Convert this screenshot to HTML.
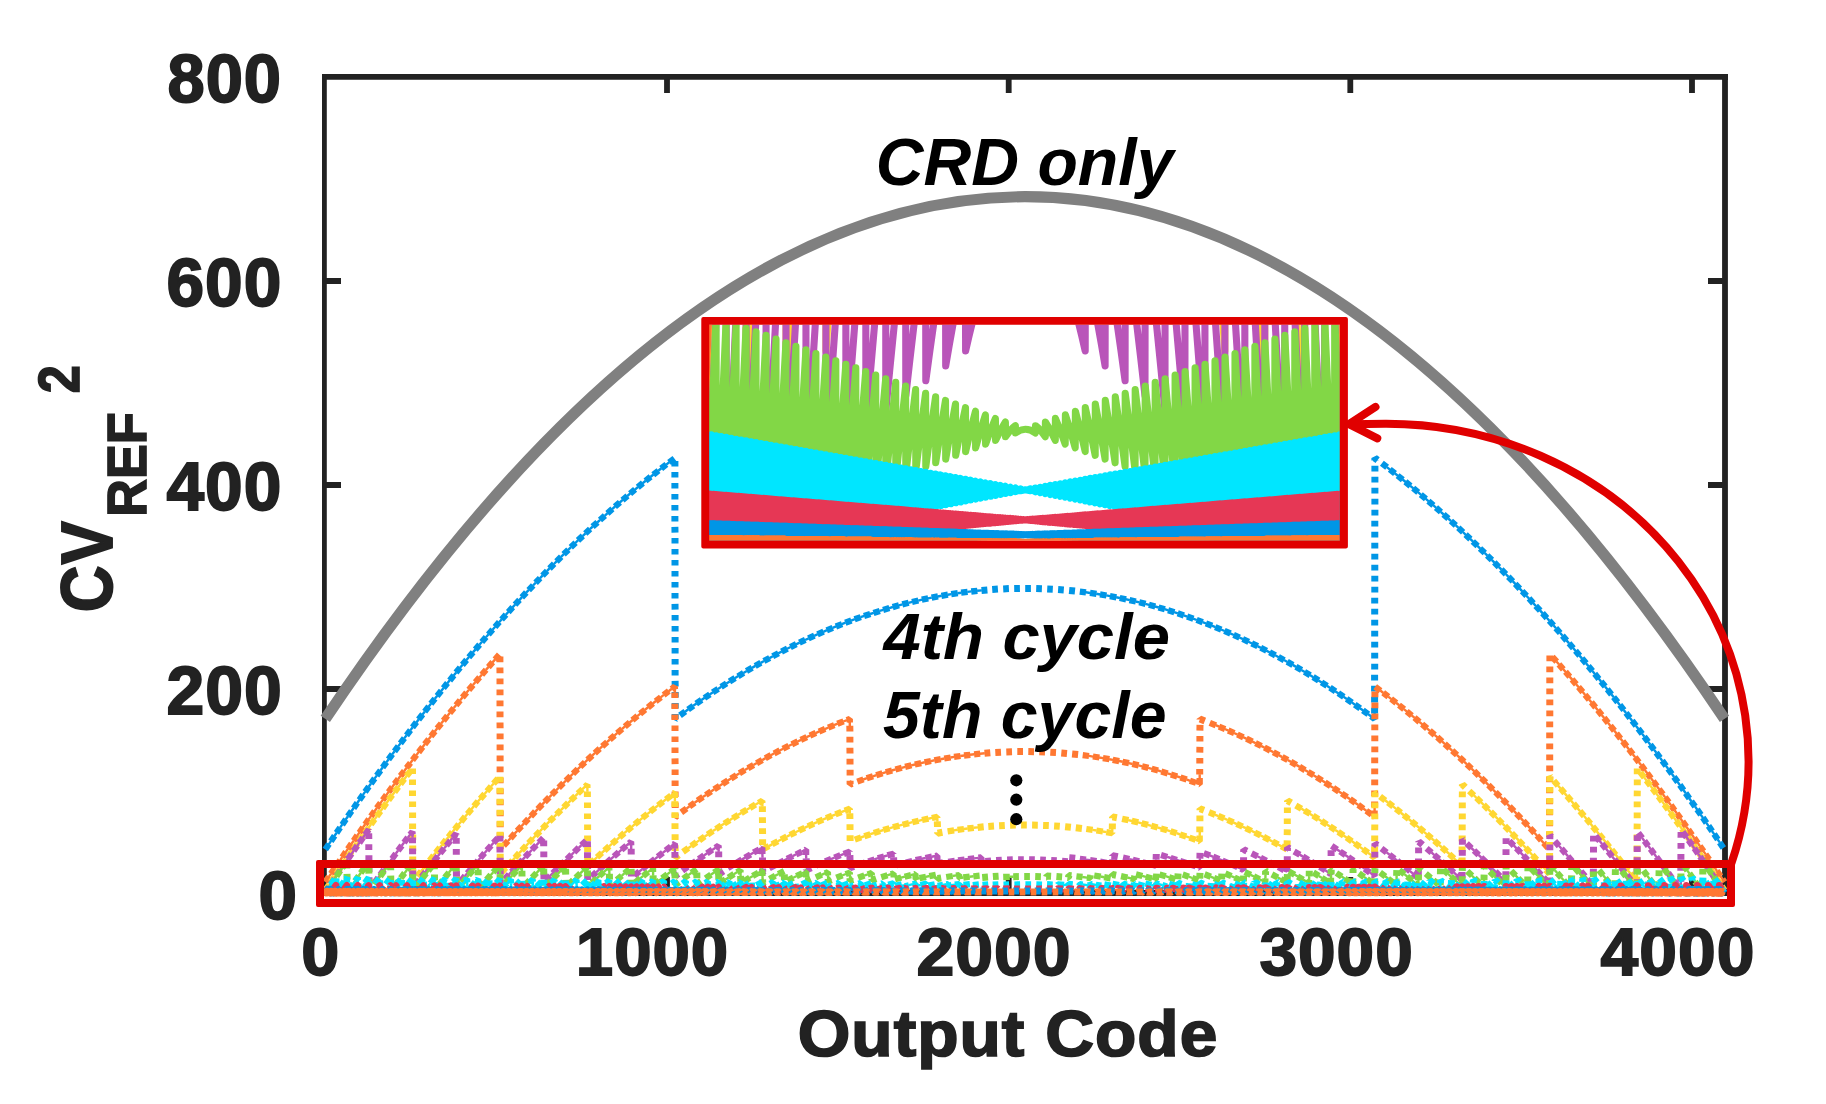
<!DOCTYPE html>
<html lang="en"><head><meta charset="utf-8"><title>CRD switching energy</title>
<style>html,body{margin:0;padding:0;background:#fff}svg{display:block}text{font-family:"Liberation Sans",sans-serif;font-weight:bold}.t{font-size:68px;fill:#222;stroke:#222;stroke-width:1.8px;letter-spacing:1px}.l{font-size:68px;fill:#222;stroke:#222;stroke-width:1.8px;letter-spacing:1px}.u{font-size:55px;fill:#222;stroke:#222;stroke-width:1.6px}.a{font-size:66px;font-style:italic;fill:#000}.d{fill:none;stroke-width:7;stroke-dasharray:5.7 5.3;stroke-linejoin:round;stroke-linecap:butt}.w{fill:none;stroke-width:7;stroke-linejoin:bevel}.w2{fill:none;stroke-width:6.3;stroke-linejoin:bevel}.n{fill:none;stroke-width:2.4}.s{fill:none;stroke-width:7.1;stroke-linejoin:round;stroke-linecap:round}</style></head><body>
<svg width="1826" height="1104" viewBox="0 0 1826 1104">
<rect width="1826" height="1104" fill="#fff"/>
<g stroke="#222222" stroke-width="5.8" fill="none">
<path d="M322 76.9H1728M322 893H1728M1725 74V896" />
<path d="M324.4 74V896" stroke-width="4.8"/>
<path d="M667 79V93M667 891V877M1008.7 79V93M1008.7 891V877M1350.3 79V93M1350.3 891V877M1692 79V93M1692 891V877M326 689H341M1723 689H1708M326 485H341M1723 485H1708M326 281H341M1723 281H1708"/>
</g>
<path d="M325.3 718.9Q675.1 196.8 1024.9 196.7Q1374.7 196.8 1724.5 718.9" fill="none" stroke="#808080" stroke-width="11.2"/>
<path class="w" stroke="#0096e6" d="M674.9 460.9L674.9 466.6M674.9 471.9L674.9 477.6M674.9 482.9L674.9 488.6M674.9 493.9L674.9 499.6M674.9 504.9L674.9 510.6M674.9 515.9L674.9 521.6M674.9 526.9L675 532.6M675 537.9L675 543.6M675 548.9L675 554.6M675 559.9L675 565.6M675 570.9L675 576.6M675 581.9L675 587.6M675 592.9L675 598.6M675 603.9L675.1 609.6M675.1 614.9L675.1 620.6M675.1 625.9L675.1 631.6M675.1 636.9L675.1 642.6M675.1 647.9L675.1 653.6M675.1 658.9L675.1 664.6M675.1 669.9L675.1 675.6M675.1 680.9L675.2 686.6M675.2 691.9L675.2 697.6M675.2 702.9L675.2 708.6M675.2 713.9L675.2 718.9L675.7 718.5M981.5 590.4L987.4 589.9M992.2 589.5L997.9 589.1M1003.2 588.9L1008.9 588.6M1014.2 588.5L1019.9 588.4M1025.2 588.4L1030.9 588.4M1036.2 588.5L1041.9 588.7M1047.2 588.9L1052.8 589.2M1058.1 589.6L1063.8 590M1069.1 590.5L1075 591.1M1374.6 713.4L1374.6 707.7M1374.6 702.4L1374.6 696.7M1374.6 691.4L1374.6 685.7M1374.6 680.4L1374.6 674.7M1374.7 669.4L1374.7 663.7M1374.7 658.4L1374.7 652.7M1374.7 647.4L1374.7 641.7M1374.7 636.4L1374.7 630.7M1374.7 625.4L1374.7 619.7M1374.7 614.4L1374.7 608.7M1374.7 603.4L1374.7 597.7M1374.8 592.4L1374.8 586.7M1374.8 581.4L1374.8 575.7M1374.8 570.4L1374.8 564.7M1374.8 559.4L1374.8 553.7M1374.8 548.4L1374.8 542.7M1374.8 537.4L1374.8 531.7M1374.8 526.4L1374.8 520.7M1374.9 515.4L1374.9 509.7M1374.9 504.4L1374.9 498.7M1374.9 493.4L1374.9 487.7M1374.9 482.4L1374.9 476.7M1374.9 471.4L1374.9 465.7M1374.9 460.4L1374.9 458.1L1377.6 460.1"/>
<path class="w2" stroke="#0096e6" d="M325.3 849.5L329 844M330.9 841.2L334.6 835.7M336.5 832.9L340.2 827.5M342.2 824.7L345.9 819.2M347.8 816.4L351.6 811M353.6 808.2L357.3 802.8M359.3 800L363.1 794.6M365.1 791.9L368.9 786.5M370.9 783.7L374.7 778.4M376.7 775.6L380.6 770.3M382.6 767.5L386.5 762.2M388.5 759.4L392.4 754.1M394.5 751.4L398.4 746.1M400.4 743.4L404.4 738.1M406.5 735.4L410.5 730.2M412.5 727.4L416.5 722.2M418.6 719.5L422.7 714.3M424.7 711.6L428.8 706.4M430.9 703.8L435 698.6M437.1 695.9L441.3 690.8M443.4 688.1L447.5 683M449.7 680.4L453.9 675.2M456 672.6L460.2 667.5M462.4 664.9L466.6 659.9M468.8 657.3L473.1 652.2M475.3 649.6L479.6 644.6M481.8 642L486.1 637M488.4 634.5L492.7 629.5M495 627L499.3 622M501.6 619.5L506 614.6M508.3 612.1L512.7 607.2M515 604.7L519.5 599.8M521.8 597.3L526.3 592.5M528.7 590.1L533.2 585.3M535.6 582.8L540.1 578.1M542.5 575.6L547.1 570.9M549.5 568.5L554.1 563.8M556.5 561.4L561.2 556.7M563.6 554.3L568.4 549.7M570.8 547.3L575.6 542.8M578 540.4L582.8 535.9M585.3 533.5L590.1 529M592.6 526.7L597.5 522.3M600 520L604.9 515.6M607.4 513.3L612.4 508.9M614.9 506.7L619.9 502.3M622.5 500.1L627.5 495.8M630.1 493.6L635.1 489.4M637.8 487.2L642.9 483M645.5 480.9L650.6 476.8M653.3 474.7L658.5 470.6M661.2 468.5L666.4 464.4M669.1 462.4L674.4 458.4M680 715.4L685.3 711.5M688.1 709.5L693.4 705.7M696.2 703.7L701.6 699.9M704.4 698L709.9 694.3M712.7 692.4L718.2 688.8M721.1 686.9L726.6 683.4M729.5 681.5L735.1 678M738 676.3L743.6 672.8M746.5 671.1L752.2 667.8M755.2 666L760.9 662.8M763.9 661.1L769.7 657.9M772.7 656.3L778.5 653.2M781.5 651.6L787.4 648.6M790.4 647.1L796.3 644.2M799.4 642.7L805.3 639.9M808.4 638.4L814.4 635.7M817.5 634.3L823.6 631.7M826.7 630.3L832.8 627.8M835.9 626.5L842.1 624.1M845.3 622.8L851.4 620.5M854.6 619.3L860.8 617.1M864 616L870.3 613.9M873.5 612.9L879.8 610.9M883.1 609.9L889.4 608M892.7 607.1L899 605.3M902.3 604.4L908.7 602.8M912 602L918.4 600.5M921.8 599.7L928.2 598.4M931.6 597.7L938 596.4M941.4 595.8L947.9 594.7M951.2 594.2L957.8 593.2M961.1 592.7L967.6 591.9M971.2 591.5L977.4 590.8M1079.8 591.6L1086 592.4M1090 592.9L1096.5 593.9M1100 594.4L1106.5 595.5M1109.9 596.1L1116.4 597.3M1119.7 598L1126.1 599.3M1129.5 600.1L1135.9 601.5M1139.2 602.3L1145.6 603.9M1148.9 604.8L1155.3 606.5M1158.5 607.5L1164.9 609.3M1168.1 610.3L1174.4 612.3M1177.7 613.3L1183.9 615.4M1187.1 616.5L1193.4 618.7M1196.6 619.9L1202.7 622.2M1205.9 623.4L1212.1 625.8M1215.2 627.1L1221.3 629.6M1224.4 630.9L1230.5 633.5M1233.6 634.9L1239.6 637.6M1242.7 639L1248.7 641.9M1251.7 643.3L1257.7 646.2M1260.7 647.8L1266.6 650.8M1269.6 652.3L1275.4 655.4M1278.4 657L1284.2 660.2M1287.2 661.8L1292.9 665.1M1295.9 666.8L1301.6 670.1M1304.5 671.9L1310.2 675.3M1313.1 677L1318.7 680.5M1321.5 682.3L1327.1 685.9M1330 687.7L1335.5 691.4M1338.3 693.2L1343.8 696.9M1346.6 698.9L1352 702.6M1354.8 704.6L1360.2 708.4M1362.9 710.4L1368.3 714.3M1371 716.3L1374.6 718.9L1374.6 716.8M1381.9 463.3L1387.1 467.3M1389.8 469.4L1395 473.5M1397.6 475.6L1402.8 479.7M1405.4 481.8L1410.5 486M1413.2 488.2L1418.2 492.4M1420.8 494.6L1425.9 498.9M1428.4 501.1L1433.4 505.4M1436 507.6L1440.9 512M1443.5 514.3L1448.4 518.7M1450.9 521L1455.8 525.4M1458.3 527.7L1463.1 532.2M1465.6 534.6L1470.4 539.1M1472.8 541.4L1477.6 546M1480 548.4L1484.8 553M1487.2 555.4L1491.9 560M1494.3 562.4L1498.9 567.1M1501.3 569.5L1505.9 574.2M1508.3 576.7L1512.9 581.4M1515.2 583.9L1519.8 588.7M1522.1 591.1L1526.6 595.9M1529 598.4L1533.4 603.3M1535.7 605.8L1540.2 610.7M1542.5 613.2L1546.9 618.1M1549.2 620.6L1553.6 625.5M1555.8 628.1L1560.2 633M1562.4 635.6L1566.7 640.6M1569 643.2L1573.3 648.2M1575.5 650.8L1579.7 655.8M1581.9 658.4L1586.2 663.4M1588.3 666.1L1592.5 671.1M1594.7 673.8L1598.9 678.9M1601 681.5L1605.2 686.6M1607.3 689.3L1611.5 694.4M1613.6 697.1L1617.7 702.3M1619.8 704.9L1623.9 710.1M1626 712.8L1630 718M1632.1 720.7L1636.1 725.9M1638.2 728.6L1642.2 733.9M1644.2 736.6L1648.2 741.9M1650.2 744.6L1654.2 749.9M1656.2 752.6L1660.1 757.9M1662.2 760.6L1666.1 766M1668.1 768.7L1671.9 774M1673.9 776.8L1677.8 782.2M1679.8 784.9L1683.6 790.3M1685.6 793.1L1689.4 798.5M1691.3 801.2L1695.1 806.6M1697.1 809.4L1700.9 814.8M1702.8 817.6L1706.5 823.1M1708.5 825.9L1712.2 831.3M1714.1 834.1L1717.8 839.6M1719.7 842.4L1723.4 847.9"/>
<path class="n" stroke="#0096e6" d="M328.8 844.3L331.1 840.9M334.4 836L336.7 832.7M340.1 827.7L342.3 824.4M345.7 819.5L348 816.2M351.4 811.2L353.7 808M357.2 803L359.5 799.8M362.9 794.9L365.2 791.6M368.7 786.7L371 783.5M374.5 778.6L376.9 775.4M380.4 770.5L382.8 767.3M386.3 762.4L388.7 759.2M392.2 754.4L394.6 751.2M398.2 746.4L400.6 743.1M404.2 738.4L406.6 735.2M410.3 730.4L412.7 727.2M416.4 722.5L418.8 719.3M422.5 714.5L424.9 711.4M428.6 706.7L431.1 703.5M434.8 698.8L437.3 695.7M441.1 691L443.6 687.9M447.4 683.2L449.9 680.1M453.7 675.5L456.2 672.4M460 667.8L462.6 664.7M466.4 660.1L469 657M472.9 652.4L475.5 649.4M479.4 644.8L482 641.8M485.9 637.3L488.6 634.3M492.5 629.7L495.2 626.7M499.1 622.3L501.8 619.3M505.8 614.8L508.5 611.8M512.5 607.4L515.2 604.5M519.3 600.1L522 597.1M526.1 592.7L528.9 589.8M533 585.5L535.8 582.6M539.9 578.3L542.7 575.4M546.9 571.1L549.7 568.2M553.9 564L556.8 561.2M561 556.9L563.9 554.1M568.2 549.9L571 547.1M575.3 543L578.2 540.2M582.6 536.1L585.5 533.3M589.9 529.2L592.8 526.5M597.2 522.5L600.2 519.8M604.7 515.8L607.6 513.1M612.1 509.1L615.1 506.5M619.7 502.5L622.7 499.9M627.3 496L630.3 493.4M634.9 489.6L638 487M642.6 483.2L645.7 480.7M650.4 477L653.5 474.5M658.3 470.8L661.4 468.3M666.2 464.6L669.3 462.2M685.1 711.7L688.3 709.3M693.2 705.8L696.5 703.5M701.4 700.1L704.7 697.8M709.6 694.5L713 692.3M718 688.9L721.3 686.8M726.4 683.5L729.7 681.4M734.8 678.2L738.2 676.1M743.4 673L746.8 670.9M752 667.9L755.4 665.9M760.7 662.9L764.1 661M769.4 658.1L772.9 656.2M778.2 653.4L781.8 651.5M787.1 648.8L790.7 647M796 644.3L799.6 642.6M805.1 640L808.7 638.3M814.2 635.8L817.8 634.2M823.3 631.8L827 630.2M832.5 627.9L836.2 626.4M841.8 624.2L845.5 622.7M851.1 620.6L854.9 619.2M860.6 617.2L864.3 615.9M870 614L873.8 612.8M879.5 610.9L883.4 609.8M889.1 608.1L893 607M898.8 605.4L902.6 604.4M908.4 602.9L912.3 601.9M918.2 600.6L922.1 599.7M927.9 598.4L931.8 597.6M937.7 596.5L941.7 595.8M947.6 594.8L951.5 594.1M957.5 593.2L961.4 592.7M967.3 591.9L971.5 591.4M977.1 590.8L981.8 590.4M1085.7 592.3L1090.3 593M1096.2 593.8L1100.3 594.5M1106.2 595.4L1110.2 596.1M1116.1 597.3L1120 598M1125.9 599.3L1129.8 600.1M1135.6 601.5L1139.5 602.4M1145.3 603.9L1149.2 604.9M1155 606.5L1158.8 607.5M1164.6 609.2L1168.4 610.4M1174.1 612.2L1177.9 613.4M1183.6 615.3L1187.4 616.6M1193.1 618.6L1196.8 620M1202.5 622.1L1206.2 623.5M1211.8 625.7L1215.5 627.2M1221 629.5L1224.7 631M1230.2 633.4L1233.9 635M1239.4 637.5L1243 639.2M1248.4 641.7L1252 643.5M1257.4 646.1L1261 647.9M1266.3 650.6L1269.9 652.5M1275.2 655.3L1278.7 657.2M1284 660L1287.5 662M1292.7 664.9L1296.1 666.9M1301.3 670L1304.8 672M1309.9 675.1L1313.3 677.2M1318.4 680.4L1321.8 682.5M1326.9 685.7L1330.2 687.9M1335.2 691.2L1338.6 693.4M1343.5 696.8L1346.8 699M1351.8 702.4L1355 704.7M1359.9 708.2L1363.2 710.5M1368 714.1L1371.3 716.4M1374.6 717.1L1374.6 713.1M1386.9 467.1L1390 469.6M1394.7 473.3L1397.9 475.8M1402.6 479.5L1405.7 482M1410.3 485.8L1413.4 488.4M1418 492.2L1421.1 494.8M1425.6 498.7L1428.7 501.3M1433.2 505.2L1436.2 507.8M1440.7 511.8L1443.7 514.5M1448.2 518.5L1451.1 521.2M1455.6 525.2L1458.5 527.9M1462.9 532L1465.8 534.8M1470.2 538.9L1473.1 541.6M1477.4 545.8L1480.3 548.6M1484.6 552.8L1487.4 555.6M1491.7 559.8L1494.5 562.6M1498.7 566.9L1501.5 569.7M1505.7 574L1508.5 576.9M1512.7 581.2L1515.5 584.1M1519.6 588.4L1522.3 591.4M1526.4 595.7L1529.2 598.7M1533.2 603.1L1535.9 606M1540 610.4L1542.7 613.4M1546.7 617.8L1549.4 620.8M1553.4 625.3L1556 628.3M1560 632.8L1562.6 635.8M1566.5 640.4L1569.1 643.4M1573.1 647.9L1575.7 651M1579.5 655.6L1582.1 658.6M1586 663.2L1588.5 666.3M1592.4 670.9L1594.9 674M1598.7 678.6L1601.2 681.7M1605 686.4L1607.5 689.5M1611.3 694.2L1613.8 697.3M1617.5 702L1620 705.2M1623.7 709.9L1626.1 713M1629.8 717.8L1632.3 720.9M1635.9 725.7L1638.4 728.9M1642 733.6L1644.4 736.8M1648 741.6L1650.4 744.8M1654 749.6L1656.4 752.8M1660 757.7L1662.3 760.9M1665.9 765.7L1668.2 768.9M1671.8 773.8L1674.1 777M1677.6 781.9L1680 785.2M1683.4 790L1685.8 793.3M1689.2 798.2L1691.5 801.5M1695 806.4L1697.3 809.7M1700.7 814.6L1703 817.9M1706.4 822.8L1708.6 826.1M1712 831.1L1714.3 834.4M1717.6 839.3L1719.9 842.7"/>
<path class="w" stroke="#ff7832" d="M499.9 656.5L499.9 662.2M499.9 667.5L500 673.2M500 678.5L500 684.2M500 689.5L500 695.2M500 700.5L500 706.2M500 711.5L500 717.2M500 722.5L500.1 728.2M500.1 733.5L500.1 739.2M500.1 744.5L500.1 750.2M500.1 755.5L500.1 761.2M500.1 766.5L500.1 772.2M500.1 777.5L500.1 783.2M500.2 788.5L500.2 794.2M500.2 799.5L500.2 805.2M500.2 810.5L500.2 816.2M500.2 821.5L500.2 827.2M500.2 832.5L500.2 838.2M500.3 843.5L500.3 849.2M674.9 692.4L674.9 698.1M674.9 703.4L674.9 709.1M674.9 714.4L674.9 720.1M675 725.4L675 731.1M675 736.4L675 742.1M675 747.4L675 753.1M675 758.4L675.1 764.1M675.1 769.4L675.1 775.1M675.1 780.4L675.1 786.1M675.1 791.4L675.1 797.1M675.2 802.4L675.2 808.1M675.2 813.4L675.2 816.8L677 815.5M849.8 725.8L849.9 731.5M849.9 736.8L849.9 742.5M849.9 747.8L850 753.5M850 758.8L850 764.5M850.1 769.8L850.1 775.5M850.1 780.8L850.1 784.2L852.3 783.4M984.5 753.3L990.3 752.8M995.3 752.5L1001 752.2M1006.3 751.9L1012 751.7M1017.3 751.6L1023 751.6M1028.3 751.6L1034 751.7M1039.3 751.8L1045 752M1050.3 752.3L1056 752.6M1061.3 753L1067 753.5M1072.1 754L1078.1 754.6M1199.7 774.6L1199.7 768.9M1199.8 763.6L1199.8 757.9M1199.8 752.6L1199.9 746.9M1199.9 741.6L1199.9 735.9M1199.9 730.6L1200 724.9M1200 719.6L1200 719L1204.8 720.9M1374.6 807.2L1374.6 801.5M1374.6 796.2L1374.7 790.5M1374.7 785.2L1374.7 779.5M1374.7 774.2L1374.7 768.5M1374.7 763.2L1374.7 757.5M1374.8 752.2L1374.8 746.5M1374.8 741.2L1374.8 735.5M1374.8 730.2L1374.8 724.5M1374.8 719.2L1374.9 713.5M1374.9 708.2L1374.9 702.5M1374.9 697.2L1374.9 691.5M1549.5 848.3L1549.5 842.6M1549.5 837.3L1549.6 831.6M1549.6 826.3L1549.6 820.6M1549.6 815.3L1549.6 809.6M1549.6 804.3L1549.6 798.6M1549.6 793.3L1549.6 787.6M1549.6 782.3L1549.7 776.6M1549.7 771.3L1549.7 765.6M1549.7 760.3L1549.7 754.6M1549.7 749.3L1549.7 743.6M1549.7 738.3L1549.7 732.6M1549.7 727.3L1549.7 721.6M1549.8 716.3L1549.8 710.6M1549.8 705.3L1549.8 699.6M1549.8 694.3L1549.8 688.6M1549.8 683.3L1549.8 677.6M1549.8 672.3L1549.8 666.6M1549.9 661.3L1549.9 655.6"/>
<path class="w2" stroke="#ff7832" d="M325.3 882.1L329 876.6M330.9 873.8L334.6 868.4M336.5 865.5L340.2 860.1M342.2 857.3L345.9 851.9M347.8 849.1L351.6 843.6M353.6 840.8L357.3 835.4M359.3 832.7L363.1 827.3M365.1 824.5L368.9 819.1M370.9 816.4L374.7 811M376.7 808.2L380.6 802.9M382.6 800.1L386.5 794.8M388.5 792.1L392.4 786.8M394.5 784L398.4 778.8M400.4 776L404.4 770.8M406.5 768L410.5 762.8M412.5 760.1L416.5 754.9M418.6 752.2L422.7 746.9M424.7 744.3L428.8 739.1M430.9 736.4L435 731.2M437.1 728.6L441.3 723.4M443.4 720.8L447.5 715.6M449.7 713L453.9 707.9M456 705.3L460.2 700.2M462.4 697.6L466.6 692.5M468.8 689.9L473.1 684.9M475.3 682.3L479.6 677.2M481.8 674.7L486.1 669.7M488.4 667.1L492.7 662.2M495 659.6L499.3 654.7M503.6 845.7L508.1 840.8M510.4 838.3L514.8 833.4M517.1 830.9L521.6 826.1M523.9 823.6L528.4 818.8M530.8 816.3L535.3 811.5M537.7 809.1L542.3 804.3M544.6 801.9L549.3 797.2M551.7 794.8L556.3 790.1M558.7 787.7L563.4 783M565.8 780.7L570.6 776.1M573 773.7L577.8 769.1M580.2 766.8L585 762.3M587.5 759.9L592.3 755.4M594.8 753.1L599.7 748.7M602.2 746.4L607.2 742M609.7 739.7L614.7 735.4M617.2 733.1L622.2 728.8M624.8 726.6L629.8 722.3M632.4 720.2L637.5 715.9M640.1 713.8L645.2 709.6M647.9 707.5L653 703.3M655.7 701.2L660.9 697.2M663.6 695.1L668.8 691.1M671.5 689L674.9 686.5L674.9 689M681.3 812.4L686.6 808.5M689.4 806.5L694.7 802.7M697.5 800.7L703 796.9M705.8 795L711.2 791.3M714.1 789.4L719.6 785.8M722.4 784L728 780.4M730.9 778.6L736.5 775.1M739.4 773.3L745 769.9M747.9 768.2L753.6 764.9M756.6 763.2L762.3 759.9M765.3 758.3L771.1 755.1M774.1 753.5L779.9 750.4M782.9 748.8L788.8 745.8M791.8 744.3L797.8 741.4M800.8 739.9L806.8 737.1M809.9 735.7L815.9 732.9M819 731.6L825.1 728.9M828.2 727.6L834.3 725.1M837.4 723.8L843.6 721.4M846.8 720.2L849.8 719L849.8 722.4M857.3 781.6L863.5 779.4M866.7 778.3L873 776.2M876.2 775.2L882.5 773.2M885.8 772.3L892.1 770.4M895.4 769.5L901.8 767.8M905.1 766.9L911.5 765.3M914.8 764.5L921.2 763.1M924.5 762.3L931 761M934.3 760.3L940.8 759.1M944.2 758.5L950.7 757.5M954 756.9L960.5 756M964 755.5L970.3 754.8M974.1 754.3L980.2 753.7M1082.7 755.2L1089 756M1092.9 756.5L1099.4 757.5M1102.9 758.1L1109.4 759.2M1112.7 759.8L1119.2 761.1M1122.5 761.8L1129 763.2M1132.3 763.9L1138.7 765.4M1142 766.2L1148.4 767.9M1151.7 768.8L1158.1 770.5M1161.3 771.5L1167.7 773.4M1170.9 774.4L1177.2 776.4M1180.4 777.4L1186.7 779.5M1189.9 780.7L1196.1 782.9M1199.3 784.1L1199.7 784.2L1199.7 778M1209.8 722.8L1215.9 725.3M1219 726.6L1225.1 729.1M1228.2 730.5L1234.3 733.1M1237.4 734.5L1243.4 737.3M1246.4 738.7L1252.4 741.6M1255.5 743.1L1261.4 746M1264.4 747.5L1270.3 750.6M1273.3 752.2L1279.1 755.3M1282.1 756.9L1287.8 760.1M1290.8 761.8L1296.5 765.1M1299.5 766.8L1305.1 770.2M1308 771.9L1313.7 775.3M1316.6 777.1L1322.2 780.6M1325 782.5L1330.6 786.1M1333.4 787.9L1338.9 791.6M1341.7 793.5L1347.2 797.2M1350 799.1L1355.4 802.9M1358.2 804.9L1363.5 808.7M1366.3 810.7L1371.6 814.6M1374.3 816.6L1374.6 816.8L1374.6 810.6M1375.2 686.8L1380.5 690.7M1383.2 692.8L1388.4 696.8M1391.1 698.9L1396.3 703M1399 705.1L1404.1 709.2M1406.7 711.4L1411.8 715.6M1414.5 717.7L1419.5 722M1422.1 724.2L1427.1 728.5M1429.7 730.7L1434.7 735M1437.3 737.2L1442.2 741.6M1444.7 743.9L1449.6 748.3M1452.2 750.6L1457 755M1459.5 757.4L1464.3 761.9M1466.8 764.2L1471.6 768.7M1474.1 771.1L1478.8 775.7M1481.3 778L1486 782.6M1488.4 785L1493.1 789.7M1495.5 792.1L1500.1 796.8M1502.5 799.2L1507.1 803.9M1509.5 806.4L1514.1 811.1M1516.4 813.6L1521 818.4M1523.3 820.8L1527.8 825.7M1530.1 828.1L1534.6 833M1536.9 835.5L1541.3 840.4M1543.6 842.9L1548 847.8M1552.3 656.8L1556.7 661.7M1558.9 664.3L1563.3 669.3M1565.5 671.8L1569.8 676.8M1572 679.4L1576.3 684.4M1578.5 687L1582.8 692.1M1585 694.7L1589.2 699.7M1591.4 702.3L1595.6 707.4M1597.7 710.1L1601.9 715.2M1604 717.8L1608.2 723M1610.3 725.6L1614.4 730.8M1616.5 733.4L1620.6 738.6M1622.7 741.3L1626.8 746.5M1628.9 749.2L1632.9 754.4M1635 757.1L1639 762.3M1641 765L1645 770.3M1647.1 773L1651 778.3M1653.1 781L1657 786.3M1659 789L1663 794.4M1665 797.1L1668.9 802.4M1670.9 805.2L1674.7 810.5M1676.7 813.3L1680.6 818.7M1682.5 821.4L1686.4 826.8M1688.3 829.6L1692.1 835M1694.1 837.8L1697.9 843.2M1699.8 846L1703.6 851.4M1705.5 854.2L1709.2 859.6M1711.1 862.4L1714.9 867.9M1716.8 870.7L1720.5 876.2M1722.4 879L1724.5 882.1"/>
<path class="n" stroke="#ff7832" d="M328.8 876.9L331.1 873.6M334.4 868.6L336.7 865.3M340.1 860.3L342.3 857M345.7 852.1L348 848.8M351.4 843.9L353.7 840.6M357.2 835.7L359.5 832.4M362.9 827.5L365.2 824.2M368.7 819.4L371 816.1M374.5 811.2L376.9 808M380.4 803.1L382.8 799.9M386.3 795.1L388.7 791.8M392.2 787L394.6 783.8M398.2 779L400.6 775.8M404.2 771L406.6 767.8M410.3 763L412.7 759.9M416.4 755.1L418.8 751.9M422.5 747.2L424.9 744M428.6 739.3L431.1 736.2M434.8 731.5L437.3 728.3M441.1 723.6L443.6 720.5M447.4 715.9L449.9 712.8M453.7 708.1L456.2 705M460 700.4L462.6 697.3M466.4 692.7L469 689.7M472.9 685.1L475.5 682M479.4 677.5L482 674.4M485.9 669.9L488.6 666.9M492.5 662.4L495.2 659.4M507.9 841L510.6 838.1M514.6 833.6L517.3 830.7M521.4 826.3L524.1 823.4M528.2 819L531 816.1M535.1 811.8L537.9 808.9M542.1 804.6L544.9 801.7M549.1 797.4L551.9 794.6M556.1 790.3L558.9 787.5M563.2 783.3L566 780.5M570.3 776.3L573.2 773.5M577.5 769.3L580.4 766.6M584.8 762.5L587.7 759.7M592.1 755.6L595.1 752.9M599.5 748.9L602.5 746.2M606.9 742.2L609.9 739.5M614.4 735.6L617.4 732.9M622 729L625 726.4M629.6 722.5L632.7 720M637.3 716.1L640.4 713.6M645 709.8L648.1 707.3M652.8 703.5L655.9 701M660.7 697.4L663.8 694.9M668.6 691.3L671.8 688.8M674.9 688.7L674.9 692.7M686.4 808.6L689.6 806.3M694.5 802.8L697.8 800.5M702.7 797.1L706 794.9M711 791.5L714.3 789.3M719.3 786L722.7 783.8M727.7 780.6L731.1 778.4M736.2 775.3L739.6 773.2M744.8 770.1L748.2 768M753.4 765L756.8 763M762.1 760.1L765.6 758.1M770.8 755.2L774.3 753.3M779.6 750.5L783.2 748.7M788.5 746L792.1 744.2M797.5 741.5L801.1 739.8M806.5 737.2L810.2 735.5M815.6 733.1L819.3 731.4M824.8 729.1L828.5 727.5M834 725.2L837.7 723.7M843.3 721.5L847 720.1M849.8 722.1L849.8 726.1M863.2 779.5L867 778.2M872.7 776.3L876.5 775.1M882.2 773.3L886.1 772.2M891.8 770.5L895.7 769.4M901.5 767.9L905.4 766.8M911.2 765.4L915.1 764.5M920.9 763.1L924.8 762.3M930.7 761.1L934.6 760.3M940.5 759.2L944.5 758.5M950.4 757.5L954.3 756.9M960.2 756L964.3 755.5M970 754.8L974.4 754.3M979.9 753.7L984.8 753.3M1088.7 755.9L1093.2 756.6M1099.1 757.5L1103.2 758.1M1109.1 759.2L1113 759.9M1118.9 761L1122.8 761.8M1128.7 763.1L1132.6 764M1138.4 765.4L1142.3 766.3M1148.1 767.8L1152 768.8M1157.8 770.4L1161.6 771.6M1167.4 773.3L1171.2 774.4M1176.9 776.3L1180.7 777.5M1186.4 779.4L1190.2 780.8M1195.8 782.8L1199.6 784.2M1199.7 778.3L1199.7 774.3M1215.6 725.1L1219.3 726.7M1224.8 729L1228.5 730.6M1234 733L1237.6 734.6M1243.1 737.1L1246.7 738.8M1252.1 741.4L1255.7 743.2M1261.1 745.9L1264.7 747.7M1270 750.4L1273.5 752.3M1278.8 755.1L1282.3 757.1M1287.6 760L1291.1 761.9M1296.3 764.9L1299.7 766.9M1304.9 770L1308.3 772.1M1313.4 775.2L1316.8 777.3M1321.9 780.5L1325.3 782.6M1330.3 785.9L1333.7 788.1M1338.7 791.4L1342 793.6M1346.9 797L1350.2 799.3M1355.1 802.7L1358.4 805M1363.3 808.5L1366.5 810.9M1371.4 814.4L1374.6 816.8M1374.6 810.9L1374.6 806.9M1380.3 690.5L1383.4 693M1388.2 696.6L1391.4 699.1M1396.1 702.8L1399.2 705.3M1403.9 709.1L1407 711.6M1411.6 715.4L1414.7 717.9M1419.3 721.8L1422.4 724.4M1426.9 728.3L1429.9 730.9M1434.5 734.8L1437.5 737.4M1442 741.4L1445 744.1M1449.4 748.1L1452.4 750.8M1456.8 754.8L1459.7 757.6M1464.1 761.7L1467 764.4M1471.4 768.5L1474.3 771.3M1478.6 775.4L1481.5 778.2M1485.8 782.4L1488.6 785.2M1492.9 789.5L1495.7 792.3M1499.9 796.6L1502.7 799.4M1506.9 803.7L1509.7 806.6M1513.9 810.9L1516.6 813.8M1520.7 818.1L1523.5 821.1M1527.6 825.4L1530.3 828.4M1534.4 832.8L1537.1 835.7M1541.1 840.2L1543.8 843.1M1556.5 661.5L1559.1 664.5M1563.1 669L1565.7 672M1569.6 676.6L1572.2 679.6M1576.1 684.2L1578.7 687.2M1582.6 691.8L1585.2 694.9M1589 699.5L1591.6 702.6M1595.4 707.2L1597.9 710.3M1601.7 715L1604.2 718.1M1608 722.7L1610.5 725.9M1614.2 730.5L1616.7 733.7M1620.4 738.4L1622.9 741.5M1626.6 746.3L1629 749.4M1632.7 754.2L1635.2 757.3M1638.8 762.1L1641.2 765.3M1644.9 770.1L1647.3 773.3M1650.9 778.1L1653.3 781.3M1656.8 786.1L1659.2 789.3M1662.8 794.1L1665.1 797.3M1668.7 802.2L1671 805.4M1674.6 810.3L1676.9 813.5M1680.4 818.4L1682.7 821.7M1686.2 826.6L1688.5 829.8M1691.9 834.7L1694.2 838M1697.7 842.9L1700 846.2M1703.4 851.1L1705.7 854.4M1709 859.4L1711.3 862.7M1714.7 867.6L1716.9 870.9M1720.3 875.9L1722.5 879.2"/>
<path class="w" stroke="#ffd732" d="M412.5 768.4L412.5 774.1M412.5 779.4L412.5 785.1M412.5 790.4L412.5 796.1M412.6 801.4L412.6 807.1M412.6 812.4L412.6 818.1M412.6 823.4L412.6 829.1M412.7 834.4L412.7 840.1M412.7 845.4L412.7 851.1M412.7 856.4L412.7 862.1M412.8 867.4L412.8 873.1M412.8 878.4L412.8 882.1L414 880.5M499.9 776.7L499.9 782.4M500 787.7L500 793.4M500 798.7L500 804.4M500 809.7L500.1 815.4M500.1 820.7L500.1 826.4M500.1 831.7L500.1 837.4M500.2 842.7L500.2 848.4M500.2 853.7L500.2 859.4M500.2 864.7L500.3 870.4M587.4 791.4L587.4 797.1M587.5 802.4L587.5 808.1M587.5 813.4L587.5 819.1M587.6 824.4L587.6 830.1M587.6 835.4L587.6 841.1M587.6 846.4L587.7 852.1M587.7 857.4L587.7 863.1M674.9 801.3L674.9 807M675 812.3L675 818M675 823.3L675 829M675.1 834.3L675.1 840M675.1 845.3L675.2 851M675.2 856.3L675.2 857.6L678.7 855M762.4 806.3L762.4 812M762.4 817.3L762.5 823M762.5 828.3L762.6 834M762.6 839.3L762.6 845M849.8 813.3L849.9 819M850 824.3L850 830M850.1 835.3L850.1 841M937.3 821.3L937.5 827M937.6 832.3L937.6 833.2L942.4 832.3M977.7 827.4L983.7 826.8M988.3 826.4L994 826M999.1 825.7L1004.8 825.4M1010.1 825.2L1015.8 825.1M1021.1 825L1024.9 825L1026.8 825M1032.1 825.1L1037.8 825.2M1043.1 825.4L1048.8 825.6M1054.1 825.9L1059.8 826.3M1065.1 826.7L1070.9 827.3M1075.8 827.8L1081.9 828.5M1112.3 829.2L1112.4 823.5M1112.5 818.2L1112.5 816.9L1116.9 817.7M1199.8 832.2L1199.8 826.5M1199.9 821.2L1199.9 815.5M1200 810.2L1200 808.8L1204 810.3M1287.1 846.1L1287.2 840.4M1287.2 835.1L1287.3 829.4M1287.3 824.1L1287.3 818.4M1287.4 813.1L1287.4 807.4M1287.5 802.1L1287.5 800.7L1291.2 802.8M1374.6 852.2L1374.6 846.5M1374.7 841.2L1374.7 835.5M1374.7 830.2L1374.8 824.5M1374.8 819.2L1374.8 813.5M1374.8 808.2L1374.9 802.5M1374.9 797.2L1374.9 792.6L1375.8 793.3M1462.1 863.2L1462.1 857.5M1462.1 852.2L1462.1 846.5M1462.2 841.2L1462.2 835.5M1462.2 830.2L1462.2 824.5M1462.3 819.2L1462.3 813.5M1462.3 808.2L1462.3 802.5M1462.3 797.2L1462.4 791.5M1462.4 786.2L1462.4 784.5L1465.3 787.3M1549.5 869.6L1549.6 863.9M1549.6 858.6L1549.6 852.9M1549.6 847.6L1549.6 841.9M1549.7 836.6L1549.7 830.9M1549.7 825.6L1549.7 819.9M1549.7 814.6L1549.8 808.9M1549.8 803.6L1549.8 797.9M1549.8 792.6L1549.8 786.9M1549.8 781.6L1549.9 776.4L1550.2 776.8M1637 873.3L1637 867.6M1637 862.3L1637.1 856.6M1637.1 851.3L1637.1 845.6M1637.1 840.3L1637.1 834.6M1637.1 829.3L1637.2 823.6M1637.2 818.3L1637.2 812.6M1637.2 807.3L1637.2 801.6M1637.2 796.3L1637.3 790.6M1637.3 785.3L1637.3 779.6M1637.3 774.3L1637.3 768.6"/>
<path class="w2" stroke="#ffd732" d="M325.3 890.3L329 884.8M330.9 882L334.6 876.5M336.5 873.7L340.2 868.3M342.2 865.5L345.9 860M347.8 857.2L351.6 851.8M353.6 849L357.3 843.6M359.3 840.8L363.1 835.4M365.1 832.7L368.9 827.3M370.9 824.5L374.7 819.2M376.7 816.4L380.6 811.1M382.6 808.3L386.5 803M388.5 800.2L392.4 794.9M394.5 792.2L398.4 786.9M400.4 784.2L404.4 778.9M406.5 776.2L410.5 771M417.2 876.3L421.3 871.1M423.4 868.4L427.4 863.2M429.5 860.6L433.6 855.4M435.7 852.7L439.9 847.6M442 844.9L446.1 839.8M448.3 837.1L452.4 832M454.6 829.4L458.8 824.3M461 821.7L465.2 816.6M467.4 814L471.6 809M473.8 806.4L478.1 801.3M480.3 798.8L484.7 793.8M486.9 791.2L491.2 786.2M493.5 783.7L497.9 778.7M501.4 872.7L505.8 867.7M508.1 865.2L512.6 860.3M514.9 857.8L519.3 853M521.7 850.5L526.2 845.7M528.5 843.2L533 838.4M535.4 836L540 831.2M542.3 828.8L546.9 824M549.3 821.6L554 816.9M556.4 814.5L561 809.9M563.5 807.5L568.2 802.8M570.6 800.5L575.4 795.9M577.8 793.5L582.6 789M585.1 786.7L587.4 784.5L587.4 788M589.6 864L594.5 859.6M597 857.3L601.9 852.8M604.4 850.6L609.3 846.2M611.9 843.9L616.8 839.6M619.4 837.3L624.4 833M627 830.8L632 826.6M634.6 824.4L639.7 820.2M642.3 818L647.5 813.9M650.1 811.7L655.3 807.6M658 805.5L663.2 801.5M665.9 799.4L671.1 795.4M673.8 793.4L674.9 792.6L674.9 797.9M683 851.9L688.4 848M691.1 846L696.5 842.2M699.3 840.3L704.7 836.5M707.5 834.6L713 830.9M715.9 829.1L721.4 825.4M724.2 823.6L729.8 820.1M732.7 818.3L738.3 814.8M741.2 813L746.9 809.6M749.8 807.9L755.5 804.6M758.5 802.9L762.3 800.7L762.3 802.9M763.3 849.1L769.1 845.9M772.1 844.3L777.9 841.2M781 839.6L786.8 836.6M789.9 835L795.8 832.1M798.8 830.6L804.8 827.8M807.9 826.4L813.9 823.6M817 822.2L823 819.6M826.1 818.2L832.2 815.7M835.4 814.4L841.5 812M844.7 810.7L849.8 808.8L849.8 809.9M854.8 839.6L861.1 837.4M864.3 836.3L870.5 834.2M873.8 833.1L880.1 831.1M883.3 830.1L889.6 828.2M892.9 827.3L899.3 825.6M902.6 824.7L909 823.1M912.3 822.3L918.7 820.8M922 820L928.5 818.6M931.8 818L937.3 816.9L937.3 817.9M947.6 831.4L954.1 830.4M957.5 829.9L964 829M967.5 828.5L973.8 827.8M1086.3 829L1092.7 829.9M1096.4 830.5L1102.9 831.5M1106.3 832.1L1112.2 833.2L1112.2 832.6M1122.1 818.8L1128.5 820.2M1131.8 820.9L1138.3 822.4M1141.6 823.2L1148 824.9M1151.3 825.8L1157.6 827.5M1160.9 828.5L1167.2 830.3M1170.5 831.3L1176.7 833.3M1180 834.4L1186.2 836.5M1189.4 837.6L1195.7 839.8M1198.8 841L1199.7 841.3L1199.7 835.6M1209 812.3L1215.1 814.7M1218.3 816L1224.3 818.5M1227.5 819.9L1233.5 822.5M1236.6 823.9L1242.6 826.7M1245.7 828.1L1251.6 831M1254.7 832.5L1260.6 835.4M1263.6 836.9L1269.5 840M1272.5 841.5L1278.3 844.6M1281.3 846.3L1287.1 849.5M1295.8 805.5L1301.5 808.8M1304.4 810.5L1310.1 813.9M1313 815.7L1318.6 819.2M1321.5 821L1327 824.6M1329.9 826.4L1335.4 830M1338.2 831.9L1343.7 835.6M1346.5 837.5L1351.9 841.3M1354.7 843.2L1360.1 847.1M1362.9 849L1368.2 852.9M1370.9 854.9L1374.6 857.6L1374.6 855.6M1380.1 796.5L1385.3 800.5M1388 802.6L1393.2 806.6M1395.9 808.7L1401 812.8M1403.7 815L1408.8 819.1M1411.4 821.3L1416.5 825.5M1419.1 827.7L1424.2 832M1426.7 834.2L1431.7 838.5M1434.3 840.7L1439.3 845.1M1441.8 847.3L1446.7 851.7M1449.2 854L1454.1 858.5M1456.6 860.8L1461.5 865.3M1469.2 790.9L1474 795.5M1476.4 797.8L1481.2 802.4M1483.6 804.8L1488.3 809.4M1490.7 811.8L1495.4 816.5M1497.8 818.9L1502.4 823.6M1504.8 826L1509.4 830.7M1511.7 833.2L1516.3 838M1518.6 840.4L1523.2 845.2M1525.5 847.7L1530 852.5M1532.3 855L1536.8 859.9M1539.1 862.4L1543.5 867.3M1545.8 869.8L1549.5 874L1549.5 873M1553.8 780.8L1558.1 785.8M1560.4 788.3L1564.7 793.3M1566.9 795.9L1571.2 800.9M1573.5 803.4L1577.7 808.5M1579.9 811.1L1584.2 816.1M1586.4 818.7L1590.6 823.8M1592.7 826.4L1596.9 831.5M1599.1 834.2L1603.3 839.3M1605.4 841.9L1609.5 847.1M1611.7 849.7L1615.8 854.9M1617.9 857.5L1622 862.7M1624.1 865.4L1628.1 870.6M1630.2 873.3L1634.2 878.5M1636.3 881.2L1637 882.1L1637 876.7M1640.4 772.4L1644.4 777.6M1646.4 780.3L1650.4 785.6M1652.4 788.3L1656.4 793.6M1658.4 796.3L1662.3 801.7M1664.3 804.4L1668.2 809.7M1670.2 812.5L1674.1 817.8M1676.1 820.6L1679.9 825.9M1681.9 828.7L1685.7 834.1M1687.7 836.9L1691.5 842.3M1693.5 845L1697.2 850.5M1699.2 853.2L1702.9 858.7M1704.9 861.5L1708.6 866.9M1710.5 869.7L1714.3 875.2M1716.2 878L1719.9 883.4M1721.8 886.3L1724.5 890.3"/>
<path class="n" stroke="#ffd732" d="M328.8 885.1L331.1 881.7M334.4 876.8L336.7 873.5M340.1 868.5L342.3 865.2M345.7 860.3L348 857M351.4 852L353.7 848.8M357.2 843.8L359.5 840.6M362.9 835.7L365.2 832.4M368.7 827.5L371 824.3M374.5 819.4L376.9 816.2M380.4 811.3L382.8 808.1M386.3 803.2L388.7 800M392.2 795.2L394.6 792M398.2 787.2L400.6 783.9M404.2 779.2L406.6 776M421.1 871.3L423.6 868.2M427.3 863.5L429.7 860.3M433.4 855.6L435.9 852.5M439.7 847.8L442.2 844.7M445.9 840L448.5 836.9M452.3 832.2L454.8 829.1M458.6 824.5L461.2 821.4M465 816.8L467.6 813.8M471.4 809.2L474 806.1M477.9 801.6L480.5 798.5M484.5 794L487.1 791M491 786.5L493.7 783.5M505.6 868L508.3 865M512.4 860.6L515.1 857.6M519.1 853.2L521.9 850.3M526 845.9L528.7 843M532.8 838.6L535.6 835.7M539.8 831.4L542.5 828.5M546.7 824.2L549.5 821.4M553.8 817.1L556.6 814.3M560.8 810.1L563.7 807.3M568 803.1L570.8 800.3M575.2 796.1L578 793.3M582.4 789.2L585.3 786.5M587.4 787.7L587.4 791.7M594.2 859.8L597.2 857.1M601.6 853L604.6 850.4M609.1 846.4L612.1 843.7M616.6 839.8L619.6 837.1M624.2 833.2L627.2 830.6M631.8 826.8L634.9 824.2M639.5 820.4L642.6 817.8M647.2 814.1L650.4 811.6M655.1 807.8L658.2 805.4M662.9 801.7L666.1 799.2M670.9 795.6L674.1 793.2M674.9 797.6L674.9 801.6M688.1 848.2L691.4 845.9M696.3 842.4L699.5 840.1M704.5 836.7L707.8 834.5M712.8 831.1L716.1 828.9M721.1 825.6L724.5 823.4M729.6 820.2L732.9 818.1M738 814.9L741.5 812.9M746.6 809.8L750.1 807.8M755.2 804.7L758.7 802.8M762.3 802.6L762.4 806.6M768.9 846.1L772.4 844.1M777.7 841.3L781.2 839.5M786.6 836.7L790.1 834.9M795.5 832.3L799.1 830.5M804.5 827.9L808.1 826.2M813.6 823.7L817.2 822.1M822.7 819.7L826.4 818.1M832 815.8L835.7 814.3M841.2 812.1L845 810.6M849.8 809.6L849.8 813.6M860.8 837.5L864.6 836.2M870.2 834.2L874.1 833M879.8 831.2L883.6 830M889.4 828.3L893.2 827.2M899 825.6L902.8 824.6M908.7 823.1L912.5 822.2M918.4 820.8L922.3 819.9M928.2 818.7L932.1 817.9M937.3 817.6L937.4 821.6M953.8 830.4L957.8 829.8M963.7 829L967.8 828.5M973.5 827.8L978 827.4M1092.4 829.9L1096.7 830.5M1102.6 831.5L1106.6 832.1M1112.2 832.9L1112.3 828.9M1128.2 820.1L1132.1 821M1138 822.4L1141.9 823.3M1147.7 824.8L1151.5 825.8M1157.3 827.4L1161.2 828.5M1166.9 830.2L1170.7 831.4M1176.5 833.2L1180.3 834.5M1185.9 836.4L1189.7 837.7M1195.4 839.7L1199.1 841.1M1199.7 835.9L1199.8 831.9M1214.8 814.6L1218.5 816.1M1224.1 818.4L1227.7 820M1233.2 822.4L1236.9 824.1M1242.3 826.6L1246 828.2M1251.4 830.8L1255 832.6M1260.3 835.3L1263.9 837.1M1269.2 839.8L1272.8 841.7M1278.1 844.5L1281.6 846.4M1301.3 808.6L1304.7 810.7M1309.8 813.8L1313.2 815.9M1318.3 819L1321.7 821.2M1326.8 824.4L1330.1 826.6M1335.2 829.9L1338.5 832.1M1343.5 835.4L1346.8 837.7M1351.7 841.1L1355 843.4M1359.9 846.9L1363.1 849.2M1368 852.7L1371.2 855.1M1374.6 855.9L1374.6 851.9M1385.1 800.3L1388.2 802.8M1393 806.4L1396.1 808.9M1400.8 812.7L1403.9 815.2M1408.6 819L1411.7 821.5M1416.3 825.3L1419.3 827.9M1423.9 831.8L1427 834.4M1431.5 838.3L1434.5 840.9M1439 844.9L1442 847.5M1446.5 851.5L1449.5 854.2M1453.9 858.3L1456.8 861M1473.7 795.2L1476.6 798M1480.9 802.2L1483.8 805M1488.1 809.2L1490.9 812M1495.2 816.3L1498 819.1M1502.2 823.4L1505 826.2M1509.2 830.5L1511.9 833.4M1516.1 837.7L1518.9 840.6M1523 845L1525.7 847.9M1529.8 852.3L1532.5 855.2M1536.6 859.7L1539.3 862.6M1543.3 867L1546 870M1549.5 873.3L1549.5 869.3M1557.9 785.5L1560.6 788.5M1564.5 793.1L1567.1 796.1M1571 800.6L1573.6 803.7M1577.5 808.2L1580.1 811.3M1584 815.9L1586.6 819M1590.4 823.6L1592.9 826.7M1596.7 831.3L1599.3 834.4M1603.1 839L1605.6 842.1M1609.3 846.8L1611.8 849.9M1615.6 854.6L1618.1 857.8M1621.8 862.5L1624.2 865.6M1627.9 870.4L1630.4 873.5M1634 878.3L1636.5 881.5M1637 877L1637 873M1644.2 777.4L1646.6 780.6M1650.2 785.4L1652.6 788.6M1656.2 793.4L1658.6 796.6M1662.2 801.4L1664.5 804.6M1668.1 809.5L1670.4 812.7M1673.9 817.6L1676.3 820.8M1679.8 825.7L1682.1 829M1685.6 833.8L1687.9 837.1M1691.3 842L1693.6 845.3M1697.1 850.2L1699.4 853.5M1702.8 858.4L1705 861.7M1708.4 866.7L1710.7 870M1714.1 874.9L1716.3 878.2M1719.7 883.2L1721.9 886.5"/>
<path class="w" stroke="#b955b9" d="M368.7 833.3L368.8 839M368.8 844.3L368.8 850M368.9 855.3L368.9 861M368.9 866.3L369 872M369 877.3L369 883M369.1 888.3L369.1 890.3L371.2 887.3M412.5 837.5L412.5 843.2M412.6 848.5L412.6 854.2M412.6 859.5L412.7 865.2M412.7 870.5L412.7 876.2M412.8 881.5L412.8 887.2M456.2 838.1L456.3 843.8M456.3 849.1L456.3 854.8M456.4 860.1L456.4 865.8M456.4 871.1L456.5 876.8M456.5 882.1L456.5 886.2L457.5 885M499.9 835.8L500 841.5M500 846.8L500 852.5M500.1 857.8L500.1 863.5M500.2 868.8L500.2 874.5M500.2 879.8L500.3 884.2L501.1 883.2M543.7 840.5L543.7 846.2M543.8 851.5L543.8 857.2M543.8 862.5L543.9 868.2M543.9 873.5L544 879.2M587.4 841.3L587.5 847M587.5 852.3L587.5 858M587.6 863.3L587.6 869M587.7 874.3L587.7 880M631.2 848.8L631.2 854.5M631.3 859.8L631.3 865.5M631.4 870.8L631.4 876.5M674.9 852L675 857.7M675.1 863L675.1 868.7M675.2 874L675.2 876L678.1 873.8M718.7 851.6L718.7 857.3M718.8 862.6L718.9 868.3M718.9 873.6L718.9 874L723.4 871.1M762.5 857.5L762.5 863.2M762.6 868.5L762.7 871.9L764.7 870.8M806.2 858.4L806.3 864.1M806.4 869.4L806.4 869.9L811.2 867.7M849.9 855.1L850 860.8M850.1 866.1L850.1 867.8L853.9 866.5M893.6 857.3L893.8 863M937.6 863.6L937.6 863.8L943 862.8M978.3 857.9L981 857.7L981.3 861M985.3 861.4L991.1 860.9M996.1 860.6L1001.8 860.3M1007.1 860L1012.8 859.8M1018.1 859.7L1023.8 859.7M1029.1 859.7L1034.8 859.8M1040.1 859.9L1045.8 860.2M1051.1 860.4L1056.7 860.8M1062 861.2L1067.8 861.7M1069.2 857.7L1075.2 858.3M1112.5 856L1112.5 855.7L1117.8 856.7M1156.1 859.7L1156.3 854M1199.9 858.6L1200 852.9M1243.5 862.9L1243.6 857.2M1243.7 851.9L1243.7 849.6L1246.9 851.1M1287.3 861.9L1287.3 856.2M1287.4 850.9L1287.5 847.6L1289.5 848.8M1330.9 867L1331 861.3M1331.1 856L1331.1 850.3M1374.7 868.4L1374.7 862.7M1374.8 857.4L1374.8 851.7M1374.9 846.4L1374.9 843.6L1377.3 845.4M1418.3 875.2L1418.4 869.5M1418.5 864.2L1418.5 858.5M1418.6 853.2L1418.6 847.5M1418.7 842.2L1418.7 841.6L1422.6 844.9M1462.1 877.7L1462.1 872M1462.2 866.7L1462.2 861M1462.3 855.7L1462.3 850M1462.4 844.7L1462.4 839.6L1462.8 840M1505.8 877L1505.9 871.3M1505.9 866L1506 860.3M1506 855L1506 849.3M1506.1 844L1506.1 838.3M1549.5 883.2L1549.6 877.5M1549.6 872.2L1549.6 866.5M1549.7 861.2L1549.7 855.5M1549.8 850.2L1549.8 844.5M1549.8 839.2L1549.9 835.6L1551.3 837.1M1593.3 885.5L1593.3 879.8M1593.3 874.5L1593.4 868.8M1593.4 863.5L1593.4 857.8M1593.5 852.5L1593.5 846.8M1593.5 841.5L1593.6 835.8M1637 885L1637 879.3M1637.1 874L1637.1 868.3M1637.1 863L1637.2 857.3M1637.2 852L1637.2 846.3M1637.3 841L1637.3 835.3M1680.8 881.7L1680.8 876M1680.8 870.7L1680.9 865M1680.9 859.7L1680.9 854M1681 848.7L1681 843M1681 837.7L1681.1 832"/>
<path class="w2" stroke="#b955b9" d="M325.3 892.3L329 886.8M330.9 884L334.6 878.6M336.5 875.7L340.2 870.3M342.2 867.5L345.9 862.1M347.8 859.3L351.6 853.8M353.6 851L357.3 845.6M359.3 842.9L363.1 837.5M365.1 834.7L368.7 829.6L368.7 829.9M374.3 883L378.2 877.6M380.2 874.9L384 869.6M386.1 866.8L390 861.5M392 858.8L395.9 853.5M398 850.7L401.9 845.5M404 842.7L407.9 837.5M410 834.8L412.5 831.6L412.5 834.1M415.4 884.8L419.4 879.6M421.5 876.9L425.6 871.7M427.7 869L431.8 863.9M433.9 861.2L438 856M440.1 853.4L444.2 848.2M446.4 845.6L450.5 840.5M452.7 837.8L456.2 833.6L456.2 834.7M460.9 880.9L465.1 875.8M467.3 873.2L471.6 868.2M473.8 865.6L478.1 860.6M480.3 858L484.6 853M486.8 850.4L491.2 845.5M493.4 842.9L497.8 838M504.7 879.2L509.1 874.3M511.4 871.8L515.9 867M518.2 864.5L522.7 859.6M525 857.1L529.5 852.3M531.8 849.9L536.4 845.1M538.8 842.7L543.3 837.9M545.7 880.4L550.3 875.7M552.7 873.3L557.4 868.6M559.8 866.2L564.5 861.6M566.9 859.2L571.6 854.6M574.1 852.2L578.8 847.6M581.3 845.3L586.1 840.8M591.5 876.6L596.4 872.1M598.9 869.8L603.8 865.4M606.3 863.1L611.3 858.7M613.8 856.5L618.8 852.1M621.4 849.9L626.4 845.6M629 843.4L631.1 841.6L631.2 845.4M634.3 875.6L639.4 871.4M642.1 869.3L647.2 865.1M649.8 863L655 858.9M657.7 856.8L662.9 852.7M665.6 850.6L670.8 846.6M673.5 844.6L674.9 843.6L674.9 848.6M682.4 870.7L687.8 866.8M690.5 864.8L695.9 861M698.7 859.1L704.1 855.3M706.9 853.4L712.4 849.7M715.2 847.8L718.6 845.6L718.6 848.2M727.9 868.2L733.5 864.7M736.4 862.9L742 859.5M744.9 857.7L750.6 854.4M753.5 852.6L759.3 849.4M762.2 847.7L762.3 847.6L762.4 854.1M769.3 868.2L775.1 865.1M778.1 863.5L784 860.5M787 858.9L792.9 856M796 854.5L801.9 851.6M805 850.1L806.1 849.6L806.1 855M816 865.5L822.1 862.8M825.2 861.5L831.3 858.9M834.4 857.7L840.5 855.2M843.7 854L849.8 851.6L849.8 851.7M858.9 864.7L865.1 862.5M868.3 861.4L874.6 859.4M877.8 858.3L884.1 856.4M887.4 855.4L893.5 853.7L893.5 853.9M896.3 865.1L902.6 863.4M905.9 862.6L912.3 861M915.6 860.2L922.1 858.8M925.4 858L931.9 856.7M935.2 856.1L937.3 855.7L937.4 860.2M948.2 861.9L954.8 860.9M958.1 860.4L964.6 859.5M968.1 859.1L974.4 858.3M1079.8 858.8L1086 859.6M1090.1 860.2L1096.6 861.1M1100.1 861.7L1106.7 862.8M1110 863.4L1112.2 863.8L1112.4 859.4M1123 857.7L1129.4 859.1M1132.8 859.9L1139.2 861.4M1142.5 862.2L1148.9 863.9M1152.2 864.8L1155.9 865.8L1156 863.1M1161 855L1167.3 856.9M1170.6 857.9L1176.9 859.9M1180.1 861L1186.4 863.1M1189.6 864.2L1195.8 866.4M1199 867.6L1199.7 867.8L1199.8 862M1203.8 853.1L1210 855.5M1213.1 856.7L1219.2 859.2M1222.4 860.6L1228.4 863.1M1231.6 864.5L1237.6 867.2M1240.7 868.6L1243.4 869.9L1243.5 866.3M1251.6 853.4L1257.6 856.3M1260.6 857.8L1266.5 860.8M1269.5 862.4L1275.3 865.5M1278.3 867.1L1284.1 870.3M1287.1 871.9L1287.2 865.3M1294.1 851.4L1299.9 854.7M1302.8 856.5L1308.4 859.9M1311.4 861.6L1317 865.1M1319.8 866.9L1325.4 870.4M1328.3 872.3L1330.9 874L1330.9 870.4M1331.7 845.9L1337.2 849.6M1340 851.5L1345.5 855.2M1348.3 857.1L1353.7 860.9M1356.5 862.8L1361.9 866.7M1364.6 868.7L1369.9 872.6M1372.7 874.6L1374.6 876L1374.6 871.8M1381.5 848.6L1386.7 852.6M1389.4 854.7L1394.6 858.7M1397.3 860.8L1402.4 865M1405.1 867.1L1410.2 871.3M1412.8 873.4L1417.9 877.7M1426.6 848.3L1431.6 852.6M1434.1 854.9L1439.1 859.2M1441.6 861.5L1446.6 865.9M1449.1 868.2L1454 872.6M1456.5 874.9L1461.3 879.4M1466.7 843.6L1471.5 848.2M1474 850.5L1478.7 855.1M1481.1 857.5L1485.9 862.1M1488.3 864.5L1493 869.1M1495.4 871.5L1500 876.2M1502.4 878.7L1505.8 882.1L1505.8 880.4M1509.3 840.9L1513.9 845.7M1516.3 848.1L1520.8 852.9M1523.2 855.4L1527.7 860.2M1530 862.7L1534.5 867.5M1536.8 870L1541.2 874.9M1543.5 877.4L1547.9 882.3M1554.8 841.1L1559.1 846.1M1561.4 848.6L1565.7 853.6M1567.9 856.2L1572.2 861.2M1574.4 863.8L1578.7 868.8M1580.9 871.4L1585.1 876.4M1587.3 879L1591.5 884.1M1595.6 836L1599.7 841.1M1601.9 843.7L1606 848.8M1608.2 851.5L1612.3 856.6M1614.4 859.3L1618.5 864.5M1620.6 867.1L1624.7 872.3M1626.8 875L1630.8 880.2M1632.9 882.9L1636.9 888.2M1638.3 832.8L1642.3 838.1M1644.4 840.8L1648.3 846.1M1650.4 848.8L1654.3 854.1M1656.4 856.8L1660.3 862.1M1662.3 864.9L1666.2 870.2M1668.2 872.9L1672.1 878.3M1674.1 881L1677.9 886.4M1679.9 889.1L1680.7 890.3L1680.8 885.1M1682.7 831.9L1686.6 837.3M1688.5 840.1L1692.3 845.5M1694.3 848.2L1698.1 853.7M1700 856.4L1703.7 861.9M1705.7 864.7L1709.4 870.1M1711.3 872.9L1715 878.4M1717 881.2L1720.6 886.7M1722.5 889.5L1724.5 892.3"/>
<path class="n" stroke="#b955b9" d="M328.8 887.1L331.1 883.8M334.4 878.8L336.7 875.5M340.1 870.5L342.3 867.2M345.7 862.3L348 859M351.4 854.1L353.7 850.8M357.2 845.9L359.5 842.6M362.9 837.7L365.2 834.4M368.7 829.6L368.7 833.6M378 877.9L380.3 874.6M383.9 869.8L386.2 866.6M389.8 861.7L392.2 858.5M395.7 853.7L398.1 850.5M401.7 845.7L404.1 842.5M407.8 837.7L410.2 834.5M412.5 833.8L412.5 837.8M419.3 879.9L421.7 876.7M425.4 872L427.9 868.8M431.6 864.1L434.1 861M437.8 856.3L440.3 853.1M444 848.5L446.6 845.4M450.3 840.7L452.9 837.6M456.2 834.4L456.2 838.4M464.9 876.1L467.5 873M471.4 868.4L474 865.4M477.9 860.8L480.5 857.8M484.4 853.2L487 850.2M491 845.7L493.6 842.7M508.9 874.6L511.6 871.6M515.7 867.2L518.4 864.2M522.4 859.9L525.2 856.9M529.3 852.6L532 849.7M536.2 845.3L539 842.4M550.1 875.9L552.9 873M557.2 868.8L560 866M564.3 861.8L567.1 859M571.4 854.8L574.3 852M578.6 847.9L581.5 845.1M596.2 872.3L599.1 869.6M603.6 865.6L606.6 862.9M611 858.9L614 856.3M618.6 852.3L621.6 849.7M626.1 845.8L629.2 843.2M631.2 845.1L631.2 849.1M639.2 871.6L642.3 869.1M646.9 865.3L650.1 862.8M654.8 859.1L657.9 856.6M662.6 852.9L665.8 850.5M670.6 846.8L673.8 844.4M674.9 848.3L674.9 852.3M687.5 867L690.8 864.6M695.7 861.2L698.9 858.9M703.9 855.5L707.2 853.2M712.2 849.9L715.5 847.7M718.6 847.9L718.7 851.9M733.2 864.8L736.6 862.7M741.7 859.6L745.2 857.6M750.3 854.5L753.8 852.5M759 849.5L762.3 847.8M762.4 853.8L762.5 857.8M774.9 865.3L778.4 863.4M783.7 860.6L787.3 858.8M792.6 856.1L796.2 854.3M801.6 851.7L805.2 850M806.1 854.7L806.2 858.7M821.8 863L825.5 861.4M831 859.1L834.7 857.5M840.3 855.3L844 853.9M849.6 851.7L849.9 855.4M864.8 862.6L868.6 861.3M874.3 859.4L878.1 858.2M883.8 856.5L887.7 855.3M893.5 853.7L893.6 857.6M902.3 863.5L906.2 862.5M912 861.1L915.9 860.1M921.8 858.8L925.7 858M931.6 856.8L935.5 856M937.4 859.9L937.7 863.7M954.5 860.9L958.4 860.3M964.3 859.5L968.4 859M974.1 858.4L978.6 857.9M1085.7 859.6L1090.4 860.2M1096.3 861.1L1100.4 861.7M1106.4 862.7L1110.3 863.4M1112.4 859.7L1112.5 855.7M1129.2 859.1L1133.1 860M1138.9 861.3L1142.8 862.3M1148.6 863.8L1152.5 864.8M1156 863.4L1156.1 859.4M1167.1 856.8L1170.9 858M1176.6 859.8L1180.4 861.1M1186.1 863L1189.9 864.3M1195.5 866.3L1199.3 867.7M1199.8 862.3L1199.9 858.3M1209.7 855.4L1213.4 856.9M1219 859.1L1222.7 860.7M1228.2 863L1231.8 864.6M1237.3 867.1L1240.9 868.7M1243.4 866.6L1243.5 862.6M1257.3 856.2L1260.9 858M1266.2 860.7L1269.8 862.5M1275.1 865.3L1278.6 867.2M1283.9 870.1L1287.1 871.6M1287.2 865.6L1287.3 861.6M1299.6 854.6L1303 856.6M1308.2 859.7L1311.6 861.8M1316.7 864.9L1320.1 867.1M1325.2 870.3L1328.5 872.4M1330.9 870.7L1330.9 866.7M1336.9 849.4L1340.3 851.6M1345.2 855L1348.5 857.3M1353.5 860.7L1356.7 863M1361.6 866.5L1364.8 868.8M1369.7 872.4L1372.9 874.8M1374.6 872.1L1374.7 868.1M1386.5 852.4L1389.7 854.8M1394.4 858.5L1397.5 861M1402.2 864.8L1405.3 867.3M1410 871.1L1413 873.6M1431.4 852.4L1434.4 855.1M1438.9 859L1441.9 861.7M1446.3 865.7L1449.3 868.4M1453.8 872.4L1456.7 875.1M1471.3 848L1474.2 850.7M1478.5 854.9L1481.4 857.7M1485.7 861.9L1488.5 864.7M1492.8 868.9L1495.6 871.8M1499.8 876L1502.6 878.9M1505.8 880.7L1505.8 876.7M1513.7 845.4L1516.5 848.3M1520.6 852.7L1523.4 855.6M1527.5 860L1530.2 862.9M1534.3 867.3L1537 870.3M1541 874.7L1543.7 877.7M1558.9 845.8L1561.6 848.8M1565.5 853.4L1568.1 856.4M1572 860.9L1574.6 864M1578.5 868.6L1581.1 871.6M1585 876.2L1587.5 879.3M1599.5 840.8L1602.1 843.9M1605.8 848.6L1608.4 851.7M1612.1 856.4L1614.6 859.5M1618.3 864.2L1620.8 867.4M1624.5 872.1L1627 875.2M1630.6 880L1633.1 883.2M1642.1 837.9L1644.5 841M1648.2 845.8L1650.6 849M1654.1 853.8L1656.5 857.1M1660.1 861.9L1662.5 865.1M1666 869.9L1668.4 873.2M1671.9 878L1674.2 881.3M1677.8 886.1L1680.1 889.4M1680.8 885.4L1680.8 881.4M1686.4 837L1688.7 840.3M1692.1 845.2L1694.4 848.5M1697.9 853.4L1700.2 856.7M1703.6 861.6L1705.8 864.9M1709.2 869.9L1711.5 873.2M1714.9 878.1L1717.1 881.4M1720.5 886.4L1722.7 889.7"/>
<path class="w" stroke="#82d746" d="M346.9 862.9L346.9 868.6M347 873.9L347.1 879.6M347.1 884.9L347.2 890.6M368.8 867.9L368.9 873.6M368.9 878.9L369 884.6M369 889.9L369.1 891.8L371.2 888.8M390.6 864.6L390.7 870.3M390.7 875.6L390.8 881.3M390.9 886.6L390.9 891.3L391.5 890.5M412.5 863.2L412.5 868.9M412.6 874.2L412.7 879.9M412.7 885.2L412.8 890.8L412.8 890.7M434.3 863.5L434.4 869.2M434.5 874.5L434.5 880.2M434.6 885.5L434.7 890.3L435.3 889.5M456.2 865.7L456.3 871.4M456.4 876.7L456.4 882.4M456.5 887.7L456.5 889.8L458.8 887M478.1 869.6L478.2 875.3M478.3 880.6L478.4 886.3M500.1 874.3L500.1 880M500.2 885.3L500.3 888.8L501.8 887.1M521.9 870.8L522 876.5M522 881.8L522.1 887.5M543.7 868.9L543.8 874.6M543.9 879.9L544 885.6M565.6 868.9L565.7 874.6M565.7 879.9L565.8 885.6M587.5 870.5L587.6 876.2M587.6 881.5L587.7 886.7L588.1 886.4M609.4 873.8L609.5 879.5M609.6 884.8L609.6 886.2L612.8 883.4M631.1 868.8L631.3 874.5M631.4 879.8L631.5 885.5M653.1 875.4L653.2 881.1M674.9 872.6L675.1 878.3M675.2 883.6L675.2 884.7L678.9 881.9M696.8 872.5L696.9 878.2M697 883.5L697.1 884.2L701.2 881.3M718.7 873.9L718.8 879.6M740.6 875.9L740.8 881.6M762.6 879.4L762.7 882.6L764.8 881.4M784.3 874.4L784.5 880.1M806.4 880.9L806.4 881.6L810.9 879.5M828.2 878.8L828.3 881.1L831.4 879.8M850 878.1L850.1 880.6L853.1 879.5M871.9 878.7L872 880.1L876.2 878.7M937.4 876.4L937.6 878.5L941.2 877.9M982.2 877.5L988 877M992.9 876.6L998.6 876.2M1013.2 876.7L1018.9 876.6M1024.2 876.5L1024.9 876.5L1029.9 876.5M1035.2 876.6L1040.9 876.8M1046.1 877L1046.6 877L1046.9 876L1051.1 876.2M1056.4 876.6L1062.1 877M1067.4 877.4L1068.5 877.5L1068.8 875.5L1071.5 875.8M1112.3 876.7L1112.5 874.5L1116.1 875.2M1177.8 879.2L1178.1 873.5M1199.7 878.6L1200 872.9M1221.6 879.3L1221.8 873.6M1243.4 881.4L1243.6 875.7M1265.5 874.9L1265.6 871.1L1267.2 871.9M1287.2 879.9L1287.4 874.2M1309.2 876.4L1309.3 870.7M1331.1 874.4L1331.2 869.6L1331.9 870.1M1352.7 884L1352.9 878.3M1353 873L1353.1 869.1L1354.6 870.2M1374.6 884.1L1374.7 878.4M1374.8 873.1L1374.9 868.6L1375.9 869.3M1396.6 875.9L1396.8 870.2M1418.4 880.2L1418.5 874.5M1418.6 869.2L1418.7 867.6L1421.8 870.3M1440.2 885.3L1440.3 879.6M1440.4 874.3L1440.5 868.6M1462.1 881.9L1462.2 876.2M1462.3 870.9L1462.4 866.6L1463.4 867.6M1484 880.3L1484.1 874.6M1484.2 869.3L1484.3 866.1L1486 867.9M1505.9 880.4L1506 874.7M1506.1 869.4L1506.1 865.6L1507.5 867M1527.7 882.2L1527.8 876.5M1527.9 871.2L1528 865.5M1549.6 885.8L1549.6 880.1M1549.7 874.8L1549.8 869.1M1571.5 881.1L1571.6 875.4M1571.7 870.1L1571.7 864.4M1593.3 888.2L1593.4 882.5M1593.4 877.2L1593.5 871.5M1593.6 866.2L1593.6 863.7L1595.6 866.1M1615.2 886L1615.2 880.3M1615.3 875L1615.4 869.3M1615.5 864L1615.5 863.2L1618.5 867M1637.1 885.6L1637.1 879.9M1637.2 874.6L1637.3 868.9M1637.3 863.6L1637.3 862.7L1640.2 866.4M1658.9 887.1L1659 881.4M1659 876.1L1659.1 870.4M1659.2 865.1L1659.2 862.2L1660.9 864.4M1680.7 890.3L1680.8 884.6M1680.9 879.3L1680.9 873.6M1681 868.3L1681.1 862.6M1702.7 885.4L1702.7 879.7M1702.8 874.4L1702.8 868.7M1702.9 863.4L1702.9 861.2L1704.9 864.1"/>
<path class="w2" stroke="#82d746" d="M325.3 892.8L329 887.4M330.9 884.5L334.6 879.1M336.5 876.3L340.2 870.8M342.2 868L345.9 862.6M349.3 889.4L353 883.9M355 881.1L358.8 875.7M360.7 873L364.5 867.6M366.5 864.8L368.7 861.7L368.8 864.5M374.3 884.5L378.2 879.1M380.2 876.4L384.1 871M386.1 868.3L390 863M394.7 886.2L398.6 880.9M400.7 878.2L404.6 873M406.7 870.2L410.7 865M416.1 886.5L420.1 881.3M422.2 878.6L426.2 873.4M428.3 870.7L432.4 865.6M438.6 885.4L442.7 880.2M444.8 877.6L449 872.5M451.1 869.8L455.3 864.7M462.2 882.9L466.4 877.8M468.6 875.2L472.9 870.2M475.1 867.6L478.1 864.2L478.1 866.2M479.9 887.5L484.2 882.5M486.5 879.9L490.8 874.9M493.1 872.4L497.4 867.5M499.7 864.9L499.9 864.7L500 870.9M505.3 883.1L509.7 878.2M512 875.7L516.5 870.9M518.8 868.4L521.8 865.1L521.8 867.4M525.2 884.9L529.7 880.1M532.1 877.7L536.6 872.9M539 870.5L543.6 865.7M546.2 885.4L550.9 880.7M553.3 878.3L557.9 873.6M560.3 871.2L565 866.6M568.5 884.7L573.2 880.1M575.7 877.7L580.4 873.2M582.9 870.8L587.4 866.6L587.4 867.1M592 882.8L596.8 878.3M599.3 876L604.2 871.6M606.8 869.3L609.3 867.1L609.3 870.4M616.8 879.9L621.8 875.6M624.4 873.3L629.4 869.1M635.3 882.4L640.4 878.2M643.1 876.1L648.2 871.9M650.9 869.8L653 868.1L653.1 872M654.3 884.4L659.5 880.4M662.1 878.3L667.4 874.3M670.1 872.2L674.9 868.6L674.9 869.2M683.2 878.8L688.6 874.9M691.3 872.9L696.7 869.1M705.6 878.3L711 874.6M713.9 872.7L718.6 869.6L718.6 870.5M720 883L725.5 879.4M728.4 877.6L734 874M736.9 872.3L740.5 870.1L740.5 872.5M744 881.2L749.7 877.8M752.6 876.1L758.4 872.8M761.3 871.1L762.3 870.6L762.5 876M769.5 878.9L775.3 875.7M778.3 874.1L784.2 871.1M787.5 880.6L793.4 877.7M796.4 876.2L802.4 873.3M805.5 871.8L806.1 871.6L806.3 877.5M815.8 877.3L821.8 874.7M824.9 873.3L827.9 872.1L828 875.4M836.3 877.8L842.5 875.4M845.6 874.1L849.8 872.6L849.9 874.7M858.1 877.7L864.4 875.5M867.6 874.4L871.7 873.1L871.8 875.3M881.2 877.2L887.5 875.3M890.8 874.3L893.5 873.5L893.7 877.3M895 879.3L901.3 877.5M904.6 876.7L911 875.1M914.3 874.3L915.4 874L915.7 879.1L916.2 879M919.5 878.2L926 876.8M929.3 876.1L935.8 874.8M946.2 877L952.7 876M956 875.5L959.1 875L959.5 878L959.9 878M963.3 877.5L969.7 876.7M973.4 876.3L979.6 875.7M1003.2 877L1009.8 876.8M1076.4 876.3L1082.5 877M1086.8 877.6L1090.3 878L1090.6 875.2M1094.2 875.5L1100.8 876.6M1104.1 877.1L1110.6 878.3M1121 876.2L1127.5 877.6M1130.8 878.3L1134.1 879.1L1134.3 875.8M1136 874.4L1142.4 876M1145.7 876.8L1152.1 878.5M1155.3 879.4L1155.9 879.6L1156.3 873.6M1159.5 874.5L1165.8 876.3M1169.1 877.3L1175.4 879.3M1182.7 874.6L1188.9 876.7M1192.2 877.9L1198.4 880.1M1204.6 874.3L1210.8 876.7M1214 878L1220.1 880.5M1225.3 873.5L1231.4 876.2M1234.5 877.5L1240.5 880.3M1244.8 872.1L1250.8 874.9M1253.8 876.4L1259.7 879.3M1262.8 880.8L1265.3 882.1L1265.4 878.3M1271.9 874.4L1277.8 877.5M1280.8 879.1L1286.5 882.3M1288.9 871.4L1294.7 874.7M1297.6 876.4L1303.3 879.7M1306.2 881.5L1309 883.1L1309.1 879.8M1313.3 872.5L1318.9 876M1321.8 877.8L1327.4 881.4M1330.2 883.2L1330.9 883.6L1331 877.8M1336.4 873L1341.8 876.7M1344.7 878.6L1350.1 882.3M1358.9 873.2L1364.2 877.1M1367 879.1L1372.3 883M1380.1 872.5L1385.4 876.5M1388.1 878.6L1393.3 882.7M1395.9 884.8L1396.5 885.2L1396.6 879.3M1399.3 870.1L1404.5 874.3M1407.1 876.4L1412.2 880.6M1414.8 882.8L1418.3 885.7L1418.4 883.6M1425.8 873.7L1430.8 878M1433.4 880.2L1438.4 884.6M1443.4 869.7L1448.3 874.1M1450.8 876.4L1455.7 880.8M1458.2 883.1L1462.1 886.7L1462.1 885.3M1467.3 871.2L1472.1 875.7M1474.5 878.1L1479.3 882.7M1481.7 885L1483.9 887.2L1484 883.7M1489.8 871.6L1494.5 876.3M1496.9 878.7L1501.5 883.4M1503.9 885.8L1505.8 887.7L1505.8 883.8M1511.2 870.8L1515.7 875.6M1518.1 878.1L1522.6 882.8M1524.9 885.3L1527.7 888.2L1527.7 885.6M1531.3 868.7L1535.8 873.6M1538.1 876.1L1542.5 881M1544.8 883.5L1549.2 888.4M1550.4 865.3L1554.8 870.2M1557.1 872.8L1561.4 877.7M1563.7 880.3L1568 885.3M1570.2 887.9L1571.4 889.3L1571.5 884.5M1575 868L1579.3 873M1581.5 875.6L1585.7 880.7M1587.9 883.3L1592.1 888.4M1599 870.2L1603.2 875.4M1605.3 878L1609.4 883.1M1611.6 885.8L1615.1 890.3L1615.1 889.4M1621.8 871.1L1625.8 876.3M1627.9 879L1632 884.2M1634 886.9L1637 890.8L1637 889M1643.4 870.7L1647.4 875.9M1649.4 878.6L1653.4 883.9M1655.4 886.7L1658.9 891.3L1658.9 890.5M1664 868.7L1667.9 874M1669.9 876.8L1673.8 882.1M1675.8 884.9L1679.6 890.2M1683.6 865.2L1687.4 870.6M1689.4 873.4L1693.2 878.8M1695.1 881.6L1698.9 887M1700.8 889.8L1702.6 892.3L1702.6 888.8M1707.9 868.4L1711.6 873.9M1713.6 876.7L1717.3 882.1M1719.2 885L1722.9 890.4"/>
<path class="n" stroke="#82d746" d="M328.8 887.6L331.1 884.3M334.4 879.3L336.7 876M340.1 871.1L342.3 867.8M352.8 884.2L355.1 880.9M358.6 876L360.9 872.7M364.4 867.8L366.7 864.6M368.7 864.2L368.8 868.2M378 879.4L380.4 876.1M383.9 871.3L386.3 868M398.5 881.2L400.9 878M404.5 873.2L406.9 870M419.9 881.5L422.4 878.4M426.1 873.7L428.5 870.5M442.5 880.5L445 877.4M448.8 872.7L451.3 869.6M466.3 878.1L468.8 875M472.7 870.4L475.3 867.4M478.1 865.9L478.1 869.9M484 882.7L486.7 879.7M490.6 875.2L493.3 872.2M497.2 867.7L499.9 864.7M500 870.6L500.1 874.6M509.5 878.5L512.2 875.5M516.3 871.1L519 868.1M521.8 867.1L521.9 871.1M529.5 880.4L532.3 877.5M536.4 873.1L539.2 870.2M550.7 880.9L553.5 878.1M557.7 873.9L560.6 871M573 880.3L575.9 877.5M580.2 873.4L583.1 870.6M587.4 866.8L587.5 870.8M596.6 878.5L599.5 875.8M604 871.8L607 869.1M609.3 870.1L609.4 874.1M621.6 875.8L624.6 873.2M640.2 878.4L643.3 875.9M648 872.1L651.1 869.6M653.1 871.7L653.1 875.7M659.2 880.5L662.4 878.1M667.1 874.4L670.3 872M674.9 868.9L674.9 872.9M688.3 875.1L691.6 872.7M710.8 874.8L714.1 872.5M718.6 870.2L718.7 874.2M725.3 879.5L728.7 877.4M733.8 874.2L737.2 872.1M740.5 872.2L740.6 876.2M749.4 878L752.9 876M758.1 873L761.6 871M762.5 875.7L762.6 879.7M775 875.9L778.6 874M793.1 877.8L796.7 876M802.1 873.4L805.7 871.7M806.2 877.2L806.4 881.2M821.5 874.8L825.2 873.2M828 875.1L828.2 879.1M842.2 875.5L845.9 874M849.9 874.4L850 878.4M864.1 875.6L867.9 874.3M871.8 875L871.9 879M887.2 875.4L891.1 874.2M901 877.6L904.9 876.6M910.7 875.2L914.6 874.2M915.9 879L919.8 878.1M925.7 876.9L929.6 876M952.4 876L956.3 875.4M959.6 878L963.6 877.5M969.4 876.8L973.7 876.3M1009.5 876.8L1013.5 876.7M1082.2 877L1087.1 877.6M1100.5 876.5L1104.4 877.2M1127.2 877.5L1131.1 878.4M1142.1 875.9L1146 876.9M1151.8 878.4L1155.6 879.5M1165.5 876.2L1169.4 877.4M1188.7 876.6L1192.4 878M1210.5 876.6L1214.2 878.1M1231.1 876L1234.8 877.7M1250.5 874.8L1254.1 876.5M1259.5 879.2L1263 881M1265.4 878.6L1265.5 874.6M1277.5 877.3L1281 879.3M1294.4 874.5L1297.9 876.5M1303 879.6L1306.5 881.6M1309.1 880.1L1309.2 876.1M1318.7 875.9L1322.1 878M1327.1 881.2L1330.5 883.4M1331 878.1L1331.1 874.1M1341.6 876.5L1344.9 878.8M1364 876.9L1367.2 879.2M1385.1 876.3L1388.3 878.8M1393 882.5L1396.2 884.9M1396.6 879.6L1396.6 875.6M1404.3 874.1L1407.4 876.6M1412 880.4L1415.1 883M1418.4 883.9L1418.4 879.9M1430.6 877.8L1433.6 880.4M1448.1 873.9L1451.1 876.6M1455.5 880.6L1458.4 883.4M1462.1 885.6L1462.1 881.6M1471.8 875.5L1474.7 878.3M1479 882.5L1481.9 885.3M1484 884L1484 880M1494.3 876.1L1497.1 878.9M1501.3 883.2L1504.1 886M1505.8 884.1L1505.9 880.1M1515.5 875.4L1518.3 878.3M1522.4 882.6L1525.1 885.5M1527.7 885.9L1527.7 881.9M1535.6 873.4L1538.3 876.3M1542.3 880.8L1545 883.7M1554.6 870L1557.3 873M1561.2 877.5L1563.9 880.5M1567.8 885.1L1570.4 888.1M1571.5 884.8L1571.5 880.8M1579.1 872.8L1581.7 875.9M1585.5 880.5L1588.1 883.5M1603 875.1L1605.5 878.2M1609.2 882.9L1611.7 886M1615.1 889.7L1615.2 885.7M1625.6 876.1L1628.1 879.3M1631.8 884L1634.2 887.2M1637 889.3L1637.1 885.3M1647.2 875.7L1649.6 878.9M1653.2 883.7L1655.6 886.9M1658.9 890.8L1658.9 886.8M1667.7 873.8L1670.1 877M1673.6 881.9L1675.9 885.1M1687.2 870.4L1689.5 873.6M1693 878.5L1695.3 881.8M1698.7 886.7L1701 890M1702.6 889.1L1702.7 885.1M1711.5 873.6L1713.7 876.9M1717.1 881.9L1719.3 885.2"/>
<path class="w" stroke="#00e6ff" d="M335.9 878.3L336.1 884M336.2 889.3L336.3 892.8L337.5 891M347.1 886.2L347.2 891.9M357.9 883.4L358.1 889.1M368.8 881.2L368.9 886.9M369.1 892.2L369.1 892.4L372.2 888M379.7 880.3L379.8 886M380 891.3L380 892.3L382.8 888.5M390.6 880L390.8 885.7M390.9 891L390.9 892.2L393.6 888.6M401.6 880L401.7 885.7M401.8 891L401.9 892.1L404.7 888.3M412.5 880.5L412.7 886.2M412.8 891.5L412.8 891.9L416 887.7M423.5 881.5L423.6 887.2M434.4 881.9L434.6 887.6M445.4 882.7L445.5 888.4M456.3 884L456.5 889.7M467.3 885.7L467.5 891.3L467.5 891.2M478.3 887.9L478.4 891.2L479.9 889.4M489 880.4L489.2 886.1M500 883.5L500.2 889.2M511.1 886.9L511.2 890.8L512.4 889.5M521.8 880.8L522 886.5M532.9 885.1L533.1 890.5L533.2 890.4M543.7 879.8L543.8 885.5M554.8 885L554.9 890.3L555.2 890M565.5 880.5L565.7 886.2M576.7 886.5L576.8 890L578.4 888.5M587.5 882.9L587.7 888.6M609.5 886L609.6 889.6L611.2 888.3M620.3 883.7L620.5 889.4M631.2 881.7L631.4 887.4M653.3 888.1L653.3 889.1L657 886.3M664.2 887.3L664.3 889L667.5 886.6M675.1 887L675.2 888.9L678.3 886.6M686.1 887.1L686.1 888.8L689.4 886.4M697 887.5L697.1 888.6L700.8 886M708 888.4L708 888.5L712.6 885.4M751.4 882.6L751.7 888L752 887.9M762.5 885.3L762.7 887.9L765.4 886.3M795.2 883.7L795.5 887.5L797.2 886.6M828.1 885.2L828.3 887.1L831.9 885.6M850 884.9L850.1 886.8L853.8 885.5M871.9 885.9L872 886.6L877 885M982.5 885.2L988.3 884.7M992.7 885.1L998.4 884.8M1003.5 885L1009.1 884.8M1014.4 884.9L1020.1 884.8M1025.4 884.8L1031.1 884.8M1036.3 884.7L1042 884.9M1047 884.6L1052.7 884.9M1067.5 885.2L1068.5 885.3L1068.8 884.3L1072.7 884.7M1177.9 885.7L1178.1 883.1L1181.4 884.2M1199.8 884.9L1200 882.9L1203.6 884.2M1221.7 885.3L1221.9 882.6L1224.7 883.9M1243.4 887L1243.7 882.4L1244.8 882.9M1254.6 882.8L1254.7 882.3L1259.3 884.6M1276.3 886.5L1276.5 882L1277.6 882.6M1287.4 883.4L1287.5 881.9L1291.1 884M1330.9 887.7L1331.2 882M1341.9 886.5L1342.1 881.3L1342.6 881.6M1352.9 885.7L1353.1 881.2L1354.1 881.9M1363.8 885.2L1364 881.1L1365.3 882M1374.8 885.2L1374.9 881L1376.1 881.9M1385.7 885.5L1385.9 880.9L1386.7 881.5M1396.6 886.2L1396.8 880.7L1397 880.9M1407.5 887.4L1407.7 881.7M1418.3 888.9L1418.6 883.2M1429.6 880.8L1429.6 880.4L1433.6 883.8M1440.4 883.2L1440.5 880.3L1442.6 882.1M1451.3 885.9L1451.5 880.2M1462.1 889.1L1462.3 883.4M1473.2 882.7L1473.3 879.9L1475.4 881.9M1484 886.7L1484.2 881M1495.2 881.1L1495.2 879.7L1498.2 882.7M1505.9 886L1506.1 880.3M1517 881.2L1517.1 879.4L1519.7 882.2M1527.8 886.9L1527.9 881.2M1538.8 883.1L1538.9 879.2L1540.2 880.5M1549.6 889.6L1549.7 883.9M1560.6 886.6L1560.7 880.9M1571.6 884L1571.7 878.8L1572.1 879.2M1582.6 881.9L1582.7 878.7L1584.3 880.6M1593.3 890.1L1593.4 884.5M1593.6 879.2L1593.6 878.6L1596.9 882.5M1604.3 887.9L1604.4 882.2M1615.2 887L1615.4 881.3M1626.2 886.6L1626.3 880.9M1637.1 886.7L1637.3 881M1648 887.2L1648.2 881.5M1659 888.1L1659.1 882.4M1669.9 889.5L1670 883.8M1670.1 878.5L1670.1 877.7L1673 881.8M1680.8 890.3L1680.9 884.6M1681 879.3L1681.1 877.6L1683.4 880.9M1691.7 891.6L1691.8 885.9M1691.9 880.6L1692 877.5L1693.5 879.6M1702.8 883.3L1702.9 877.6M1713.7 886.5L1713.8 880.8"/>
<path class="w2" stroke="#00e6ff" d="M325.3 893L329 887.5M330.9 884.7L334.6 879.2M340.5 886.6L344.2 881.2M346.2 878.4L346.9 877.4L347 882.8M349.7 889L353.5 883.6M355.5 880.8L357.8 877.5L357.8 880M359.2 891.1L363 885.7M365 882.9L368.7 877.6L368.7 877.8M375.3 883.7L379.2 878.4M385.9 884.2L389.8 878.9M396.8 884.4L400.7 879.1M407.9 884.1L411.9 878.9M419.3 883.5L423.3 878.3M424.1 891.3L428.2 886.1M430.3 883.4L434.3 878.3L434.3 878.5M435.4 890.7L439.5 885.6M441.7 882.9L445.3 878.5L445.3 879.3M447 889.9L451.1 884.8M453.3 882.1L456.2 878.6L456.2 880.6M458.8 888.7L463 883.6M465.2 881L467.1 878.7L467.2 882.3M470.9 887.2L475.2 882.1M477.4 879.6L478.1 878.8L478.2 884.5M483.4 885.4L487.7 880.4M489.6 890.8L493.9 885.8M496.2 883.2L499.9 879.1L500 880.1M502.6 888.3L507 883.4M509.3 880.9L510.9 879.2L511 883.5M516 885.6L520.5 880.7M522.9 889.9L527.4 885M529.7 882.6L532.7 879.4L532.8 881.7M536.9 886.5L541.5 881.8M544.3 890.1L548.9 885.4M551.3 883L554.6 879.7L554.6 881.6M559 886.3L563.6 881.6M566.9 889.2L571.6 884.6M574 882.2L576.5 879.9L576.6 883.1M582.2 884.9L587 880.3M590.7 887.1L595.5 882.7M598.1 880.4L598.3 880.1L598.5 886.4M598.7 889.8L603.6 885.3M606.1 883.1L609.3 880.3L609.3 882.6M615.1 884.8L620.1 880.4M624.4 886.2L629.5 881.9M634 887.2L639.1 883M641.7 880.9L642.1 880.6L642.3 886.8M643.1 888.7L648.3 884.5M650.9 882.4L653 880.7L653.1 884.7M661.1 883L663.9 880.9L664.1 883.9M671.7 883.4L674.9 881L675 883.6M682.5 883.5L685.8 881.1L685.9 883.7M693.7 883.3L696.7 881.2L696.9 884.1M705.2 883L707.7 881.3L707.8 885M717 882.5L718.6 881.5L718.8 886.2M720 887.7L725.5 884.1M728.4 882.3L729.5 881.6L729.8 886.8M731.5 887.2L737.1 883.7M740 882L740.5 881.7L740.8 887.8M743.4 886.5L749.1 883.2M756.5 885.2L762.3 882M770 883.8L773.3 882L773.4 885M774.2 887.4L780 884.3M783 882.8L784.2 882.2L784.5 887.4M787.4 886.1L793.3 883.2M801.9 884.4L806.1 882.4L806.2 884.4M806.8 887.1L812.8 884.4M815.9 883L817 882.5L817.3 887.2L818 886.9M821.1 885.6L827.2 883M836.7 883.6L838.9 882.8L839.2 887M842.4 885.7L848.5 883.4M858.5 883.8L860.7 883L861.1 886.7L861.6 886.5M864.8 885.4L871.1 883.3M881.5 883.6L882.6 883.2L882.9 886.5L885.1 885.8M888.3 884.9L893.5 883.4L893.7 884.5M895.4 885.9L901.8 884.2M904.5 884.1L904.8 886.2L908.9 885.2M912.7 884.2L915.4 883.6L915.7 886.1L917.1 885.8M920.4 885L926.3 883.7L926.4 884.2M928.3 885.6L934.8 884.3M937.4 884.7L937.6 885.8L943 884.9M946.3 884.3L948.2 884L948.5 885.7L951.4 885.2M954.8 884.7L959.1 884.1L959.5 885.6L960.1 885.5M963.5 885L969.9 884.2M972.8 885.2L978.9 884.5M1057.7 884.7L1057.9 884.4L1064.1 884.9M1077.5 885.2L1079.4 885.4L1079.7 884.2L1082.8 884.6M1087 885.1L1090.3 885.6L1090.7 884.1L1092.2 884.3M1095.8 884.8L1101.3 885.7L1101.5 884.6M1104.3 884.4L1110.8 885.6M1112.5 883.8L1119 885.1M1122.3 885.8L1123.1 885.9L1123.5 883.7L1126.9 884.5M1130.3 885.2L1134.1 886.1L1134.4 883.6L1134.6 883.7M1137.9 884.4L1144.3 886M1145.3 883.5L1151.5 885.1M1155.2 886.1L1155.9 886.3L1156.3 883.4L1159 884.2M1162.3 885.1L1166.9 886.5L1167.1 884.6M1169.1 883.8L1175.4 885.8M1185.8 885.7L1188.7 886.7L1189 883.2M1192.1 884.1L1198.3 886.3M1208.2 886L1210.6 887L1210.9 882.9M1213.9 884L1220 886.5M1229.5 885.9L1232.5 887.2L1232.7 883.9M1234.6 883.3L1240.6 886.1M1249.5 885.1L1254.3 887.5L1254.4 886.2M1264 887L1265.3 887.6L1265.6 882.4M1268.4 883.6L1274.2 886.7M1282.2 885.2L1287.1 887.9L1287.2 886.8M1295.7 886.6L1298.1 888L1298.3 884.1M1299.3 882.4L1305 885.7M1307.9 887.5L1309 888.1L1309.3 882.7M1311.3 882.9L1316.9 886.4M1319.8 888.2L1319.9 888.2L1320.3 881.8M1323 883.3L1328.5 886.9M1335.1 884L1340.6 887.7M1346.9 884.6L1352.4 888.4M1358.4 885L1363.7 888.8L1363.7 888.6M1369.5 885.1L1374.6 888.9L1374.6 888.6M1380.4 885.1L1385.5 889L1385.5 888.9M1390.9 884.7L1396.1 888.8M1401.1 884.2L1406.2 888.3M1411 883.3L1416.1 887.5M1420.7 882.2L1425.7 886.4M1428.3 888.7L1429.3 889.5L1429.5 884.2M1437.5 887.3L1440.2 889.6L1440.3 886.6M1446.6 885.6L1451.1 889.8L1451.1 889.3M1455.3 883.6L1460.1 888.1M1463.8 881.3L1468.6 885.8M1471.1 888.2L1473 890L1473.1 886.1M1479.2 885.6L1483.9 890.2L1483.9 890.1M1487.2 882.6L1491.9 887.3M1494.3 889.7L1494.9 890.3L1495 884.5M1501.9 886.4L1505.8 890.4L1505.8 889.4M1509.3 882.8L1513.9 887.6M1516.2 890L1516.7 890.5L1516.9 884.6M1523.4 886.1L1527.7 890.7L1527.7 890.3M1530.3 881.8L1534.8 886.6M1537.1 889.1L1538.6 890.8L1538.7 886.5M1543.7 884.5L1548.1 889.4M1550.2 879.4L1554.5 884.3M1556.8 886.9L1560.5 891L1560.5 890M1563 881.5L1567.3 886.4M1569.5 889L1571.4 891.2L1571.5 887.4M1575.5 883.2L1579.8 888.3M1582 890.9L1582.3 891.3L1582.5 885.3M1587.7 884.7L1591.9 889.8M1600.2 886.7L1604.2 891.6L1604.2 891.3M1605.5 879.7L1609.7 884.8M1611.8 887.5L1615.1 891.7L1615.2 890.4M1616.9 880.1L1621 885.3M1623.1 888L1626.1 891.8L1626.1 890M1628 880.3L1632 885.5M1634.1 888.2L1637 891.9L1637 890.1M1638.8 880L1642.8 885.3M1644.8 888L1647.9 892.1L1648 890.6M1649.3 879.4L1653.3 884.7M1655.3 887.4L1658.9 892.2L1658.9 891.5M1659.6 878.5L1663.6 883.8M1665.6 886.5L1669.5 891.9M1676.1 886.1L1680 891.4M1686.5 885.2L1690.3 890.6M1696.5 884L1700.3 889.4M1702.2 892.2L1702.6 892.7L1702.7 886.7M1705.8 881.6L1709.5 887M1711.5 889.8L1713.5 892.8L1713.6 889.9M1714.9 878.7L1718.6 884.2M1720.5 887L1724.1 892.5"/>
<path class="n" stroke="#00e6ff" d="M328.8 887.7L331.1 884.4M344.1 881.4L346.3 878.1M347 882.5L347.1 886.5M353.3 883.9L355.6 880.6M357.8 879.7L357.9 883.7M362.8 885.9L365.1 882.6M368.6 877.8L368.8 881.5M428 886.3L430.5 883.2M434.2 878.5L434.4 882.2M439.3 885.8L441.8 882.7M445.3 879L445.4 883M450.9 885L453.5 881.9M456.2 880.3L456.3 884.3M462.8 883.8L465.4 880.8M467.2 882L467.3 886M475 882.4L477.6 879.3M478.2 884.2L478.3 888.2M493.7 886L496.4 883M499.9 879.8L500.1 883.8M506.8 883.6L509.5 880.6M511 883.2L511.1 887.2M527.2 885.3L529.9 882.3M532.8 881.4L532.9 885.4M548.7 885.6L551.5 882.8M554.6 881.3L554.8 885.3M571.4 884.8L574.2 882M576.6 882.8L576.7 886.8M595.3 882.9L598.3 880.2M603.3 885.5L606.3 882.9M609.3 882.3L609.5 886.3M638.9 883.2L642 880.7M648 884.7L651.1 882.2M653.1 884.4L653.3 888.4M664 883.6L664.2 887.6M675 883.3L675.1 887.3M685.9 883.4L686.1 887.4M696.8 883.8L697 887.8M707.8 884.7L708.1 888.4M725.2 884.3L728.6 882.1M736.9 883.9L740.3 881.8M779.7 884.5L783.3 882.6M812.6 884.5L816.2 882.9M817.7 887L821.4 885.4M839.2 886.7L842.7 885.6M861.3 886.6L865.1 885.3M884.8 885.9L888.6 884.8M908.6 885.2L913 884.2M916.8 885.8L920.7 885M942.7 884.9L946.6 884.2M951.1 885.3L955.1 884.7M959.9 885.5L963.8 885M1063.8 884.9L1067.8 885.2M1082.5 884.5L1087.3 885.1M1091.9 884.3L1096.1 884.9M1118.7 885L1122.6 885.8M1126.6 884.4L1130.6 885.3M1134.4 883.7L1138.2 884.5M1151.2 885L1155.5 886.2M1158.7 884.1L1162.6 885.2M1254.4 886.5L1254.6 882.5M1287.2 887.1L1287.4 883.1M1304.8 885.6L1308.2 887.6M1316.7 886.2L1319.9 888M1363.5 888.7L1363.8 884.9M1374.6 888.9L1374.8 884.9M1385.4 888.9L1385.7 885.2M1425.5 886.3L1428.5 888.9M1429.4 884.5L1429.6 880.5M1440.3 886.9L1440.4 882.9M1451.1 889.6L1451.3 885.6M1468.4 885.6L1471.3 888.4M1473.1 886.4L1473.2 882.4M1483.8 890L1484 886.4M1491.6 887.1L1494.5 889.9M1495 884.8L1495.2 880.8M1505.8 889.7L1505.9 885.7M1513.7 887.4L1516.4 890.2M1516.9 884.9L1517 880.9M1527.7 890.6L1527.8 886.6M1534.6 886.4L1537.3 889.3M1538.7 886.8L1538.8 882.8M1554.3 884.1L1557 887.1M1560.5 890.3L1560.6 886.3M1567.1 886.2L1569.7 889.2M1571.5 887.7L1571.6 883.7M1579.6 888L1582.2 891.1M1582.5 885.6L1582.6 881.6M1604.2 891.5L1604.3 887.6M1609.5 884.6L1612 887.7M1615.1 890.7L1615.2 886.7M1620.8 885.1L1623.3 888.2M1626.1 890.3L1626.2 886.3M1631.8 885.2L1634.3 888.4M1637 890.4L1637.1 886.4M1642.6 885L1645 888.2M1648 890.9L1648 886.9M1653.1 884.5L1655.5 887.7M1658.9 891.8L1659 887.8M1663.4 883.5L1665.7 886.8M1700.1 889.2L1702.4 892.4M1702.7 887L1702.8 883M1709.4 886.8L1711.6 890.1M1713.6 890.2L1713.7 886.2M1718.4 884L1720.6 887.3"/>
<path class="d" stroke="#e63755" d="M325.3 893L330.5 885.4L330.8 893L335.9 885.4L336.3 892.9L341.4 885.4L341.7 892.9L346.9 885.5L347.2 892.9L352.3 885.5L352.7 892.8L357.8 885.5L358.1 892.8L363.3 885.5L363.6 892.8L368.7 885.6L369.1 892.7L374.2 885.6L374.5 892.7L379.7 885.6L380 892.7L385.1 885.6L385.5 892.6L390.6 885.7L390.9 892.6L396.1 885.7L396.4 892.6L401.5 885.7L401.9 892.5L407 885.8L407.3 892.5L412.5 885.8L412.8 892.5L417.9 885.8L418.3 892.4L423.4 885.8L423.7 892.4L428.9 885.9L429.2 892.4L434.3 885.9L434.7 892.4L439.8 885.9L440.1 892.3L445.3 886L445.6 892.3L450.7 886L451.1 892.3L456.2 886L456.5 892.2L461.7 886L462 892.2L467.1 886.1L467.5 892.2L472.6 886.1L472.9 892.1L478.1 886.1L478.4 892.1L483.5 886.1L483.9 892.1L489 886.2L489.3 892L494.5 886.2L494.8 892L499.9 886.2L500.3 892L505.4 886.3L505.7 891.9L510.9 886.3L511.2 891.9L516.3 886.3L516.7 891.9L521.8 886.3L522.1 891.8L527.3 886.4L527.6 891.8L532.7 886.4L533.1 891.8L538.2 886.4L538.5 891.7L543.7 886.5L544 891.7L549.1 886.5L549.5 891.7L554.6 886.5L554.9 891.7L560.1 886.5L560.4 891.6L565.5 886.6L565.9 891.6L571 886.6L571.3 891.6L576.5 886.6L576.8 891.5L581.9 886.7L582.3 891.5L587.4 886.7L587.7 891.5L592.9 886.7L593.2 891.4L598.3 886.7L598.7 891.4L603.8 886.8L604.1 891.4L609.3 886.8L609.6 891.3L614.7 886.8L615.1 891.3L620.2 886.8L620.5 891.3L625.7 886.9L626 891.2L631.1 886.9L631.5 891.2L636.6 886.9L636.9 891.2L642.1 887L642.4 891.1L647.5 887L647.9 891.1L653 887L653.3 891.1L658.5 887L658.8 891L663.9 887.1L664.3 891L669.4 887.1L669.7 891L674.9 887.1L675.2 890.9L680.3 887.2L680.7 890.9L685.8 887.2L686.1 890.9L691.3 887.2L691.6 890.9L696.7 887.2L697.1 890.8L702.2 887.3L702.5 890.8L707.7 887.3L708 890.8L713.1 887.3L713.5 890.7L718.6 887.3L718.9 890.7L724.1 887.4L724.4 890.7L729.5 887.4L729.9 890.6L735 887.4L735.3 890.6L740.5 887.5L740.8 890.6L745.9 887.5L746.3 890.5L751.4 887.5L751.7 890.5L756.9 887.5L757.2 890.5L762.3 887.6L762.7 890.4L767.8 887.6L768.1 890.4L773.3 887.6L773.6 890.4L778.7 887.7L779.1 890.3L784.2 887.7L784.5 890.3L789.7 887.7L790 890.3L795.1 887.7L795.5 890.2L800.6 887.8L800.9 890.2L806.1 887.8L806.4 890.2L811.5 887.8L811.9 890.2L817 887.8L817.3 890.1L822.5 887.9L822.8 890.1L827.9 887.9L828.3 890.1L833.4 887.9L833.7 890L838.9 888L839.2 890L844.3 888L844.7 890L849.8 888L850.1 889.9L855.3 888L855.6 889.9L860.7 888.1L861.1 889.9L866.2 888.1L866.5 889.8L871.7 888.1L872 889.8L877.1 888.2L877.5 889.8L882.6 888.2L882.9 889.7L888.1 888.2L888.4 889.7L893.5 888.2L893.9 889.7L899 888.3L899.3 889.6L904.5 888.3L904.8 889.6L909.9 888.3L910.3 889.6L915.4 888.4L915.7 889.5L920.9 888.4L921.2 889.5L926.3 888.4L926.7 889.5L931.8 888.4L932.1 889.5L937.3 888.5L937.6 889.4L942.7 888.5L943.1 889.4L948.2 888.5L948.5 889.4L953.7 888.5L954 889.3L959.1 888.6L959.5 889.3L964.6 888.6L964.9 889.3L970.1 888.6L970.4 889.2L975.5 888.7L975.9 889.2L981 888.7L981.3 889.2L986.5 888.7L986.8 889.1L991.9 888.7L992.3 889.1L997.4 888.8L997.7 889.1L1002.9 888.8L1003.2 889L1008.3 888.8L1008.7 889L1013.8 888.9L1014.1 889L1019.3 888.9L1019.6 888.9L1024.9 888.9L1030.2 888.9L1030.5 888.9L1035.7 889L1036 888.9L1041.1 889L1041.5 888.8L1046.6 889L1046.9 888.8L1052.1 889.1L1052.4 888.8L1057.5 889.1L1057.9 888.7L1063 889.1L1063.3 888.7L1068.5 889.2L1068.8 888.7L1073.9 889.2L1074.3 888.7L1079.4 889.2L1079.7 888.6L1084.9 889.3L1085.2 888.6L1090.3 889.3L1090.7 888.6L1095.8 889.3L1096.1 888.5L1101.3 889.4L1101.6 888.5L1106.7 889.4L1107.1 888.5L1112.2 889.4L1112.5 888.5L1117.7 889.5L1118 888.4L1123.1 889.5L1123.5 888.4L1128.6 889.5L1128.9 888.4L1134.1 889.5L1134.4 888.4L1139.5 889.6L1139.9 888.3L1145 889.6L1145.3 888.3L1150.5 889.6L1150.8 888.3L1155.9 889.7L1156.3 888.2L1161.4 889.7L1161.7 888.2L1166.9 889.7L1167.2 888.2L1172.3 889.8L1172.7 888.2L1177.8 889.8L1178.1 888.1L1183.3 889.8L1183.6 888.1L1188.7 889.9L1189.1 888.1L1194.2 889.9L1194.5 888L1199.7 889.9L1200 888L1205.1 890L1205.5 888L1210.6 890L1210.9 888L1216.1 890L1216.4 887.9L1221.5 890.1L1221.9 887.9L1227 890.1L1227.3 887.9L1232.5 890.1L1232.8 887.8L1237.9 890.2L1238.3 887.8L1243.4 890.2L1243.7 887.8L1248.9 890.2L1249.2 887.8L1254.3 890.2L1254.7 887.7L1259.8 890.3L1260.1 887.7L1265.3 890.3L1265.6 887.7L1270.7 890.3L1271.1 887.7L1276.2 890.4L1276.5 887.6L1281.7 890.4L1282 887.6L1287.1 890.4L1287.5 887.6L1292.6 890.5L1292.9 887.5L1298.1 890.5L1298.4 887.5L1303.5 890.5L1303.9 887.5L1309 890.6L1309.3 887.5L1314.5 890.6L1314.8 887.4L1319.9 890.6L1320.3 887.4L1325.4 890.7L1325.7 887.4L1330.9 890.7L1331.2 887.3L1336.3 890.7L1336.7 887.3L1341.8 890.8L1342.1 887.3L1347.3 890.8L1347.6 887.3L1352.7 890.8L1353.1 887.2L1358.2 890.9L1358.5 887.2L1363.7 890.9L1364 887.2L1369.1 890.9L1369.5 887.2L1374.6 890.9L1374.9 887.1L1380.1 891L1380.4 887.1L1385.5 891L1385.9 887.1L1391 891L1391.3 887L1396.5 891.1L1396.8 887L1401.9 891.1L1402.3 887L1407.4 891.1L1407.7 887L1412.9 891.2L1413.2 886.9L1418.3 891.2L1418.7 886.9L1423.8 891.2L1424.1 886.9L1429.3 891.3L1429.6 886.8L1434.7 891.3L1435.1 886.8L1440.2 891.3L1440.5 886.8L1445.7 891.4L1446 886.8L1451.1 891.4L1451.5 886.7L1456.6 891.4L1456.9 886.7L1462.1 891.5L1462.4 886.7L1467.5 891.5L1467.9 886.7L1473 891.5L1473.3 886.6L1478.5 891.6L1478.8 886.6L1483.9 891.6L1484.3 886.6L1489.4 891.6L1489.7 886.5L1494.9 891.7L1495.2 886.5L1500.3 891.7L1500.7 886.5L1505.8 891.7L1506.1 886.5L1511.3 891.7L1511.6 886.4L1516.7 891.8L1517.1 886.4L1522.2 891.8L1522.5 886.4L1527.7 891.8L1528 886.3L1533.1 891.9L1533.5 886.3L1538.6 891.9L1538.9 886.3L1544.1 891.9L1544.4 886.3L1549.5 892L1549.9 886.2L1555 892L1555.3 886.2L1560.5 892L1560.8 886.2L1565.9 892.1L1566.3 886.1L1571.4 892.1L1571.7 886.1L1576.9 892.1L1577.2 886.1L1582.3 892.2L1582.7 886.1L1587.8 892.2L1588.1 886L1593.3 892.2L1593.6 886L1598.7 892.3L1599.1 886L1604.2 892.3L1604.5 886L1609.7 892.3L1610 885.9L1615.1 892.4L1615.5 885.9L1620.6 892.4L1620.9 885.9L1626.1 892.4L1626.4 885.8L1631.5 892.4L1631.9 885.8L1637 892.5L1637.3 885.8L1642.5 892.5L1642.8 885.8L1647.9 892.5L1648.3 885.7L1653.4 892.6L1653.7 885.7L1658.9 892.6L1659.2 885.7L1664.3 892.6L1664.7 885.6L1669.8 892.7L1670.1 885.6L1675.3 892.7L1675.6 885.6L1680.7 892.7L1681.1 885.6L1686.2 892.8L1686.5 885.5L1691.7 892.8L1692 885.5L1697.1 892.8L1697.5 885.5L1702.6 892.9L1702.9 885.5L1708.1 892.9L1708.4 885.4L1713.5 892.9L1713.9 885.4L1719 893L1719.3 885.4L1724.5 893"/>
<path class="d" stroke="#0096e6" d="M325.3 893L327.7 889.4L328.1 893L330.5 889.4L330.8 893L333.2 889.4L333.5 893L335.9 889.5L336.3 893L338.7 889.5L339 893L341.4 889.5L341.7 892.9L344.1 889.5L344.5 892.9L346.9 889.5L347.2 892.9L349.6 889.5L349.9 892.9L352.3 889.5L352.7 892.9L355.1 889.5L355.4 892.9L357.8 889.5L358.1 892.9L360.5 889.5L360.9 892.9L363.3 889.5L363.6 892.9L366 889.5L366.3 892.9L368.7 889.5L369.1 892.9L371.5 889.5L371.8 892.9L374.2 889.5L374.5 892.9L376.9 889.5L377.3 892.8L379.7 889.5L380 892.8L382.4 889.6L382.7 892.8L385.1 889.6L385.5 892.8L387.9 889.6L388.2 892.8L390.6 889.6L390.9 892.8L393.3 889.6L393.7 892.8L396.1 889.6L396.4 892.8L398.8 889.6L399.1 892.8L401.5 889.6L401.9 892.8L404.3 889.6L404.6 892.8L407 889.6L407.3 892.8L409.7 889.6L410.1 892.8L412.5 889.6L412.8 892.7L415.2 889.6L415.5 892.7L417.9 889.6L418.3 892.7L420.7 889.6L421 892.7L423.4 889.6L423.7 892.7L426.1 889.6L426.5 892.7L428.9 889.7L429.2 892.7L431.6 889.7L431.9 892.7L434.3 889.7L434.7 892.7L437.1 889.7L437.4 892.7L439.8 889.7L440.1 892.7L442.5 889.7L442.9 892.7L445.3 889.7L445.6 892.6L448 889.7L448.3 892.6L450.7 889.7L451.1 892.6L453.5 889.7L453.8 892.6L456.2 889.7L456.5 892.6L458.9 889.7L459.3 892.6L461.7 889.7L462 892.6L464.4 889.7L464.7 892.6L467.1 889.7L467.5 892.6L469.9 889.7L470.2 892.6L472.6 889.8L472.9 892.6L475.3 889.8L475.7 892.6L478.1 889.8L478.4 892.6L480.8 889.8L481.1 892.5L483.5 889.8L483.9 892.5L486.3 889.8L486.6 892.5L489 889.8L489.3 892.5L491.7 889.8L492.1 892.5L494.5 889.8L494.8 892.5L497.2 889.8L497.5 892.5L499.9 889.8L500.3 892.5L502.7 889.8L503 892.5L505.4 889.8L505.7 892.5L508.1 889.8L508.5 892.5L510.9 889.8L511.2 892.5L513.6 889.8L513.9 892.4L516.3 889.8L516.7 892.4L519.1 889.9L519.4 892.4L521.8 889.9L522.1 892.4L524.5 889.9L524.9 892.4L527.3 889.9L527.6 892.4L530 889.9L530.3 892.4L532.7 889.9L533.1 892.4L535.5 889.9L535.8 892.4L538.2 889.9L538.5 892.4L540.9 889.9L541.3 892.4L543.7 889.9L544 892.4L546.4 889.9L546.7 892.4L549.1 889.9L549.5 892.3L551.9 889.9L552.2 892.3L554.6 889.9L554.9 892.3L557.3 889.9L557.7 892.3L560.1 889.9L560.4 892.3L562.8 889.9L563.1 892.3L565.5 890L565.9 892.3L568.3 890L568.6 892.3L571 890L571.3 892.3L573.7 890L574.1 892.3L576.5 890L576.8 892.3L579.2 890L579.5 892.3L581.9 890L582.3 892.2L584.7 890L585 892.2L587.4 890L587.7 892.2L590.1 890L590.5 892.2L592.9 890L593.2 892.2L595.6 890L595.9 892.2L598.3 890L598.7 892.2L601.1 890L601.4 892.2L603.8 890L604.1 892.2L606.5 890L606.9 892.2L609.3 890L609.6 892.2L612 890.1L612.3 892.2L614.7 890.1L615.1 892.2L617.5 890.1L617.8 892.1L620.2 890.1L620.5 892.1L622.9 890.1L623.3 892.1L625.7 890.1L626 892.1L628.4 890.1L628.7 892.1L631.1 890.1L631.5 892.1L633.9 890.1L634.2 892.1L636.6 890.1L636.9 892.1L639.3 890.1L639.7 892.1L642.1 890.1L642.4 892.1L644.8 890.1L645.1 892.1L647.5 890.1L647.9 892.1L650.3 890.1L650.6 892L653 890.1L653.3 892L655.7 890.2L656.1 892L658.5 890.2L658.8 892L661.2 890.2L661.5 892L663.9 890.2L664.3 892L666.7 890.2L667 892L669.4 890.2L669.7 892L672.1 890.2L672.5 892L674.9 890.2L675.2 892L677.6 890.2L677.9 892L680.3 890.2L680.7 892L683.1 890.2L683.4 892L685.8 890.2L686.1 891.9L688.5 890.2L688.9 891.9L691.3 890.2L691.6 891.9L694 890.2L694.3 891.9L696.7 890.2L697.1 891.9L699.5 890.2L699.8 891.9L702.2 890.3L702.5 891.9L704.9 890.3L705.3 891.9L707.7 890.3L708 891.9L710.4 890.3L710.7 891.9L713.1 890.3L713.5 891.9L715.9 890.3L716.2 891.9L718.6 890.3L718.9 891.8L721.3 890.3L721.7 891.8L724.1 890.3L724.4 891.8L726.8 890.3L727.1 891.8L729.5 890.3L729.9 891.8L732.3 890.3L732.6 891.8L735 890.3L735.3 891.8L737.7 890.3L738.1 891.8L740.5 890.3L740.8 891.8L743.2 890.3L743.5 891.8L745.9 890.3L746.3 891.8L748.7 890.4L749 891.8L751.4 890.4L751.7 891.8L754.1 890.4L754.5 891.7L756.9 890.4L757.2 891.7L759.6 890.4L759.9 891.7L762.3 890.4L762.7 891.7L765.1 890.4L765.4 891.7L767.8 890.4L768.1 891.7L770.5 890.4L770.9 891.7L773.3 890.4L773.6 891.7L776 890.4L776.3 891.7L778.7 890.4L779.1 891.7L781.5 890.4L781.8 891.7L784.2 890.4L784.5 891.7L786.9 890.4L787.3 891.7L789.7 890.4L790 891.6L792.4 890.4L792.7 891.6L795.1 890.5L795.5 891.6L797.9 890.5L798.2 891.6L800.6 890.5L800.9 891.6L803.3 890.5L803.7 891.6L806.1 890.5L806.4 891.6L808.8 890.5L809.1 891.6L811.5 890.5L811.9 891.6L814.3 890.5L814.6 891.6L817 890.5L817.3 891.6L819.7 890.5L820.1 891.6L822.5 890.5L822.8 891.5L825.2 890.5L825.5 891.5L827.9 890.5L828.3 891.5L830.7 890.5L831 891.5L833.4 890.5L833.7 891.5L836.1 890.5L836.5 891.5L838.9 890.6L839.2 891.5L841.6 890.6L841.9 891.5L844.3 890.6L844.7 891.5L847.1 890.6L847.4 891.5L849.8 890.6L850.1 891.5L852.5 890.6L852.9 891.5L855.3 890.6L855.6 891.5L858 890.6L858.3 891.4L860.7 890.6L861.1 891.4L863.5 890.6L863.8 891.4L866.2 890.6L866.5 891.4L868.9 890.6L869.3 891.4L871.7 890.6L872 891.4L874.4 890.6L874.7 891.4L877.1 890.6L877.5 891.4L879.9 890.6L880.2 891.4L882.6 890.6L882.9 891.4L885.3 890.7L885.7 891.4L888.1 890.7L888.4 891.4L890.8 890.7L891.1 891.3L893.5 890.7L893.9 891.3L896.3 890.7L896.6 891.3L899 890.7L899.3 891.3L901.7 890.7L902.1 891.3L904.5 890.7L904.8 891.3L907.2 890.7L907.5 891.3L909.9 890.7L910.3 891.3L912.7 890.7L913 891.3L915.4 890.7L915.7 891.3L918.1 890.7L918.5 891.3L920.9 890.7L921.2 891.3L923.6 890.7L923.9 891.3L926.3 890.7L926.7 891.2L929.1 890.7L929.4 891.2L931.8 890.8L932.1 891.2L934.5 890.8L934.9 891.2L937.3 890.8L937.6 891.2L940 890.8L940.3 891.2L942.7 890.8L943.1 891.2L945.5 890.8L945.8 891.2L948.2 890.8L948.5 891.2L950.9 890.8L951.3 891.2L953.7 890.8L954 891.2L956.4 890.8L956.7 891.2L959.1 890.8L959.5 891.1L961.9 890.8L962.2 891.1L964.6 890.8L964.9 891.1L967.3 890.8L967.7 891.1L970.1 890.8L970.4 891.1L972.8 890.8L973.1 891.1L975.5 890.8L975.9 891.1L978.3 890.9L978.6 891.1L981 890.9L981.3 891.1L983.7 890.9L984.1 891.1L986.5 890.9L986.8 891.1L989.2 890.9L989.5 891.1L991.9 890.9L992.3 891.1L994.7 890.9L995 891L997.4 890.9L997.7 891L1000.1 890.9L1000.5 891L1002.9 890.9L1003.2 891L1005.6 890.9L1005.9 891L1008.3 890.9L1008.7 891L1011.1 890.9L1011.4 891L1013.8 890.9L1014.1 891L1016.5 890.9L1016.9 891L1019.3 890.9L1019.6 891L1022 891L1022.3 891L1024.9 891L1027.5 891L1027.8 891L1030.2 891L1030.5 890.9L1032.9 891L1033.3 890.9L1035.7 891L1036 890.9L1038.4 891L1038.7 890.9L1041.1 891L1041.5 890.9L1043.9 891L1044.2 890.9L1046.6 891L1046.9 890.9L1049.3 891L1049.7 890.9L1052.1 891L1052.4 890.9L1054.8 891L1055.1 890.9L1057.5 891.1L1057.9 890.9L1060.3 891.1L1060.6 890.9L1063 891.1L1063.3 890.9L1065.7 891.1L1066.1 890.9L1068.5 891.1L1068.8 890.9L1071.2 891.1L1071.5 890.9L1073.9 891.1L1074.3 890.8L1076.7 891.1L1077 890.8L1079.4 891.1L1079.7 890.8L1082.1 891.1L1082.5 890.8L1084.9 891.1L1085.2 890.8L1087.6 891.1L1087.9 890.8L1090.3 891.1L1090.7 890.8L1093.1 891.2L1093.4 890.8L1095.8 891.2L1096.1 890.8L1098.5 891.2L1098.9 890.8L1101.3 891.2L1101.6 890.8L1104 891.2L1104.3 890.8L1106.7 891.2L1107.1 890.8L1109.5 891.2L1109.8 890.8L1112.2 891.2L1112.5 890.8L1114.9 891.2L1115.3 890.8L1117.7 891.2L1118 890.8L1120.4 891.2L1120.7 890.7L1123.1 891.2L1123.5 890.7L1125.9 891.3L1126.2 890.7L1128.6 891.3L1128.9 890.7L1131.3 891.3L1131.7 890.7L1134.1 891.3L1134.4 890.7L1136.8 891.3L1137.1 890.7L1139.5 891.3L1139.9 890.7L1142.3 891.3L1142.6 890.7L1145 891.3L1145.3 890.7L1147.7 891.3L1148.1 890.7L1150.5 891.3L1150.8 890.7L1153.2 891.3L1153.5 890.7L1155.9 891.3L1156.3 890.7L1158.7 891.3L1159 890.7L1161.4 891.4L1161.7 890.7L1164.1 891.4L1164.5 890.7L1166.9 891.4L1167.2 890.6L1169.6 891.4L1169.9 890.6L1172.3 891.4L1172.7 890.6L1175.1 891.4L1175.4 890.6L1177.8 891.4L1178.1 890.6L1180.5 891.4L1180.9 890.6L1183.3 891.4L1183.6 890.6L1186 891.4L1186.3 890.6L1188.7 891.4L1189.1 890.6L1191.5 891.4L1191.8 890.6L1194.2 891.5L1194.5 890.6L1196.9 891.5L1197.3 890.6L1199.7 891.5L1200 890.6L1202.4 891.5L1202.7 890.6L1205.1 891.5L1205.5 890.6L1207.9 891.5L1208.2 890.6L1210.6 891.5L1210.9 890.6L1213.3 891.5L1213.7 890.5L1216.1 891.5L1216.4 890.5L1218.8 891.5L1219.1 890.5L1221.5 891.5L1221.9 890.5L1224.3 891.5L1224.6 890.5L1227 891.5L1227.3 890.5L1229.7 891.6L1230.1 890.5L1232.5 891.6L1232.8 890.5L1235.2 891.6L1235.5 890.5L1237.9 891.6L1238.3 890.5L1240.7 891.6L1241 890.5L1243.4 891.6L1243.7 890.5L1246.1 891.6L1246.5 890.5L1248.9 891.6L1249.2 890.5L1251.6 891.6L1251.9 890.5L1254.3 891.6L1254.7 890.5L1257.1 891.6L1257.4 890.4L1259.8 891.6L1260.1 890.4L1262.5 891.7L1262.9 890.4L1265.3 891.7L1265.6 890.4L1268 891.7L1268.3 890.4L1270.7 891.7L1271.1 890.4L1273.5 891.7L1273.8 890.4L1276.2 891.7L1276.5 890.4L1278.9 891.7L1279.3 890.4L1281.7 891.7L1282 890.4L1284.4 891.7L1284.7 890.4L1287.1 891.7L1287.5 890.4L1289.9 891.7L1290.2 890.4L1292.6 891.7L1292.9 890.4L1295.3 891.7L1295.7 890.4L1298.1 891.8L1298.4 890.4L1300.8 891.8L1301.1 890.4L1303.5 891.8L1303.9 890.3L1306.3 891.8L1306.6 890.3L1309 891.8L1309.3 890.3L1311.7 891.8L1312.1 890.3L1314.5 891.8L1314.8 890.3L1317.2 891.8L1317.5 890.3L1319.9 891.8L1320.3 890.3L1322.7 891.8L1323 890.3L1325.4 891.8L1325.7 890.3L1328.1 891.8L1328.5 890.3L1330.9 891.8L1331.2 890.3L1333.6 891.9L1333.9 890.3L1336.3 891.9L1336.7 890.3L1339.1 891.9L1339.4 890.3L1341.8 891.9L1342.1 890.3L1344.5 891.9L1344.9 890.3L1347.3 891.9L1347.6 890.3L1350 891.9L1350.3 890.2L1352.7 891.9L1353.1 890.2L1355.5 891.9L1355.8 890.2L1358.2 891.9L1358.5 890.2L1360.9 891.9L1361.3 890.2L1363.7 891.9L1364 890.2L1366.4 892L1366.7 890.2L1369.1 892L1369.5 890.2L1371.9 892L1372.2 890.2L1374.6 892L1374.9 890.2L1377.3 892L1377.7 890.2L1380.1 892L1380.4 890.2L1382.8 892L1383.1 890.2L1385.5 892L1385.9 890.2L1388.3 892L1388.6 890.2L1391 892L1391.3 890.2L1393.7 892L1394.1 890.2L1396.5 892L1396.8 890.1L1399.2 892L1399.5 890.1L1401.9 892.1L1402.3 890.1L1404.7 892.1L1405 890.1L1407.4 892.1L1407.7 890.1L1410.1 892.1L1410.5 890.1L1412.9 892.1L1413.2 890.1L1415.6 892.1L1415.9 890.1L1418.3 892.1L1418.7 890.1L1421.1 892.1L1421.4 890.1L1423.8 892.1L1424.1 890.1L1426.5 892.1L1426.9 890.1L1429.3 892.1L1429.6 890.1L1432 892.1L1432.3 890.1L1434.7 892.2L1435.1 890.1L1437.5 892.2L1437.8 890.1L1440.2 892.2L1440.5 890L1442.9 892.2L1443.3 890L1445.7 892.2L1446 890L1448.4 892.2L1448.7 890L1451.1 892.2L1451.5 890L1453.9 892.2L1454.2 890L1456.6 892.2L1456.9 890L1459.3 892.2L1459.7 890L1462.1 892.2L1462.4 890L1464.8 892.2L1465.1 890L1467.5 892.2L1467.9 890L1470.3 892.3L1470.6 890L1473 892.3L1473.3 890L1475.7 892.3L1476.1 890L1478.5 892.3L1478.8 890L1481.2 892.3L1481.5 890L1483.9 892.3L1484.3 890L1486.7 892.3L1487 889.9L1489.4 892.3L1489.7 889.9L1492.1 892.3L1492.5 889.9L1494.9 892.3L1495.2 889.9L1497.6 892.3L1497.9 889.9L1500.3 892.3L1500.7 889.9L1503.1 892.4L1503.4 889.9L1505.8 892.4L1506.1 889.9L1508.5 892.4L1508.9 889.9L1511.3 892.4L1511.6 889.9L1514 892.4L1514.3 889.9L1516.7 892.4L1517.1 889.9L1519.5 892.4L1519.8 889.9L1522.2 892.4L1522.5 889.9L1524.9 892.4L1525.3 889.9L1527.7 892.4L1528 889.9L1530.4 892.4L1530.7 889.9L1533.1 892.4L1533.5 889.8L1535.9 892.4L1536.2 889.8L1538.6 892.5L1538.9 889.8L1541.3 892.5L1541.7 889.8L1544.1 892.5L1544.4 889.8L1546.8 892.5L1547.1 889.8L1549.5 892.5L1549.9 889.8L1552.3 892.5L1552.6 889.8L1555 892.5L1555.3 889.8L1557.7 892.5L1558.1 889.8L1560.5 892.5L1560.8 889.8L1563.2 892.5L1563.5 889.8L1565.9 892.5L1566.3 889.8L1568.7 892.5L1569 889.8L1571.4 892.6L1571.7 889.8L1574.1 892.6L1574.5 889.8L1576.9 892.6L1577.2 889.8L1579.6 892.6L1579.9 889.7L1582.3 892.6L1582.7 889.7L1585.1 892.6L1585.4 889.7L1587.8 892.6L1588.1 889.7L1590.5 892.6L1590.9 889.7L1593.3 892.6L1593.6 889.7L1596 892.6L1596.3 889.7L1598.7 892.6L1599.1 889.7L1601.5 892.6L1601.8 889.7L1604.2 892.6L1604.5 889.7L1606.9 892.7L1607.3 889.7L1609.7 892.7L1610 889.7L1612.4 892.7L1612.7 889.7L1615.1 892.7L1615.5 889.7L1617.9 892.7L1618.2 889.7L1620.6 892.7L1620.9 889.7L1623.3 892.7L1623.7 889.6L1626.1 892.7L1626.4 889.6L1628.8 892.7L1629.1 889.6L1631.5 892.7L1631.9 889.6L1634.3 892.7L1634.6 889.6L1637 892.7L1637.3 889.6L1639.7 892.8L1640.1 889.6L1642.5 892.8L1642.8 889.6L1645.2 892.8L1645.5 889.6L1647.9 892.8L1648.3 889.6L1650.7 892.8L1651 889.6L1653.4 892.8L1653.7 889.6L1656.1 892.8L1656.5 889.6L1658.9 892.8L1659.2 889.6L1661.6 892.8L1661.9 889.6L1664.3 892.8L1664.7 889.6L1667.1 892.8L1667.4 889.6L1669.8 892.8L1670.1 889.5L1672.5 892.8L1672.9 889.5L1675.3 892.9L1675.6 889.5L1678 892.9L1678.3 889.5L1680.7 892.9L1681.1 889.5L1683.5 892.9L1683.8 889.5L1686.2 892.9L1686.5 889.5L1688.9 892.9L1689.3 889.5L1691.7 892.9L1692 889.5L1694.4 892.9L1694.7 889.5L1697.1 892.9L1697.5 889.5L1699.9 892.9L1700.2 889.5L1702.6 892.9L1702.9 889.5L1705.3 892.9L1705.7 889.5L1708.1 892.9L1708.4 889.5L1710.8 893L1711.1 889.5L1713.5 893L1713.9 889.5L1716.3 893L1716.6 889.4L1719 893L1719.3 889.4L1721.7 893L1722.1 889.4L1724.5 893"/>
<path class="d" stroke="#ff7832" d="M325.3 893L326.4 891.5L326.7 893L327.7 891.5L328.1 893L329.1 891.5L329.4 893L330.5 891.5L330.8 893L331.8 891.5L332.2 893L333.2 891.5L333.5 893L334.6 891.5L334.9 893L335.9 891.5L336.3 893L337.3 891.5L337.6 893L338.7 891.5L339 893L340 891.5L340.4 893L341.4 891.5L341.7 893L342.8 891.5L343.1 893L344.1 891.5L344.5 893L345.5 891.5L345.8 893L346.9 891.5L347.2 893L348.2 891.5L348.6 893L349.6 891.5L349.9 893L351 891.5L351.3 893L352.3 891.5L352.7 893L353.7 891.5L354 893L355.1 891.5L355.4 893L356.4 891.5L356.8 893L357.8 891.5L358.1 893L359.2 891.5L359.5 892.9L360.5 891.5L360.9 892.9L361.9 891.5L362.2 892.9L363.3 891.5L363.6 892.9L364.6 891.5L365 892.9L366 891.5L366.3 892.9L367.4 891.5L367.7 892.9L368.7 891.5L369.1 892.9L370.1 891.5L370.4 892.9L371.5 891.5L371.8 892.9L372.8 891.5L373.2 892.9L374.2 891.5L374.5 892.9L375.6 891.5L375.9 892.9L376.9 891.5L377.3 892.9L378.3 891.5L378.6 892.9L379.7 891.5L380 892.9L381 891.5L381.4 892.9L382.4 891.5L382.7 892.9L383.8 891.5L384.1 892.9L385.1 891.5L385.5 892.9L386.5 891.5L386.8 892.9L387.9 891.5L388.2 892.9L389.2 891.5L389.6 892.9L390.6 891.5L390.9 892.9L392 891.5L392.3 892.9L393.3 891.5L393.7 892.9L394.7 891.5L395 892.9L396.1 891.5L396.4 892.9L397.4 891.5L397.8 892.9L398.8 891.5L399.1 892.9L400.2 891.5L400.5 892.9L401.5 891.5L401.9 892.9L402.9 891.5L403.2 892.9L404.3 891.5L404.6 892.9L405.6 891.5L406 892.9L407 891.5L407.3 892.9L408.4 891.5L408.7 892.9L409.7 891.5L410.1 892.9L411.1 891.5L411.4 892.9L412.5 891.5L412.8 892.9L413.8 891.5L414.2 892.9L415.2 891.5L415.5 892.9L416.6 891.5L416.9 892.9L417.9 891.5L418.3 892.9L419.3 891.5L419.6 892.9L420.7 891.5L421 892.9L422 891.5L422.4 892.9L423.4 891.5L423.7 892.9L424.8 891.5L425.1 892.9L426.1 891.5L426.5 892.9L427.5 891.5L427.8 892.8L428.9 891.5L429.2 892.8L430.2 891.5L430.6 892.8L431.6 891.5L431.9 892.8L433 891.5L433.3 892.8L434.3 891.5L434.7 892.8L435.7 891.6L436 892.8L437.1 891.6L437.4 892.8L438.4 891.6L438.8 892.8L439.8 891.6L440.1 892.8L441.2 891.6L441.5 892.8L442.5 891.6L442.9 892.8L443.9 891.6L444.2 892.8L445.3 891.6L445.6 892.8L446.6 891.6L447 892.8L448 891.6L448.3 892.8L449.4 891.6L449.7 892.8L450.7 891.6L451.1 892.8L452.1 891.6L452.4 892.8L453.5 891.6L453.8 892.8L454.8 891.6L455.2 892.8L456.2 891.6L456.5 892.8L457.6 891.6L457.9 892.8L458.9 891.6L459.3 892.8L460.3 891.6L460.6 892.8L461.7 891.6L462 892.8L463 891.6L463.4 892.8L464.4 891.6L464.7 892.8L465.8 891.6L466.1 892.8L467.1 891.6L467.5 892.8L468.5 891.6L468.8 892.8L469.9 891.6L470.2 892.8L471.2 891.6L471.6 892.8L472.6 891.6L472.9 892.8L474 891.6L474.3 892.8L475.3 891.6L475.7 892.8L476.7 891.6L477 892.8L478.1 891.6L478.4 892.8L479.4 891.6L479.8 892.8L480.8 891.6L481.1 892.8L482.2 891.6L482.5 892.8L483.5 891.6L483.9 892.8L484.9 891.6L485.2 892.8L486.3 891.6L486.6 892.8L487.6 891.6L488 892.8L489 891.6L489.3 892.8L490.4 891.6L490.7 892.8L491.7 891.6L492.1 892.8L493.1 891.6L493.4 892.8L494.5 891.6L494.8 892.8L495.8 891.6L496.2 892.8L497.2 891.6L497.5 892.7L498.6 891.6L498.9 892.7L499.9 891.6L500.3 892.7L501.3 891.6L501.6 892.7L502.7 891.6L503 892.7L504 891.6L504.4 892.7L505.4 891.6L505.7 892.7L506.8 891.6L507.1 892.7L508.1 891.6L508.5 892.7L509.5 891.6L509.8 892.7L510.9 891.6L511.2 892.7L512.2 891.6L512.6 892.7L513.6 891.6L513.9 892.7L515 891.6L515.3 892.7L516.3 891.6L516.7 892.7L517.7 891.6L518 892.7L519.1 891.6L519.4 892.7L520.4 891.6L520.8 892.7L521.8 891.6L522.1 892.7L523.2 891.6L523.5 892.7L524.5 891.6L524.9 892.7L525.9 891.6L526.2 892.7L527.3 891.6L527.6 892.7L528.6 891.6L529 892.7L530 891.6L530.3 892.7L531.4 891.6L531.7 892.7L532.7 891.6L533.1 892.7L534.1 891.6L534.4 892.7L535.5 891.6L535.8 892.7L536.8 891.6L537.2 892.7L538.2 891.6L538.5 892.7L539.6 891.6L539.9 892.7L540.9 891.6L541.3 892.7L542.3 891.6L542.6 892.7L543.7 891.6L544 892.7L545 891.6L545.4 892.7L546.4 891.6L546.7 892.7L547.8 891.6L548.1 892.7L549.1 891.6L549.5 892.7L550.5 891.6L550.8 892.7L551.9 891.6L552.2 892.7L553.2 891.6L553.6 892.7L554.6 891.6L554.9 892.7L556 891.6L556.3 892.7L557.3 891.6L557.7 892.7L558.7 891.6L559 892.7L560.1 891.6L560.4 892.7L561.4 891.6L561.8 892.7L562.8 891.6L563.1 892.7L564.2 891.6L564.5 892.7L565.5 891.6L565.9 892.6L566.9 891.6L567.2 892.6L568.3 891.6L568.6 892.6L569.6 891.6L570 892.6L571 891.6L571.3 892.6L572.4 891.6L572.7 892.6L573.7 891.7L574.1 892.6L575.1 891.7L575.4 892.6L576.5 891.7L576.8 892.6L577.8 891.7L578.2 892.6L579.2 891.7L579.5 892.6L580.6 891.7L580.9 892.6L581.9 891.7L582.3 892.6L583.3 891.7L583.6 892.6L584.7 891.7L585 892.6L586 891.7L586.4 892.6L587.4 891.7L587.7 892.6L588.8 891.7L589.1 892.6L590.1 891.7L590.5 892.6L591.5 891.7L591.8 892.6L592.9 891.7L593.2 892.6L594.2 891.7L594.6 892.6L595.6 891.7L595.9 892.6L597 891.7L597.3 892.6L598.3 891.7L598.7 892.6L599.7 891.7L600 892.6L601.1 891.7L601.4 892.6L602.4 891.7L602.8 892.6L603.8 891.7L604.1 892.6L605.2 891.7L605.5 892.6L606.5 891.7L606.9 892.6L607.9 891.7L608.2 892.6L609.3 891.7L609.6 892.6L610.6 891.7L611 892.6L612 891.7L612.3 892.6L613.4 891.7L613.7 892.6L614.7 891.7L615.1 892.6L616.1 891.7L616.4 892.6L617.5 891.7L617.8 892.6L618.8 891.7L619.2 892.6L620.2 891.7L620.5 892.6L621.6 891.7L621.9 892.6L622.9 891.7L623.3 892.6L624.3 891.7L624.6 892.6L625.7 891.7L626 892.6L627 891.7L627.4 892.6L628.4 891.7L628.7 892.6L629.8 891.7L630.1 892.6L631.1 891.7L631.5 892.6L632.5 891.7L632.8 892.6L633.9 891.7L634.2 892.5L635.2 891.7L635.6 892.5L636.6 891.7L636.9 892.5L638 891.7L638.3 892.5L639.3 891.7L639.7 892.5L640.7 891.7L641 892.5L642.1 891.7L642.4 892.5L643.4 891.7L643.8 892.5L644.8 891.7L645.1 892.5L646.2 891.7L646.5 892.5L647.5 891.7L647.9 892.5L648.9 891.7L649.2 892.5L650.3 891.7L650.6 892.5L651.6 891.7L652 892.5L653 891.7L653.3 892.5L654.4 891.7L654.7 892.5L655.7 891.7L656.1 892.5L657.1 891.7L657.4 892.5L658.5 891.7L658.8 892.5L659.8 891.7L660.2 892.5L661.2 891.7L661.5 892.5L662.6 891.7L662.9 892.5L663.9 891.7L664.3 892.5L665.3 891.7L665.6 892.5L666.7 891.7L667 892.5L668 891.7L668.4 892.5L669.4 891.7L669.7 892.5L670.8 891.7L671.1 892.5L672.1 891.7L672.5 892.5L673.5 891.7L673.8 892.5L674.9 891.7L675.2 892.5L676.2 891.7L676.6 892.5L677.6 891.7L677.9 892.5L679 891.7L679.3 892.5L680.3 891.7L680.7 892.5L681.7 891.7L682 892.5L683.1 891.7L683.4 892.5L684.4 891.7L684.8 892.5L685.8 891.7L686.1 892.5L687.2 891.7L687.5 892.5L688.5 891.7L688.9 892.5L689.9 891.7L690.2 892.5L691.3 891.7L691.6 892.5L692.6 891.7L693 892.5L694 891.7L694.3 892.5L695.4 891.7L695.7 892.5L696.7 891.7L697.1 892.5L698.1 891.7L698.4 892.5L699.5 891.7L699.8 892.5L700.8 891.7L701.2 892.5L702.2 891.7L702.5 892.4L703.6 891.7L703.9 892.4L704.9 891.7L705.3 892.4L706.3 891.7L706.6 892.4L707.7 891.7L708 892.4L709 891.7L709.4 892.4L710.4 891.8L710.7 892.4L711.8 891.8L712.1 892.4L713.1 891.8L713.5 892.4L714.5 891.8L714.8 892.4L715.9 891.8L716.2 892.4L717.2 891.8L717.6 892.4L718.6 891.8L718.9 892.4L720 891.8L720.3 892.4L721.3 891.8L721.7 892.4L722.7 891.8L723 892.4L724.1 891.8L724.4 892.4L725.4 891.8L725.8 892.4L726.8 891.8L727.1 892.4L728.2 891.8L728.5 892.4L729.5 891.8L729.9 892.4L730.9 891.8L731.2 892.4L732.3 891.8L732.6 892.4L733.6 891.8L734 892.4L735 891.8L735.3 892.4L736.4 891.8L736.7 892.4L737.7 891.8L738.1 892.4L739.1 891.8L739.4 892.4L740.5 891.8L740.8 892.4L741.8 891.8L742.2 892.4L743.2 891.8L743.5 892.4L744.6 891.8L744.9 892.4L745.9 891.8L746.3 892.4L747.3 891.8L747.6 892.4L748.7 891.8L749 892.4L750 891.8L750.4 892.4L751.4 891.8L751.7 892.4L752.8 891.8L753.1 892.4L754.1 891.8L754.5 892.4L755.5 891.8L755.8 892.4L756.9 891.8L757.2 892.4L758.2 891.8L758.6 892.4L759.6 891.8L759.9 892.4L761 891.8L761.3 892.4L762.3 891.8L762.7 892.4L763.7 891.8L764 892.4L765.1 891.8L765.4 892.4L766.4 891.8L766.8 892.4L767.8 891.8L768.1 892.4L769.2 891.8L769.5 892.4L770.5 891.8L770.9 892.3L771.9 891.8L772.2 892.3L773.3 891.8L773.6 892.3L774.6 891.8L775 892.3L776 891.8L776.3 892.3L777.4 891.8L777.7 892.3L778.7 891.8L779.1 892.3L780.1 891.8L780.4 892.3L781.5 891.8L781.8 892.3L782.8 891.8L783.2 892.3L784.2 891.8L784.5 892.3L785.6 891.8L785.9 892.3L786.9 891.8L787.3 892.3L788.3 891.8L788.6 892.3L789.7 891.8L790 892.3L791 891.8L791.4 892.3L792.4 891.8L792.7 892.3L793.8 891.8L794.1 892.3L795.1 891.8L795.5 892.3L796.5 891.8L796.8 892.3L797.9 891.8L798.2 892.3L799.2 891.8L799.6 892.3L800.6 891.8L800.9 892.3L802 891.8L802.3 892.3L803.3 891.8L803.7 892.3L804.7 891.8L805 892.3L806.1 891.8L806.4 892.3L807.4 891.8L807.8 892.3L808.8 891.8L809.1 892.3L810.2 891.8L810.5 892.3L811.5 891.8L811.9 892.3L812.9 891.8L813.2 892.3L814.3 891.8L814.6 892.3L815.6 891.8L816 892.3L817 891.8L817.3 892.3L818.4 891.8L818.7 892.3L819.7 891.8L820.1 892.3L821.1 891.8L821.4 892.3L822.5 891.8L822.8 892.3L823.8 891.8L824.2 892.3L825.2 891.8L825.5 892.3L826.6 891.8L826.9 892.3L827.9 891.8L828.3 892.3L829.3 891.8L829.6 892.3L830.7 891.8L831 892.3L832 891.8L832.4 892.3L833.4 891.8L833.7 892.3L834.8 891.8L835.1 892.3L836.1 891.8L836.5 892.3L837.5 891.8L837.8 892.3L838.9 891.8L839.2 892.3L840.2 891.8L840.6 892.2L841.6 891.8L841.9 892.2L843 891.8L843.3 892.2L844.3 891.8L844.7 892.2L845.7 891.8L846 892.2L847.1 891.8L847.4 892.2L848.4 891.9L848.8 892.2L849.8 891.9L850.1 892.2L851.2 891.9L851.5 892.2L852.5 891.9L852.9 892.2L853.9 891.9L854.2 892.2L855.3 891.9L855.6 892.2L856.6 891.9L857 892.2L858 891.9L858.3 892.2L859.4 891.9L859.7 892.2L860.7 891.9L861.1 892.2L862.1 891.9L862.4 892.2L863.5 891.9L863.8 892.2L864.8 891.9L865.2 892.2L866.2 891.9L866.5 892.2L867.6 891.9L867.9 892.2L868.9 891.9L869.3 892.2L870.3 891.9L870.6 892.2L871.7 891.9L872 892.2L873 891.9L873.4 892.2L874.4 891.9L874.7 892.2L875.8 891.9L876.1 892.2L877.1 891.9L877.5 892.2L878.5 891.9L878.8 892.2L879.9 891.9L880.2 892.2L881.2 891.9L881.6 892.2L882.6 891.9L882.9 892.2L884 891.9L884.3 892.2L885.3 891.9L885.7 892.2L886.7 891.9L887 892.2L888.1 891.9L888.4 892.2L889.4 891.9L889.8 892.2L890.8 891.9L891.1 892.2L892.2 891.9L892.5 892.2L893.5 891.9L893.9 892.2L894.9 891.9L895.2 892.2L896.3 891.9L896.6 892.2L897.6 891.9L898 892.2L899 891.9L899.3 892.2L900.4 891.9L900.7 892.2L901.7 891.9L902.1 892.2L903.1 891.9L903.4 892.2L904.5 891.9L904.8 892.2L905.8 891.9L906.2 892.2L907.2 891.9L907.5 892.2L908.6 891.9L908.9 892.1L909.9 891.9L910.3 892.1L911.3 891.9L911.6 892.1L912.7 891.9L913 892.1L914 891.9L914.4 892.1L915.4 891.9L915.7 892.1L916.8 891.9L917.1 892.1L918.1 891.9L918.5 892.1L919.5 891.9L919.8 892.1L920.9 891.9L921.2 892.1L922.2 891.9L922.6 892.1L923.6 891.9L923.9 892.1L925 891.9L925.3 892.1L926.3 891.9L926.7 892.1L927.7 891.9L928 892.1L929.1 891.9L929.4 892.1L930.4 891.9L930.8 892.1L931.8 891.9L932.1 892.1L933.2 891.9L933.5 892.1L934.5 891.9L934.9 892.1L935.9 891.9L936.2 892.1L937.3 891.9L937.6 892.1L938.6 891.9L939 892.1L940 891.9L940.3 892.1L941.4 891.9L941.7 892.1L942.7 891.9L943.1 892.1L944.1 891.9L944.4 892.1L945.5 891.9L945.8 892.1L946.8 891.9L947.2 892.1L948.2 891.9L948.5 892.1L949.6 891.9L949.9 892.1L950.9 891.9L951.3 892.1L952.3 891.9L952.6 892.1L953.7 891.9L954 892.1L955 891.9L955.4 892.1L956.4 891.9L956.7 892.1L957.8 891.9L958.1 892.1L959.1 891.9L959.5 892.1L960.5 891.9L960.8 892.1L961.9 891.9L962.2 892.1L963.2 891.9L963.6 892.1L964.6 891.9L964.9 892.1L966 891.9L966.3 892.1L967.3 891.9L967.7 892.1L968.7 891.9L969 892.1L970.1 891.9L970.4 892.1L971.4 891.9L971.8 892.1L972.8 891.9L973.1 892.1L974.2 891.9L974.5 892.1L975.5 891.9L975.9 892.1L976.9 891.9L977.2 892L978.3 891.9L978.6 892L979.6 891.9L980 892L981 891.9L981.3 892L982.4 891.9L982.7 892L983.7 891.9L984.1 892L985.1 892L985.4 892L986.5 892L986.8 892L987.8 892L988.2 892L989.2 892L989.5 892L990.6 892L990.9 892L991.9 892L992.3 892L993.3 892L993.6 892L994.7 892L995 892L996 892L996.4 892L997.4 892L997.7 892L998.8 892L999.1 892L1000.1 892L1000.5 892L1001.5 892L1001.8 892L1002.9 892L1003.2 892L1004.2 892L1004.6 892L1005.6 892L1005.9 892L1007 892L1007.3 892L1008.3 892L1008.7 892L1009.7 892L1010 892L1011.1 892L1011.4 892L1012.4 892L1012.8 892L1013.8 892L1014.1 892L1015.2 892L1015.5 892L1016.5 892L1016.9 892L1017.9 892L1018.2 892L1019.3 892L1019.6 892L1020.6 892L1021 892L1022 892L1022.3 892L1023.4 892L1023.7 892L1024.9 892L1026.1 892L1026.4 892L1027.5 892L1027.8 892L1028.8 892L1029.2 892L1030.2 892L1030.5 892L1031.6 892L1031.9 892L1032.9 892L1033.3 892L1034.3 892L1034.6 892L1035.7 892L1036 892L1037 892L1037.4 892L1038.4 892L1038.7 892L1039.8 892L1040.1 892L1041.1 892L1041.5 892L1042.5 892L1042.8 892L1043.9 892L1044.2 892L1045.2 892L1045.6 892L1046.6 892L1046.9 892L1048 892L1048.3 892L1049.3 892L1049.7 892L1050.7 892L1051 892L1052.1 892L1052.4 892L1053.4 892L1053.8 892L1054.8 892L1055.1 892L1056.2 892L1056.5 892L1057.5 892L1057.9 892L1058.9 892L1059.2 892L1060.3 892L1060.6 892L1061.6 892L1062 892L1063 892L1063.3 892L1064.4 892L1064.7 892L1065.7 892L1066.1 891.9L1067.1 892L1067.4 891.9L1068.5 892L1068.8 891.9L1069.8 892L1070.2 891.9L1071.2 892L1071.5 891.9L1072.6 892L1072.9 891.9L1073.9 892.1L1074.3 891.9L1075.3 892.1L1075.6 891.9L1076.7 892.1L1077 891.9L1078 892.1L1078.4 891.9L1079.4 892.1L1079.7 891.9L1080.8 892.1L1081.1 891.9L1082.1 892.1L1082.5 891.9L1083.5 892.1L1083.8 891.9L1084.9 892.1L1085.2 891.9L1086.2 892.1L1086.6 891.9L1087.6 892.1L1087.9 891.9L1089 892.1L1089.3 891.9L1090.3 892.1L1090.7 891.9L1091.7 892.1L1092 891.9L1093.1 892.1L1093.4 891.9L1094.4 892.1L1094.8 891.9L1095.8 892.1L1096.1 891.9L1097.2 892.1L1097.5 891.9L1098.5 892.1L1098.9 891.9L1099.9 892.1L1100.2 891.9L1101.3 892.1L1101.6 891.9L1102.6 892.1L1103 891.9L1104 892.1L1104.3 891.9L1105.4 892.1L1105.7 891.9L1106.7 892.1L1107.1 891.9L1108.1 892.1L1108.4 891.9L1109.5 892.1L1109.8 891.9L1110.8 892.1L1111.2 891.9L1112.2 892.1L1112.5 891.9L1113.6 892.1L1113.9 891.9L1114.9 892.1L1115.3 891.9L1116.3 892.1L1116.6 891.9L1117.7 892.1L1118 891.9L1119 892.1L1119.4 891.9L1120.4 892.1L1120.7 891.9L1121.8 892.1L1122.1 891.9L1123.1 892.1L1123.5 891.9L1124.5 892.1L1124.8 891.9L1125.9 892.1L1126.2 891.9L1127.2 892.1L1127.6 891.9L1128.6 892.1L1128.9 891.9L1130 892.1L1130.3 891.9L1131.3 892.1L1131.7 891.9L1132.7 892.1L1133 891.9L1134.1 892.1L1134.4 891.9L1135.4 892.1L1135.8 891.9L1136.8 892.1L1137.1 891.9L1138.2 892.1L1138.5 891.9L1139.5 892.1L1139.9 891.9L1140.9 892.1L1141.2 891.9L1142.3 892.2L1142.6 891.9L1143.6 892.2L1144 891.9L1145 892.2L1145.3 891.9L1146.4 892.2L1146.7 891.9L1147.7 892.2L1148.1 891.9L1149.1 892.2L1149.4 891.9L1150.5 892.2L1150.8 891.9L1151.8 892.2L1152.2 891.9L1153.2 892.2L1153.5 891.9L1154.6 892.2L1154.9 891.9L1155.9 892.2L1156.3 891.9L1157.3 892.2L1157.6 891.9L1158.7 892.2L1159 891.9L1160 892.2L1160.4 891.9L1161.4 892.2L1161.7 891.9L1162.8 892.2L1163.1 891.9L1164.1 892.2L1164.5 891.9L1165.5 892.2L1165.8 891.9L1166.9 892.2L1167.2 891.9L1168.2 892.2L1168.6 891.9L1169.6 892.2L1169.9 891.9L1171 892.2L1171.3 891.9L1172.3 892.2L1172.7 891.9L1173.7 892.2L1174 891.9L1175.1 892.2L1175.4 891.9L1176.4 892.2L1176.8 891.9L1177.8 892.2L1178.1 891.9L1179.2 892.2L1179.5 891.9L1180.5 892.2L1180.9 891.9L1181.9 892.2L1182.2 891.9L1183.3 892.2L1183.6 891.9L1184.6 892.2L1185 891.9L1186 892.2L1186.3 891.9L1187.4 892.2L1187.7 891.9L1188.7 892.2L1189.1 891.9L1190.1 892.2L1190.4 891.9L1191.5 892.2L1191.8 891.9L1192.8 892.2L1193.2 891.9L1194.2 892.2L1194.5 891.9L1195.6 892.2L1195.9 891.9L1196.9 892.2L1197.3 891.9L1198.3 892.2L1198.6 891.9L1199.7 892.2L1200 891.9L1201 892.2L1201.4 891.9L1202.4 892.2L1202.7 891.8L1203.8 892.2L1204.1 891.8L1205.1 892.2L1205.5 891.8L1206.5 892.2L1206.8 891.8L1207.9 892.2L1208.2 891.8L1209.2 892.2L1209.6 891.8L1210.6 892.3L1210.9 891.8L1212 892.3L1212.3 891.8L1213.3 892.3L1213.7 891.8L1214.7 892.3L1215 891.8L1216.1 892.3L1216.4 891.8L1217.4 892.3L1217.8 891.8L1218.8 892.3L1219.1 891.8L1220.2 892.3L1220.5 891.8L1221.5 892.3L1221.9 891.8L1222.9 892.3L1223.2 891.8L1224.3 892.3L1224.6 891.8L1225.6 892.3L1226 891.8L1227 892.3L1227.3 891.8L1228.4 892.3L1228.7 891.8L1229.7 892.3L1230.1 891.8L1231.1 892.3L1231.4 891.8L1232.5 892.3L1232.8 891.8L1233.8 892.3L1234.2 891.8L1235.2 892.3L1235.5 891.8L1236.6 892.3L1236.9 891.8L1237.9 892.3L1238.3 891.8L1239.3 892.3L1239.6 891.8L1240.7 892.3L1241 891.8L1242 892.3L1242.4 891.8L1243.4 892.3L1243.7 891.8L1244.8 892.3L1245.1 891.8L1246.1 892.3L1246.5 891.8L1247.5 892.3L1247.8 891.8L1248.9 892.3L1249.2 891.8L1250.2 892.3L1250.6 891.8L1251.6 892.3L1251.9 891.8L1253 892.3L1253.3 891.8L1254.3 892.3L1254.7 891.8L1255.7 892.3L1256 891.8L1257.1 892.3L1257.4 891.8L1258.4 892.3L1258.8 891.8L1259.8 892.3L1260.1 891.8L1261.2 892.3L1261.5 891.8L1262.5 892.3L1262.9 891.8L1263.9 892.3L1264.2 891.8L1265.3 892.3L1265.6 891.8L1266.6 892.3L1267 891.8L1268 892.3L1268.3 891.8L1269.4 892.3L1269.7 891.8L1270.7 892.3L1271.1 891.8L1272.1 892.3L1272.4 891.8L1273.5 892.3L1273.8 891.8L1274.8 892.3L1275.2 891.8L1276.2 892.3L1276.5 891.8L1277.6 892.3L1277.9 891.8L1278.9 892.3L1279.3 891.8L1280.3 892.4L1280.6 891.8L1281.7 892.4L1282 891.8L1283 892.4L1283.4 891.8L1284.4 892.4L1284.7 891.8L1285.8 892.4L1286.1 891.8L1287.1 892.4L1287.5 891.8L1288.5 892.4L1288.8 891.8L1289.9 892.4L1290.2 891.8L1291.2 892.4L1291.6 891.8L1292.6 892.4L1292.9 891.8L1294 892.4L1294.3 891.8L1295.3 892.4L1295.7 891.8L1296.7 892.4L1297 891.8L1298.1 892.4L1298.4 891.8L1299.4 892.4L1299.8 891.8L1300.8 892.4L1301.1 891.8L1302.2 892.4L1302.5 891.8L1303.5 892.4L1303.9 891.8L1304.9 892.4L1305.2 891.8L1306.3 892.4L1306.6 891.8L1307.6 892.4L1308 891.8L1309 892.4L1309.3 891.8L1310.4 892.4L1310.7 891.8L1311.7 892.4L1312.1 891.8L1313.1 892.4L1313.4 891.8L1314.5 892.4L1314.8 891.8L1315.8 892.4L1316.2 891.8L1317.2 892.4L1317.5 891.8L1318.6 892.4L1318.9 891.8L1319.9 892.4L1320.3 891.8L1321.3 892.4L1321.6 891.8L1322.7 892.4L1323 891.8L1324 892.4L1324.4 891.8L1325.4 892.4L1325.7 891.8L1326.8 892.4L1327.1 891.8L1328.1 892.4L1328.5 891.8L1329.5 892.4L1329.8 891.8L1330.9 892.4L1331.2 891.8L1332.2 892.4L1332.6 891.8L1333.6 892.4L1333.9 891.8L1335 892.4L1335.3 891.8L1336.3 892.4L1336.7 891.8L1337.7 892.4L1338 891.8L1339.1 892.4L1339.4 891.8L1340.4 892.4L1340.8 891.7L1341.8 892.4L1342.1 891.7L1343.2 892.4L1343.5 891.7L1344.5 892.4L1344.9 891.7L1345.9 892.4L1346.2 891.7L1347.3 892.4L1347.6 891.7L1348.6 892.5L1349 891.7L1350 892.5L1350.3 891.7L1351.4 892.5L1351.7 891.7L1352.7 892.5L1353.1 891.7L1354.1 892.5L1354.4 891.7L1355.5 892.5L1355.8 891.7L1356.8 892.5L1357.2 891.7L1358.2 892.5L1358.5 891.7L1359.6 892.5L1359.9 891.7L1360.9 892.5L1361.3 891.7L1362.3 892.5L1362.6 891.7L1363.7 892.5L1364 891.7L1365 892.5L1365.4 891.7L1366.4 892.5L1366.7 891.7L1367.8 892.5L1368.1 891.7L1369.1 892.5L1369.5 891.7L1370.5 892.5L1370.8 891.7L1371.9 892.5L1372.2 891.7L1373.2 892.5L1373.6 891.7L1374.6 892.5L1374.9 891.7L1376 892.5L1376.3 891.7L1377.3 892.5L1377.7 891.7L1378.7 892.5L1379 891.7L1380.1 892.5L1380.4 891.7L1381.4 892.5L1381.8 891.7L1382.8 892.5L1383.1 891.7L1384.2 892.5L1384.5 891.7L1385.5 892.5L1385.9 891.7L1386.9 892.5L1387.2 891.7L1388.3 892.5L1388.6 891.7L1389.6 892.5L1390 891.7L1391 892.5L1391.3 891.7L1392.4 892.5L1392.7 891.7L1393.7 892.5L1394.1 891.7L1395.1 892.5L1395.4 891.7L1396.5 892.5L1396.8 891.7L1397.8 892.5L1398.2 891.7L1399.2 892.5L1399.5 891.7L1400.6 892.5L1400.9 891.7L1401.9 892.5L1402.3 891.7L1403.3 892.5L1403.6 891.7L1404.7 892.5L1405 891.7L1406 892.5L1406.4 891.7L1407.4 892.5L1407.7 891.7L1408.8 892.5L1409.1 891.7L1410.1 892.5L1410.5 891.7L1411.5 892.5L1411.8 891.7L1412.9 892.5L1413.2 891.7L1414.2 892.5L1414.6 891.7L1415.6 892.5L1415.9 891.7L1417 892.6L1417.3 891.7L1418.3 892.6L1418.7 891.7L1419.7 892.6L1420 891.7L1421.1 892.6L1421.4 891.7L1422.4 892.6L1422.8 891.7L1423.8 892.6L1424.1 891.7L1425.2 892.6L1425.5 891.7L1426.5 892.6L1426.9 891.7L1427.9 892.6L1428.2 891.7L1429.3 892.6L1429.6 891.7L1430.6 892.6L1431 891.7L1432 892.6L1432.3 891.7L1433.4 892.6L1433.7 891.7L1434.7 892.6L1435.1 891.7L1436.1 892.6L1436.4 891.7L1437.5 892.6L1437.8 891.7L1438.8 892.6L1439.2 891.7L1440.2 892.6L1440.5 891.7L1441.6 892.6L1441.9 891.7L1442.9 892.6L1443.3 891.7L1444.3 892.6L1444.6 891.7L1445.7 892.6L1446 891.7L1447 892.6L1447.4 891.7L1448.4 892.6L1448.7 891.7L1449.8 892.6L1450.1 891.7L1451.1 892.6L1451.5 891.7L1452.5 892.6L1452.8 891.7L1453.9 892.6L1454.2 891.7L1455.2 892.6L1455.6 891.7L1456.6 892.6L1456.9 891.7L1458 892.6L1458.3 891.7L1459.3 892.6L1459.7 891.7L1460.7 892.6L1461 891.7L1462.1 892.6L1462.4 891.7L1463.4 892.6L1463.8 891.7L1464.8 892.6L1465.1 891.7L1466.2 892.6L1466.5 891.7L1467.5 892.6L1467.9 891.7L1468.9 892.6L1469.2 891.7L1470.3 892.6L1470.6 891.7L1471.6 892.6L1472 891.7L1473 892.6L1473.3 891.7L1474.4 892.6L1474.7 891.7L1475.7 892.6L1476.1 891.7L1477.1 892.6L1477.4 891.6L1478.5 892.6L1478.8 891.6L1479.8 892.6L1480.2 891.6L1481.2 892.6L1481.5 891.6L1482.6 892.6L1482.9 891.6L1483.9 892.6L1484.3 891.6L1485.3 892.7L1485.6 891.6L1486.7 892.7L1487 891.6L1488 892.7L1488.4 891.6L1489.4 892.7L1489.7 891.6L1490.8 892.7L1491.1 891.6L1492.1 892.7L1492.5 891.6L1493.5 892.7L1493.8 891.6L1494.9 892.7L1495.2 891.6L1496.2 892.7L1496.6 891.6L1497.6 892.7L1497.9 891.6L1499 892.7L1499.3 891.6L1500.3 892.7L1500.7 891.6L1501.7 892.7L1502 891.6L1503.1 892.7L1503.4 891.6L1504.4 892.7L1504.8 891.6L1505.8 892.7L1506.1 891.6L1507.2 892.7L1507.5 891.6L1508.5 892.7L1508.9 891.6L1509.9 892.7L1510.2 891.6L1511.3 892.7L1511.6 891.6L1512.6 892.7L1513 891.6L1514 892.7L1514.3 891.6L1515.4 892.7L1515.7 891.6L1516.7 892.7L1517.1 891.6L1518.1 892.7L1518.4 891.6L1519.5 892.7L1519.8 891.6L1520.8 892.7L1521.2 891.6L1522.2 892.7L1522.5 891.6L1523.6 892.7L1523.9 891.6L1524.9 892.7L1525.3 891.6L1526.3 892.7L1526.6 891.6L1527.7 892.7L1528 891.6L1529 892.7L1529.4 891.6L1530.4 892.7L1530.7 891.6L1531.8 892.7L1532.1 891.6L1533.1 892.7L1533.5 891.6L1534.5 892.7L1534.8 891.6L1535.9 892.7L1536.2 891.6L1537.2 892.7L1537.6 891.6L1538.6 892.7L1538.9 891.6L1540 892.7L1540.3 891.6L1541.3 892.7L1541.7 891.6L1542.7 892.7L1543 891.6L1544.1 892.7L1544.4 891.6L1545.4 892.7L1545.8 891.6L1546.8 892.7L1547.1 891.6L1548.2 892.7L1548.5 891.6L1549.5 892.7L1549.9 891.6L1550.9 892.7L1551.2 891.6L1552.3 892.7L1552.6 891.6L1553.6 892.8L1554 891.6L1555 892.8L1555.3 891.6L1556.4 892.8L1556.7 891.6L1557.7 892.8L1558.1 891.6L1559.1 892.8L1559.4 891.6L1560.5 892.8L1560.8 891.6L1561.8 892.8L1562.2 891.6L1563.2 892.8L1563.5 891.6L1564.6 892.8L1564.9 891.6L1565.9 892.8L1566.3 891.6L1567.3 892.8L1567.6 891.6L1568.7 892.8L1569 891.6L1570 892.8L1570.4 891.6L1571.4 892.8L1571.7 891.6L1572.8 892.8L1573.1 891.6L1574.1 892.8L1574.5 891.6L1575.5 892.8L1575.8 891.6L1576.9 892.8L1577.2 891.6L1578.2 892.8L1578.6 891.6L1579.6 892.8L1579.9 891.6L1581 892.8L1581.3 891.6L1582.3 892.8L1582.7 891.6L1583.7 892.8L1584 891.6L1585.1 892.8L1585.4 891.6L1586.4 892.8L1586.8 891.6L1587.8 892.8L1588.1 891.6L1589.2 892.8L1589.5 891.6L1590.5 892.8L1590.9 891.6L1591.9 892.8L1592.2 891.6L1593.3 892.8L1593.6 891.6L1594.6 892.8L1595 891.6L1596 892.8L1596.3 891.6L1597.4 892.8L1597.7 891.6L1598.7 892.8L1599.1 891.6L1600.1 892.8L1600.4 891.6L1601.5 892.8L1601.8 891.6L1602.8 892.8L1603.2 891.6L1604.2 892.8L1604.5 891.6L1605.6 892.8L1605.9 891.6L1606.9 892.8L1607.3 891.6L1608.3 892.8L1608.6 891.6L1609.7 892.8L1610 891.6L1611 892.8L1611.4 891.6L1612.4 892.8L1612.7 891.6L1613.8 892.8L1614.1 891.6L1615.1 892.8L1615.5 891.5L1616.5 892.8L1616.8 891.5L1617.9 892.8L1618.2 891.5L1619.2 892.8L1619.6 891.5L1620.6 892.8L1620.9 891.5L1622 892.8L1622.3 891.5L1623.3 892.9L1623.7 891.5L1624.7 892.9L1625 891.5L1626.1 892.9L1626.4 891.5L1627.4 892.9L1627.8 891.5L1628.8 892.9L1629.1 891.5L1630.2 892.9L1630.5 891.5L1631.5 892.9L1631.9 891.5L1632.9 892.9L1633.2 891.5L1634.3 892.9L1634.6 891.5L1635.6 892.9L1636 891.5L1637 892.9L1637.3 891.5L1638.4 892.9L1638.7 891.5L1639.7 892.9L1640.1 891.5L1641.1 892.9L1641.4 891.5L1642.5 892.9L1642.8 891.5L1643.8 892.9L1644.2 891.5L1645.2 892.9L1645.5 891.5L1646.6 892.9L1646.9 891.5L1647.9 892.9L1648.3 891.5L1649.3 892.9L1649.6 891.5L1650.7 892.9L1651 891.5L1652 892.9L1652.4 891.5L1653.4 892.9L1653.7 891.5L1654.8 892.9L1655.1 891.5L1656.1 892.9L1656.5 891.5L1657.5 892.9L1657.8 891.5L1658.9 892.9L1659.2 891.5L1660.2 892.9L1660.6 891.5L1661.6 892.9L1661.9 891.5L1663 892.9L1663.3 891.5L1664.3 892.9L1664.7 891.5L1665.7 892.9L1666 891.5L1667.1 892.9L1667.4 891.5L1668.4 892.9L1668.8 891.5L1669.8 892.9L1670.1 891.5L1671.2 892.9L1671.5 891.5L1672.5 892.9L1672.9 891.5L1673.9 892.9L1674.2 891.5L1675.3 892.9L1675.6 891.5L1676.6 892.9L1677 891.5L1678 892.9L1678.3 891.5L1679.4 892.9L1679.7 891.5L1680.7 892.9L1681.1 891.5L1682.1 892.9L1682.4 891.5L1683.5 892.9L1683.8 891.5L1684.8 892.9L1685.2 891.5L1686.2 892.9L1686.5 891.5L1687.6 892.9L1687.9 891.5L1688.9 892.9L1689.3 891.5L1690.3 892.9L1690.6 891.5L1691.7 893L1692 891.5L1693 893L1693.4 891.5L1694.4 893L1694.7 891.5L1695.8 893L1696.1 891.5L1697.1 893L1697.5 891.5L1698.5 893L1698.8 891.5L1699.9 893L1700.2 891.5L1701.2 893L1701.6 891.5L1702.6 893L1702.9 891.5L1704 893L1704.3 891.5L1705.3 893L1705.7 891.5L1706.7 893L1707 891.5L1708.1 893L1708.4 891.5L1709.4 893L1709.8 891.5L1710.8 893L1711.1 891.5L1712.2 893L1712.5 891.5L1713.5 893L1713.9 891.5L1714.9 893L1715.2 891.5L1716.3 893L1716.6 891.5L1717.6 893L1718 891.5L1719 893L1719.3 891.5L1720.4 893L1720.7 891.5L1721.7 893L1722.1 891.5L1723.1 893L1723.4 891.5L1724.5 893"/>
<clipPath id="ic"><rect x="709" y="324.8" width="630.8" height="216"/></clipPath>
<rect x="705.3" y="321" width="638.6" height="223.7" fill="#fff"/>
<g clip-path="url(#ic)">
<path class="s" stroke="#ff7832" d="M706.3 470.2Q746.1 -481.5 785.9 -1195.8L786.1 231.8Q825.9 -482 865.7 -958.3L865.9 -6.6Q905.7 -482.4 945.5 -720.8L945.7 -245Q985.6 -483.1 1025.4 -483.4Q1065.3 -483.1 1105.1 -245L1105.3 -720.8Q1145.1 -482.4 1184.9 -6.6L1185.1 -958.3Q1224.9 -482 1264.7 231.8L1264.9 -1195.8Q1304.7 -481.5 1344.5 470.2"/>
<path class="s" stroke="#ffd732" d="M706.3 529.8Q726.2 54.9 746 -360.9L746.2 470.2Q766.1 54.7 785.9 -301.8L786.1 410.6Q806 54.4 825.8 -242.6L826 351Q845.9 54.2 865.7 -183.5L865.9 291.4Q885.8 54 905.6 -124.4L905.8 231.8Q925.7 53.7 945.5 -65.2L945.7 172.2Q965.6 53.5 985.4 -6.1L985.6 112.6Q1005.5 53.1 1025.4 53Q1045.3 53.1 1065.2 112.6L1065.4 -6.1Q1085.3 53.5 1105.1 172.2L1105.3 -65.2Q1125.2 53.7 1145 231.8L1145.2 -124.4Q1165.1 54 1184.9 291.4L1185.1 -183.5Q1205 54.2 1224.8 351L1225 -242.6Q1244.9 54.4 1264.7 410.6L1264.9 -301.8Q1284.8 54.7 1304.6 470.2L1304.8 -360.9Q1324.7 54.9 1344.5 529.8"/>
<path class="s" stroke="#b955b9" d="M706.3 544.7Q716.2 308.2 726.1 86.3L726.2 529.8Q736.1 308.1 746 101L746.2 514.9Q756.1 308 766 115.7L766.1 500Q776 307.8 785.9 130.3L786.1 485.1Q796 307.7 805.9 145L806 470.2Q815.9 307.6 825.8 159.7L826 455.3Q835.9 307.5 845.8 174.3L845.9 440.4Q855.8 307.4 865.7 189L865.9 425.5Q875.8 307.3 885.7 203.7L885.8 410.6Q895.7 307.1 905.6 218.3L905.8 395.7Q915.7 307 925.6 233L925.8 380.8Q935.6 306.9 945.5 247.7L945.7 365.9Q955.6 306.8 965.5 262.3L965.6 351Q975.5 306.7 985.4 277M1065.4 277Q1075.3 306.7 1085.2 351L1085.3 262.3Q1095.2 306.8 1105.1 365.9L1105.3 247.7Q1115.2 306.9 1125.1 380.8L1125.2 233Q1135.1 307 1145 395.7L1145.2 218.3Q1155.1 307.1 1165 410.6L1165.1 203.7Q1175 307.3 1184.9 425.5L1185.1 189Q1195 307.4 1204.9 440.4L1205 174.3Q1214.9 307.5 1224.8 455.3L1225 159.7Q1234.9 307.6 1244.8 470.2L1244.9 145Q1254.8 307.7 1264.7 485.1L1264.9 130.3Q1274.8 307.8 1284.7 500L1284.8 115.7Q1294.7 308 1304.6 514.9L1304.8 101Q1314.7 308.1 1324.6 529.8L1324.8 86.3Q1334.6 308.2 1344.5 544.7"/>
<path class="s" stroke="#82d746" d="M706.3 548.5Q711.2 431.1 716.1 317.4L716.3 544.7Q721.2 431.1 726.1 321L726.2 541Q731.2 431 736.1 324.6L736.2 537.3Q741.1 430.9 746 328.2L746.2 533.6Q751.1 430.9 756 331.8L756.2 529.8Q761.1 430.8 766 335.4L766.1 526.1Q771.1 430.8 776 339L776.1 522.4Q781 430.7 785.9 342.7L786.1 518.7Q791 430.7 795.9 346.3L796.1 514.9Q801 430.6 805.9 349.9L806 511.2Q811 430.5 815.9 353.5L816 507.5Q820.9 430.5 825.8 357.1L826 503.8Q830.9 430.4 835.8 360.7L836 500Q840.9 430.4 845.8 364.3L845.9 496.3Q850.9 430.3 855.8 367.9L855.9 492.6Q860.8 430.2 865.7 371.5L865.9 488.9Q870.8 430.2 875.7 375.1L875.9 485.1Q880.8 430.1 885.7 378.7L885.8 481.4Q890.8 430.1 895.7 382.3L895.8 477.7Q900.7 430 905.6 386L905.8 474Q910.7 430 915.6 389.6L915.8 470.2Q920.7 429.9 925.6 393.2L925.8 466.5Q930.7 429.8 935.6 396.8L935.7 462.8Q940.6 429.8 945.5 400.4L945.7 459.1Q950.6 429.7 955.5 404L955.7 455.3Q960.6 429.7 965.5 407.6L965.6 451.6Q970.6 429.6 975.5 411.2L975.6 447.9Q980.5 429.5 985.4 414.8L985.6 444.2Q990.5 429.5 995.4 418.4L995.6 440.4Q1000.5 429.4 1005.4 422L1005.5 436.7Q1010.5 429.4 1015.4 425.7L1015.5 433Q1020.5 429.3 1025.4 429.3Q1030.4 429.3 1035.3 433L1035.5 425.7Q1040.4 429.4 1045.3 436.7L1045.4 422Q1050.4 429.4 1055.3 440.4L1055.4 418.4Q1060.3 429.5 1065.2 444.2L1065.4 414.8Q1070.3 429.5 1075.2 447.9L1075.4 411.2Q1080.3 429.6 1085.2 451.6L1085.3 407.6Q1090.3 429.7 1095.2 455.3L1095.3 404Q1100.2 429.7 1105.1 459.1L1105.3 400.4Q1110.2 429.8 1115.1 462.8L1115.3 396.8Q1120.2 429.8 1125.1 466.5L1125.2 393.2Q1130.2 429.9 1135.1 470.2L1135.2 389.6Q1140.1 430 1145 474L1145.2 386Q1150.1 430 1155 477.7L1155.2 382.3Q1160.1 430.1 1165 481.4L1165.1 378.7Q1170.1 430.1 1175 485.1L1175.1 375.1Q1180 430.2 1184.9 488.9L1185.1 371.5Q1190 430.2 1194.9 492.6L1195.1 367.9Q1200 430.3 1204.9 496.3L1205 364.3Q1210 430.4 1214.9 500L1215 360.7Q1219.9 430.4 1224.8 503.8L1225 357.1Q1229.9 430.5 1234.8 507.5L1235 353.5Q1239.9 430.5 1244.8 511.2L1244.9 349.9Q1249.9 430.6 1254.8 514.9L1254.9 346.3Q1259.8 430.7 1264.7 518.7L1264.9 342.7Q1269.8 430.7 1274.7 522.4L1274.9 339Q1279.8 430.8 1284.7 526.1L1284.8 335.4Q1289.8 430.8 1294.7 529.8L1294.8 331.8Q1299.7 430.9 1304.6 533.6L1304.8 328.2Q1309.7 430.9 1314.6 537.3L1314.8 324.6Q1319.7 431 1324.6 541L1324.8 321Q1329.7 431.1 1334.6 544.7L1334.7 317.4Q1339.6 431.1 1344.5 548.5"/>
<path class="s" stroke="#00e6ff" d="M706.3 549.4L711.1 434.8L711.3 548.5L716.1 435.7L716.3 547.5L721.1 436.5L721.3 546.6L726.1 437.4L726.2 545.7L731.1 438.3L731.2 544.7L736.1 439.2L736.2 543.8L741.1 440L741.2 542.9L746 440.9L746.2 541.9L751 441.8L751.2 541L756 442.6L756.2 540.1L761 443.5L761.2 539.1L766 444.4L766.1 538.2L771 445.3L771.1 537.3L776 446.1L776.1 536.4L781 447L781.1 535.4L785.9 447.9L786.1 534.5L790.9 448.8L791.1 533.6L795.9 449.6L796.1 532.6L800.9 450.5L801.1 531.7L805.9 451.4L806 530.8L810.9 452.2L811 529.8L815.9 453.1L816 528.9L820.9 454L821 528L825.8 454.9L826 527L830.8 455.7L831 526.1L835.8 456.6L836 525.2L840.8 457.5L841 524.2L845.8 458.4L845.9 523.3L850.8 459.2L850.9 522.4L855.8 460.1L855.9 521.5L860.8 461L860.9 520.5L865.7 461.9L865.9 519.6L870.7 462.7L870.9 518.7L875.7 463.6L875.9 517.7L880.7 464.5L880.9 516.8L885.7 465.3L885.8 515.9L890.7 466.2L890.8 514.9L895.7 467.1L895.8 514L900.7 468L900.8 513.1L905.6 468.8L905.8 512.1L910.6 469.7L910.8 511.2L915.6 470.6L915.8 510.3L920.6 471.5L920.8 509.3L925.6 472.3L925.8 508.4L930.6 473.2L930.7 507.5L935.6 474.1L935.7 506.6L940.6 474.9L940.7 505.6L945.5 475.8L945.7 504.7L950.5 476.7L950.7 503.8L955.5 477.6L955.7 502.8L960.5 478.4L960.7 501.9L965.5 479.3L965.6 501L970.5 480.2L970.6 500L975.5 481.1L975.6 499.1L980.5 481.9L980.6 498.2L985.4 482.8L985.6 497.2L990.4 483.7L990.6 496.3L995.4 484.6L995.6 495.4L1000.4 485.4L1000.6 494.4L1005.4 486.3L1005.5 493.5L1010.4 487.2L1010.5 492.6L1015.4 488L1015.5 491.7L1020.4 488.9L1020.5 490.7L1025.4 489.8L1030.3 490.7L1030.5 488.9L1035.3 491.7L1035.5 488L1040.3 492.6L1040.5 487.2L1045.3 493.5L1045.4 486.3L1050.3 494.4L1050.4 485.4L1055.3 495.4L1055.4 484.6L1060.3 496.3L1060.4 483.7L1065.2 497.2L1065.4 482.8L1070.2 498.2L1070.4 481.9L1075.2 499.1L1075.4 481.1L1080.2 500L1080.4 480.2L1085.2 501L1085.3 479.3L1090.2 501.9L1090.3 478.4L1095.2 502.8L1095.3 477.6L1100.2 503.8L1100.3 476.7L1105.1 504.7L1105.3 475.8L1110.1 505.6L1110.3 474.9L1115.1 506.6L1115.3 474.1L1120.1 507.5L1120.3 473.2L1125.1 508.4L1125.2 472.3L1130.1 509.3L1130.2 471.5L1135.1 510.3L1135.2 470.6L1140.1 511.2L1140.2 469.7L1145 512.1L1145.2 468.8L1150 513.1L1150.2 468L1155 514L1155.2 467.1L1160 514.9L1160.2 466.2L1165 515.9L1165.1 465.3L1170 516.8L1170.1 464.5L1175 517.7L1175.1 463.6L1180 518.7L1180.1 462.7L1184.9 519.6L1185.1 461.9L1189.9 520.5L1190.1 461L1194.9 521.5L1195.1 460.1L1199.9 522.4L1200.1 459.2L1204.9 523.3L1205 458.4L1209.9 524.2L1210 457.5L1214.9 525.2L1215 456.6L1219.9 526.1L1220 455.7L1224.8 527L1225 454.9L1229.8 528L1230 454L1234.8 528.9L1235 453.1L1239.8 529.8L1240 452.2L1244.8 530.8L1244.9 451.4L1249.8 531.7L1249.9 450.5L1254.8 532.6L1254.9 449.6L1259.8 533.6L1259.9 448.8L1264.7 534.5L1264.9 447.9L1269.7 535.4L1269.9 447L1274.7 536.4L1274.9 446.1L1279.7 537.3L1279.9 445.3L1284.7 538.2L1284.8 444.4L1289.7 539.1L1289.8 443.5L1294.7 540.1L1294.8 442.6L1299.7 541L1299.8 441.8L1304.6 541.9L1304.8 440.9L1309.6 542.9L1309.8 440L1314.6 543.8L1314.8 439.2L1319.6 544.7L1319.8 438.3L1324.6 545.7L1324.8 437.4L1329.6 546.6L1329.7 436.5L1334.6 547.5L1334.7 435.7L1339.6 548.5L1339.7 434.8L1344.5 549.4"/>
<path class="s" stroke="#e63755" d="M706.3 549.6L708.6 494L708.8 549.4L711.1 494.2L711.3 549.2L713.6 494.4L713.8 548.9L716.1 494.6L716.3 548.7L718.6 494.8L718.8 548.5L721.1 495L721.3 548.2L723.6 495.2L723.8 548L726.1 495.4L726.2 547.8L728.6 495.6L728.7 547.5L731.1 495.8L731.2 547.3L733.6 496L733.7 547.1L736.1 496.2L736.2 546.8L738.6 496.4L738.7 546.6L741.1 496.6L741.2 546.4L743.6 496.8L743.7 546.1L746 497L746.2 545.9L748.5 497.2L748.7 545.7L751 497.4L751.2 545.4L753.5 497.6L753.7 545.2L756 497.8L756.2 545L758.5 498L758.7 544.7L761 498.2L761.2 544.5L763.5 498.4L763.7 544.3L766 498.6L766.1 544L768.5 498.8L768.6 543.8L771 499L771.1 543.6L773.5 499.2L773.6 543.3L776 499.5L776.1 543.1L778.5 499.7L778.6 542.9L781 499.9L781.1 542.6L783.5 500.1L783.6 542.4L785.9 500.3L786.1 542.2L788.4 500.5L788.6 541.9L790.9 500.7L791.1 541.7L793.4 500.9L793.6 541.5L795.9 501.1L796.1 541.2L798.4 501.3L798.6 541L800.9 501.5L801.1 540.8L803.4 501.7L803.6 540.5L805.9 501.9L806 540.3L808.4 502.1L808.5 540.1L810.9 502.3L811 539.8L813.4 502.5L813.5 539.6L815.9 502.7L816 539.4L818.4 502.9L818.5 539.1L820.9 503.1L821 538.9L823.4 503.3L823.5 538.7L825.8 503.5L826 538.4L828.3 503.7L828.5 538.2L830.8 503.9L831 538L833.3 504.1L833.5 537.7L835.8 504.3L836 537.5L838.3 504.5L838.5 537.3L840.8 504.7L841 537.1L843.3 505L843.5 536.8L845.8 505.2L845.9 536.6L848.3 505.4L848.4 536.4L850.8 505.6L850.9 536.1L853.3 505.8L853.4 535.9L855.8 506L855.9 535.7L858.3 506.2L858.4 535.4L860.8 506.4L860.9 535.2L863.3 506.6L863.4 535L865.7 506.8L865.9 534.7L868.2 507L868.4 534.5L870.7 507.2L870.9 534.3L873.2 507.4L873.4 534L875.7 507.6L875.9 533.8L878.2 507.8L878.4 533.6L880.7 508L880.9 533.3L883.2 508.2L883.4 533.1L885.7 508.4L885.8 532.9L888.2 508.6L888.3 532.6L890.7 508.8L890.8 532.4L893.2 509L893.3 532.2L895.7 509.2L895.8 531.9L898.2 509.4L898.3 531.7L900.7 509.6L900.8 531.5L903.2 509.8L903.3 531.2L905.6 510L905.8 531L908.1 510.2L908.3 530.8L910.6 510.5L910.8 530.5L913.1 510.7L913.3 530.3L915.6 510.9L915.8 530.1L918.1 511.1L918.3 529.8L920.6 511.3L920.8 529.6L923.1 511.5L923.3 529.4L925.6 511.7L925.8 529.1L928.1 511.9L928.2 528.9L930.6 512.1L930.7 528.7L933.1 512.3L933.2 528.4L935.6 512.5L935.7 528.2L938.1 512.7L938.2 528L940.6 512.9L940.7 527.7L943.1 513.1L943.2 527.5L945.5 513.3L945.7 527.3L948 513.5L948.2 527L950.5 513.7L950.7 526.8L953 513.9L953.2 526.6L955.5 514.1L955.7 526.3L958 514.3L958.2 526.1L960.5 514.5L960.7 525.9L963 514.7L963.2 525.6L965.5 514.9L965.6 525.4L968 515.1L968.1 525.2L970.5 515.3L970.6 524.9L973 515.5L973.1 524.7L975.5 515.7L975.6 524.5L978 516L978.1 524.2L980.5 516.2L980.6 524L983 516.4L983.1 523.8L985.4 516.6L985.6 523.5L987.9 516.8L988.1 523.3L990.4 517L990.6 523.1L992.9 517.2L993.1 522.8L995.4 517.4L995.6 522.6L997.9 517.6L998.1 522.4L1000.4 517.8L1000.6 522.2L1002.9 518L1003.1 521.9L1005.4 518.2L1005.5 521.7L1007.9 518.4L1008 521.5L1010.4 518.6L1010.5 521.2L1012.9 518.8L1013 521L1015.4 519L1015.5 520.8L1017.9 519.2L1018 520.5L1020.4 519.4L1020.5 520.3L1022.9 519.6L1023 520.1L1025.4 519.8L1027.8 520.1L1028 519.6L1030.3 520.3L1030.5 519.4L1032.8 520.5L1033 519.2L1035.3 520.8L1035.5 519L1037.8 521L1038 518.8L1040.3 521.2L1040.5 518.6L1042.8 521.5L1043 518.4L1045.3 521.7L1045.4 518.2L1047.8 521.9L1047.9 518L1050.3 522.2L1050.4 517.8L1052.8 522.4L1052.9 517.6L1055.3 522.6L1055.4 517.4L1057.8 522.8L1057.9 517.2L1060.3 523.1L1060.4 517L1062.8 523.3L1062.9 516.8L1065.2 523.5L1065.4 516.6L1067.7 523.8L1067.9 516.4L1070.2 524L1070.4 516.2L1072.7 524.2L1072.9 516L1075.2 524.5L1075.4 515.7L1077.7 524.7L1077.9 515.5L1080.2 524.9L1080.4 515.3L1082.7 525.2L1082.9 515.1L1085.2 525.4L1085.3 514.9L1087.7 525.6L1087.8 514.7L1090.2 525.9L1090.3 514.5L1092.7 526.1L1092.8 514.3L1095.2 526.3L1095.3 514.1L1097.7 526.6L1097.8 513.9L1100.2 526.8L1100.3 513.7L1102.7 527L1102.8 513.5L1105.1 527.3L1105.3 513.3L1107.6 527.5L1107.8 513.1L1110.1 527.7L1110.3 512.9L1112.6 528L1112.8 512.7L1115.1 528.2L1115.3 512.5L1117.6 528.4L1117.8 512.3L1120.1 528.7L1120.3 512.1L1122.6 528.9L1122.8 511.9L1125.1 529.1L1125.2 511.7L1127.6 529.4L1127.7 511.5L1130.1 529.6L1130.2 511.3L1132.6 529.8L1132.7 511.1L1135.1 530.1L1135.2 510.9L1137.6 530.3L1137.7 510.7L1140.1 530.5L1140.2 510.5L1142.6 530.8L1142.7 510.2L1145 531L1145.2 510L1147.5 531.2L1147.7 509.8L1150 531.5L1150.2 509.6L1152.5 531.7L1152.7 509.4L1155 531.9L1155.2 509.2L1157.5 532.2L1157.7 509L1160 532.4L1160.2 508.8L1162.5 532.6L1162.7 508.6L1165 532.9L1165.1 508.4L1167.5 533.1L1167.6 508.2L1170 533.3L1170.1 508L1172.5 533.6L1172.6 507.8L1175 533.8L1175.1 507.6L1177.5 534L1177.6 507.4L1180 534.3L1180.1 507.2L1182.5 534.5L1182.6 507L1184.9 534.7L1185.1 506.8L1187.4 535L1187.6 506.6L1189.9 535.2L1190.1 506.4L1192.4 535.4L1192.6 506.2L1194.9 535.7L1195.1 506L1197.4 535.9L1197.6 505.8L1199.9 536.1L1200.1 505.6L1202.4 536.4L1202.6 505.4L1204.9 536.6L1205 505.2L1207.4 536.8L1207.5 505L1209.9 537.1L1210 504.7L1212.4 537.3L1212.5 504.5L1214.9 537.5L1215 504.3L1217.4 537.7L1217.5 504.1L1219.9 538L1220 503.9L1222.4 538.2L1222.5 503.7L1224.8 538.4L1225 503.5L1227.3 538.7L1227.5 503.3L1229.8 538.9L1230 503.1L1232.3 539.1L1232.5 502.9L1234.8 539.4L1235 502.7L1237.3 539.6L1237.5 502.5L1239.8 539.8L1240 502.3L1242.3 540.1L1242.5 502.1L1244.8 540.3L1244.9 501.9L1247.3 540.5L1247.4 501.7L1249.8 540.8L1249.9 501.5L1252.3 541L1252.4 501.3L1254.8 541.2L1254.9 501.1L1257.3 541.5L1257.4 500.9L1259.8 541.7L1259.9 500.7L1262.3 541.9L1262.4 500.5L1264.7 542.2L1264.9 500.3L1267.2 542.4L1267.4 500.1L1269.7 542.6L1269.9 499.9L1272.2 542.9L1272.4 499.7L1274.7 543.1L1274.9 499.5L1277.2 543.3L1277.4 499.2L1279.7 543.6L1279.9 499L1282.2 543.8L1282.4 498.8L1284.7 544L1284.8 498.6L1287.2 544.3L1287.3 498.4L1289.7 544.5L1289.8 498.2L1292.2 544.7L1292.3 498L1294.7 545L1294.8 497.8L1297.2 545.2L1297.3 497.6L1299.7 545.4L1299.8 497.4L1302.2 545.7L1302.3 497.2L1304.6 545.9L1304.8 497L1307.1 546.1L1307.3 496.8L1309.6 546.4L1309.8 496.6L1312.1 546.6L1312.3 496.4L1314.6 546.8L1314.8 496.2L1317.1 547.1L1317.3 496L1319.6 547.3L1319.8 495.8L1322.1 547.5L1322.3 495.6L1324.6 547.8L1324.8 495.4L1327.1 548L1327.2 495.2L1329.6 548.2L1329.7 495L1332.1 548.5L1332.2 494.8L1334.6 548.7L1334.7 494.6L1337.1 548.9L1337.2 494.4L1339.6 549.2L1339.7 494.2L1342.1 549.4L1342.2 494L1344.5 549.6"/>
<path class="s" stroke="#0096e6" d="M706.3 549.7L707.4 523.7L707.5 549.6L708.6 523.7L708.8 549.6L709.9 523.7L710 549.5L711.1 523.8L711.3 549.4L712.4 523.8L712.5 549.4L713.6 523.9L713.8 549.3L714.9 523.9L715 549.3L716.1 524L716.3 549.2L717.4 524L717.5 549.2L718.6 524L718.8 549.1L719.9 524.1L720 549L721.1 524.1L721.3 549L722.4 524.2L722.5 548.9L723.6 524.2L723.8 548.9L724.8 524.3L725 548.8L726.1 524.3L726.2 548.7L727.3 524.3L727.5 548.7L728.6 524.4L728.7 548.6L729.8 524.4L730 548.6L731.1 524.5L731.2 548.5L732.3 524.5L732.5 548.5L733.6 524.6L733.7 548.4L734.8 524.6L735 548.3L736.1 524.7L736.2 548.3L737.3 524.7L737.5 548.2L738.6 524.7L738.7 548.2L739.8 524.8L740 548.1L741.1 524.8L741.2 548.1L742.3 524.9L742.5 548L743.6 524.9L743.7 547.9L744.8 525L745 547.9L746 525L746.2 547.8L747.3 525L747.4 547.8L748.5 525.1L748.7 547.7L749.8 525.1L749.9 547.6L751 525.2L751.2 547.6L752.3 525.2L752.4 547.5L753.5 525.3L753.7 547.5L754.8 525.3L754.9 547.4L756 525.4L756.2 547.4L757.3 525.4L757.4 547.3L758.5 525.4L758.7 547.2L759.8 525.5L759.9 547.2L761 525.5L761.2 547.1L762.3 525.6L762.4 547.1L763.5 525.6L763.7 547L764.7 525.7L764.9 546.9L766 525.7L766.1 546.9L767.2 525.7L767.4 546.8L768.5 525.8L768.6 546.8L769.7 525.8L769.9 546.7L771 525.9L771.1 546.7L772.2 525.9L772.4 546.6L773.5 526L773.6 546.5L774.7 526L774.9 546.5L776 526.1L776.1 546.4L777.2 526.1L777.4 546.4L778.5 526.1L778.6 546.3L779.7 526.2L779.9 546.2L781 526.2L781.1 546.2L782.2 526.3L782.4 546.1L783.5 526.3L783.6 546.1L784.7 526.4L784.9 546L785.9 526.4L786.1 546L787.2 526.4L787.3 545.9L788.4 526.5L788.6 545.8L789.7 526.5L789.8 545.8L790.9 526.6L791.1 545.7L792.2 526.6L792.3 545.7L793.4 526.7L793.6 545.6L794.7 526.7L794.8 545.5L795.9 526.7L796.1 545.5L797.2 526.8L797.3 545.4L798.4 526.8L798.6 545.4L799.7 526.9L799.8 545.3L800.9 526.9L801.1 545.3L802.2 527L802.3 545.2L803.4 527L803.6 545.1L804.6 527.1L804.8 545.1L805.9 527.1L806 545L807.1 527.1L807.3 545L808.4 527.2L808.5 544.9L809.6 527.2L809.8 544.8L810.9 527.3L811 544.8L812.1 527.3L812.3 544.7L813.4 527.4L813.5 544.7L814.6 527.4L814.8 544.6L815.9 527.4L816 544.6L817.1 527.5L817.3 544.5L818.4 527.5L818.5 544.4L819.6 527.6L819.8 544.4L820.9 527.6L821 544.3L822.1 527.7L822.3 544.3L823.4 527.7L823.5 544.2L824.6 527.8L824.8 544.2L825.8 527.8L826 544.1L827.1 527.8L827.2 544L828.3 527.9L828.5 544L829.6 527.9L829.7 543.9L830.8 528L831 543.9L832.1 528L832.2 543.8L833.3 528.1L833.5 543.7L834.6 528.1L834.7 543.7L835.8 528.1L836 543.6L837.1 528.2L837.2 543.6L838.3 528.2L838.5 543.5L839.6 528.3L839.7 543.5L840.8 528.3L841 543.4L842.1 528.4L842.2 543.3L843.3 528.4L843.5 543.3L844.5 528.5L844.7 543.2L845.8 528.5L845.9 543.2L847 528.5L847.2 543.1L848.3 528.6L848.4 543L849.5 528.6L849.7 543L850.8 528.7L850.9 542.9L852 528.7L852.2 542.9L853.3 528.8L853.4 542.8L854.5 528.8L854.7 542.8L855.8 528.8L855.9 542.7L857 528.9L857.2 542.6L858.3 528.9L858.4 542.6L859.5 529L859.7 542.5L860.8 529L860.9 542.5L862 529.1L862.2 542.4L863.3 529.1L863.4 542.3L864.5 529.2L864.7 542.3L865.7 529.2L865.9 542.2L867 529.2L867.1 542.2L868.2 529.3L868.4 542.1L869.5 529.3L869.6 542.1L870.7 529.4L870.9 542L872 529.4L872.1 541.9L873.2 529.5L873.4 541.9L874.5 529.5L874.6 541.8L875.7 529.5L875.9 541.8L877 529.6L877.1 541.7L878.2 529.6L878.4 541.6L879.5 529.7L879.6 541.6L880.7 529.7L880.9 541.5L882 529.8L882.1 541.5L883.2 529.8L883.4 541.4L884.4 529.8L884.6 541.4L885.7 529.9L885.8 541.3L886.9 529.9L887.1 541.2L888.2 530L888.3 541.2L889.4 530L889.6 541.1L890.7 530.1L890.8 541.1L891.9 530.1L892.1 541L893.2 530.2L893.3 541L894.4 530.2L894.6 540.9L895.7 530.2L895.8 540.8L896.9 530.3L897.1 540.8L898.2 530.3L898.3 540.7L899.4 530.4L899.6 540.7L900.7 530.4L900.8 540.6L901.9 530.5L902.1 540.5L903.2 530.5L903.3 540.5L904.4 530.5L904.6 540.4L905.6 530.6L905.8 540.4L906.9 530.6L907 540.3L908.1 530.7L908.3 540.3L909.4 530.7L909.5 540.2L910.6 530.8L910.8 540.1L911.9 530.8L912 540.1L913.1 530.9L913.3 540L914.4 530.9L914.5 540L915.6 530.9L915.8 539.9L916.9 531L917 539.8L918.1 531L918.3 539.8L919.4 531.1L919.5 539.7L920.6 531.1L920.8 539.7L921.9 531.2L922 539.6L923.1 531.2L923.3 539.6L924.3 531.2L924.5 539.5L925.6 531.3L925.8 539.4L926.8 531.3L927 539.4L928.1 531.4L928.2 539.3L929.3 531.4L929.5 539.3L930.6 531.5L930.7 539.2L931.8 531.5L932 539.1L933.1 531.6L933.2 539.1L934.3 531.6L934.5 539L935.6 531.6L935.7 539L936.8 531.7L937 538.9L938.1 531.7L938.2 538.9L939.3 531.8L939.5 538.8L940.6 531.8L940.7 538.7L941.8 531.9L942 538.7L943.1 531.9L943.2 538.6L944.3 531.9L944.5 538.6L945.5 532L945.7 538.5L946.8 532L946.9 538.4L948 532.1L948.2 538.4L949.3 532.1L949.4 538.3L950.5 532.2L950.7 538.3L951.8 532.2L951.9 538.2L953 532.2L953.2 538.2L954.3 532.3L954.4 538.1L955.5 532.3L955.7 538L956.8 532.4L956.9 538L958 532.4L958.2 537.9L959.3 532.5L959.4 537.9L960.5 532.5L960.7 537.8L961.8 532.6L961.9 537.7L963 532.6L963.2 537.7L964.2 532.6L964.4 537.6L965.5 532.7L965.6 537.6L966.7 532.7L966.9 537.5L968 532.8L968.1 537.5L969.2 532.8L969.4 537.4L970.5 532.9L970.6 537.3L971.7 532.9L971.9 537.3L973 532.9L973.1 537.2L974.2 533L974.4 537.2L975.5 533L975.6 537.1L976.7 533.1L976.9 537.1L978 533.1L978.1 537L979.2 533.2L979.4 536.9L980.5 533.2L980.6 536.9L981.7 533.3L981.9 536.8L983 533.3L983.1 536.8L984.2 533.3L984.4 536.7L985.4 533.4L985.6 536.6L986.7 533.4L986.8 536.6L987.9 533.5L988.1 536.5L989.2 533.5L989.3 536.5L990.4 533.6L990.6 536.4L991.7 533.6L991.8 536.4L992.9 533.6L993.1 536.3L994.2 533.7L994.3 536.2L995.4 533.7L995.6 536.2L996.7 533.8L996.8 536.1L997.9 533.8L998.1 536.1L999.2 533.9L999.3 536L1000.4 533.9L1000.6 535.9L1001.7 534L1001.8 535.9L1002.9 534L1003.1 535.8L1004.1 534L1004.3 535.8L1005.4 534.1L1005.5 535.7L1006.6 534.1L1006.8 535.7L1007.9 534.2L1008 535.6L1009.1 534.2L1009.3 535.5L1010.4 534.3L1010.5 535.5L1011.6 534.3L1011.8 535.4L1012.9 534.3L1013 535.4L1014.1 534.4L1014.3 535.3L1015.4 534.4L1015.5 535.2L1016.6 534.5L1016.8 535.2L1017.9 534.5L1018 535.1L1019.1 534.6L1019.3 535.1L1020.4 534.6L1020.5 535L1021.6 534.7L1021.8 535L1022.9 534.7L1023 534.9L1024.1 534.7L1024.3 534.8L1025.4 534.8L1026.6 534.8L1026.7 534.7L1027.8 534.9L1028 534.7L1029.1 535L1029.2 534.7L1030.3 535L1030.5 534.6L1031.6 535.1L1031.7 534.6L1032.8 535.1L1033 534.5L1034.1 535.2L1034.2 534.5L1035.3 535.2L1035.5 534.4L1036.6 535.3L1036.7 534.4L1037.8 535.4L1038 534.3L1039.1 535.4L1039.2 534.3L1040.3 535.5L1040.5 534.3L1041.6 535.5L1041.7 534.2L1042.8 535.6L1043 534.2L1044 535.7L1044.2 534.1L1045.3 535.7L1045.4 534.1L1046.5 535.8L1046.7 534L1047.8 535.8L1047.9 534L1049 535.9L1049.2 534L1050.3 535.9L1050.4 533.9L1051.5 536L1051.7 533.9L1052.8 536.1L1052.9 533.8L1054 536.1L1054.2 533.8L1055.3 536.2L1055.4 533.7L1056.5 536.2L1056.7 533.7L1057.8 536.3L1057.9 533.6L1059 536.4L1059.2 533.6L1060.3 536.4L1060.4 533.6L1061.5 536.5L1061.7 533.5L1062.8 536.5L1062.9 533.5L1064 536.6L1064.2 533.4L1065.2 536.6L1065.4 533.4L1066.5 536.7L1066.6 533.3L1067.7 536.8L1067.9 533.3L1069 536.8L1069.1 533.3L1070.2 536.9L1070.4 533.2L1071.5 536.9L1071.6 533.2L1072.7 537L1072.9 533.1L1074 537.1L1074.1 533.1L1075.2 537.1L1075.4 533L1076.5 537.2L1076.6 533L1077.7 537.2L1077.9 532.9L1079 537.3L1079.1 532.9L1080.2 537.3L1080.4 532.9L1081.5 537.4L1081.6 532.8L1082.7 537.5L1082.9 532.8L1083.9 537.5L1084.1 532.7L1085.2 537.6L1085.3 532.7L1086.4 537.6L1086.6 532.6L1087.7 537.7L1087.8 532.6L1088.9 537.7L1089.1 532.6L1090.2 537.8L1090.3 532.5L1091.4 537.9L1091.6 532.5L1092.7 537.9L1092.8 532.4L1093.9 538L1094.1 532.4L1095.2 538L1095.3 532.3L1096.4 538.1L1096.6 532.3L1097.7 538.2L1097.8 532.2L1098.9 538.2L1099.1 532.2L1100.2 538.3L1100.3 532.2L1101.4 538.3L1101.6 532.1L1102.7 538.4L1102.8 532.1L1103.9 538.4L1104.1 532L1105.1 538.5L1105.3 532L1106.4 538.6L1106.5 531.9L1107.6 538.6L1107.8 531.9L1108.9 538.7L1109 531.9L1110.1 538.7L1110.3 531.8L1111.4 538.8L1111.5 531.8L1112.6 538.9L1112.8 531.7L1113.9 538.9L1114 531.7L1115.1 539L1115.3 531.6L1116.4 539L1116.5 531.6L1117.6 539.1L1117.8 531.6L1118.9 539.1L1119 531.5L1120.1 539.2L1120.3 531.5L1121.4 539.3L1121.5 531.4L1122.6 539.3L1122.8 531.4L1123.8 539.4L1124 531.3L1125.1 539.4L1125.2 531.3L1126.3 539.5L1126.5 531.2L1127.6 539.6L1127.7 531.2L1128.8 539.6L1129 531.2L1130.1 539.7L1130.2 531.1L1131.3 539.7L1131.5 531.1L1132.6 539.8L1132.7 531L1133.8 539.8L1134 531L1135.1 539.9L1135.2 530.9L1136.3 540L1136.5 530.9L1137.6 540L1137.7 530.9L1138.8 540.1L1139 530.8L1140.1 540.1L1140.2 530.8L1141.3 540.2L1141.5 530.7L1142.6 540.3L1142.7 530.7L1143.8 540.3L1144 530.6L1145 540.4L1145.2 530.6L1146.3 540.4L1146.4 530.5L1147.5 540.5L1147.7 530.5L1148.8 540.5L1148.9 530.5L1150 540.6L1150.2 530.4L1151.3 540.7L1151.4 530.4L1152.5 540.7L1152.7 530.3L1153.8 540.8L1153.9 530.3L1155 540.8L1155.2 530.2L1156.3 540.9L1156.4 530.2L1157.5 541L1157.7 530.2L1158.8 541L1158.9 530.1L1160 541.1L1160.2 530.1L1161.3 541.1L1161.4 530L1162.5 541.2L1162.7 530L1163.7 541.2L1163.9 529.9L1165 541.3L1165.1 529.9L1166.2 541.4L1166.4 529.8L1167.5 541.4L1167.6 529.8L1168.7 541.5L1168.9 529.8L1170 541.5L1170.1 529.7L1171.2 541.6L1171.4 529.7L1172.5 541.6L1172.6 529.6L1173.7 541.7L1173.9 529.6L1175 541.8L1175.1 529.5L1176.2 541.8L1176.4 529.5L1177.5 541.9L1177.6 529.5L1178.7 541.9L1178.9 529.4L1180 542L1180.1 529.4L1181.2 542.1L1181.4 529.3L1182.5 542.1L1182.6 529.3L1183.7 542.2L1183.9 529.2L1184.9 542.2L1185.1 529.2L1186.2 542.3L1186.3 529.2L1187.4 542.3L1187.6 529.1L1188.7 542.4L1188.8 529.1L1189.9 542.5L1190.1 529L1191.2 542.5L1191.3 529L1192.4 542.6L1192.6 528.9L1193.7 542.6L1193.8 528.9L1194.9 542.7L1195.1 528.8L1196.2 542.8L1196.3 528.8L1197.4 542.8L1197.6 528.8L1198.7 542.9L1198.8 528.7L1199.9 542.9L1200.1 528.7L1201.2 543L1201.3 528.6L1202.4 543L1202.6 528.6L1203.6 543.1L1203.8 528.5L1204.9 543.2L1205 528.5L1206.1 543.2L1206.3 528.5L1207.4 543.3L1207.5 528.4L1208.6 543.3L1208.8 528.4L1209.9 543.4L1210 528.3L1211.1 543.5L1211.3 528.3L1212.4 543.5L1212.5 528.2L1213.6 543.6L1213.8 528.2L1214.9 543.6L1215 528.1L1216.1 543.7L1216.3 528.1L1217.4 543.7L1217.5 528.1L1218.6 543.8L1218.8 528L1219.9 543.9L1220 528L1221.1 543.9L1221.3 527.9L1222.4 544L1222.5 527.9L1223.6 544L1223.8 527.8L1224.8 544.1L1225 527.8L1226.1 544.2L1226.2 527.8L1227.3 544.2L1227.5 527.7L1228.6 544.3L1228.7 527.7L1229.8 544.3L1230 527.6L1231.1 544.4L1231.2 527.6L1232.3 544.4L1232.5 527.5L1233.6 544.5L1233.7 527.5L1234.8 544.6L1235 527.4L1236.1 544.6L1236.2 527.4L1237.3 544.7L1237.5 527.4L1238.6 544.7L1238.7 527.3L1239.8 544.8L1240 527.3L1241.1 544.8L1241.2 527.2L1242.3 544.9L1242.5 527.2L1243.5 545L1243.7 527.1L1244.8 545L1244.9 527.1L1246 545.1L1246.2 527.1L1247.3 545.1L1247.4 527L1248.5 545.2L1248.7 527L1249.8 545.3L1249.9 526.9L1251 545.3L1251.2 526.9L1252.3 545.4L1252.4 526.8L1253.5 545.4L1253.7 526.8L1254.8 545.5L1254.9 526.7L1256 545.5L1256.2 526.7L1257.3 545.6L1257.4 526.7L1258.5 545.7L1258.7 526.6L1259.8 545.7L1259.9 526.6L1261 545.8L1261.2 526.5L1262.3 545.8L1262.4 526.5L1263.5 545.9L1263.7 526.4L1264.7 546L1264.9 526.4L1266 546L1266.1 526.4L1267.2 546.1L1267.4 526.3L1268.5 546.1L1268.6 526.3L1269.7 546.2L1269.9 526.2L1271 546.2L1271.1 526.2L1272.2 546.3L1272.4 526.1L1273.5 546.4L1273.6 526.1L1274.7 546.4L1274.9 526.1L1276 546.5L1276.1 526L1277.2 546.5L1277.4 526L1278.5 546.6L1278.6 525.9L1279.7 546.7L1279.9 525.9L1281 546.7L1281.1 525.8L1282.2 546.8L1282.4 525.8L1283.4 546.8L1283.6 525.7L1284.7 546.9L1284.8 525.7L1285.9 546.9L1286.1 525.7L1287.2 547L1287.3 525.6L1288.4 547.1L1288.6 525.6L1289.7 547.1L1289.8 525.5L1290.9 547.2L1291.1 525.5L1292.2 547.2L1292.3 525.4L1293.4 547.3L1293.6 525.4L1294.7 547.4L1294.8 525.4L1295.9 547.4L1296.1 525.3L1297.2 547.5L1297.3 525.3L1298.4 547.5L1298.6 525.2L1299.7 547.6L1299.8 525.2L1300.9 547.6L1301.1 525.1L1302.2 547.7L1302.3 525.1L1303.4 547.8L1303.6 525L1304.6 547.8L1304.8 525L1305.9 547.9L1306 525L1307.1 547.9L1307.3 524.9L1308.4 548L1308.5 524.9L1309.6 548.1L1309.8 524.8L1310.9 548.1L1311 524.8L1312.1 548.2L1312.3 524.7L1313.4 548.2L1313.5 524.7L1314.6 548.3L1314.8 524.7L1315.9 548.3L1316 524.6L1317.1 548.4L1317.3 524.6L1318.4 548.5L1318.5 524.5L1319.6 548.5L1319.8 524.5L1320.9 548.6L1321 524.4L1322.1 548.6L1322.3 524.4L1323.3 548.7L1323.5 524.3L1324.6 548.7L1324.8 524.3L1325.8 548.8L1326 524.3L1327.1 548.9L1327.2 524.2L1328.3 548.9L1328.5 524.2L1329.6 549L1329.7 524.1L1330.8 549L1331 524.1L1332.1 549.1L1332.2 524L1333.3 549.2L1333.5 524L1334.6 549.2L1334.7 524L1335.8 549.3L1336 523.9L1337.1 549.3L1337.2 523.9L1338.3 549.4L1338.5 523.8L1339.6 549.4L1339.7 523.8L1340.8 549.5L1341 523.7L1342.1 549.6L1342.2 523.7L1343.3 549.6L1343.5 523.7L1344.5 549.7"/>
<path class="s" stroke="#ff7832" d="M706.3 549.7L706.8 538.5L706.9 549.7L707.4 538.5L707.5 549.7L708 538.5L708.2 549.7L708.6 538.6L708.8 549.6L709.3 538.6L709.4 549.6L709.9 538.6L710 549.6L710.5 538.6L710.7 549.6L711.1 538.6L711.3 549.6L711.8 538.6L711.9 549.6L712.4 538.6L712.5 549.5L713 538.6L713.2 549.5L713.6 538.6L713.8 549.5L714.2 538.6L714.4 549.5L714.9 538.6L715 549.5L715.5 538.6L715.7 549.5L716.1 538.6L716.3 549.5L716.7 538.6L716.9 549.4L717.4 538.7L717.5 549.4L718 538.7L718.1 549.4L718.6 538.7L718.8 549.4L719.2 538.7L719.4 549.4L719.9 538.7L720 549.4L720.5 538.7L720.6 549.4L721.1 538.7L721.3 549.3L721.7 538.7L721.9 549.3L722.4 538.7L722.5 549.3L723 538.7L723.1 549.3L723.6 538.7L723.8 549.3L724.2 538.7L724.4 549.3L724.8 538.7L725 549.3L725.5 538.7L725.6 549.2L726.1 538.8L726.2 549.2L726.7 538.8L726.9 549.2L727.3 538.8L727.5 549.2L728 538.8L728.1 549.2L728.6 538.8L728.7 549.2L729.2 538.8L729.4 549.2L729.8 538.8L730 549.1L730.5 538.8L730.6 549.1L731.1 538.8L731.2 549.1L731.7 538.8L731.9 549.1L732.3 538.8L732.5 549.1L733 538.8L733.1 549.1L733.6 538.8L733.7 549.1L734.2 538.8L734.4 549L734.8 538.9L735 549L735.4 538.9L735.6 549L736.1 538.9L736.2 549L736.7 538.9L736.8 549L737.3 538.9L737.5 549L737.9 538.9L738.1 549L738.6 538.9L738.7 548.9L739.2 538.9L739.3 548.9L739.8 538.9L740 548.9L740.4 538.9L740.6 548.9L741.1 538.9L741.2 548.9L741.7 538.9L741.8 548.9L742.3 538.9L742.5 548.9L742.9 539L743.1 548.8L743.6 539L743.7 548.8L744.2 539L744.3 548.8L744.8 539L745 548.8L745.4 539L745.6 548.8L746 539L746.2 548.8L746.7 539L746.8 548.7L747.3 539L747.4 548.7L747.9 539L748.1 548.7L748.5 539L748.7 548.7L749.2 539L749.3 548.7L749.8 539L749.9 548.7L750.4 539L750.6 548.7L751 539L751.2 548.6L751.7 539.1L751.8 548.6L752.3 539.1L752.4 548.6L752.9 539.1L753.1 548.6L753.5 539.1L753.7 548.6L754.1 539.1L754.3 548.6L754.8 539.1L754.9 548.6L755.4 539.1L755.6 548.5L756 539.1L756.2 548.5L756.6 539.1L756.8 548.5L757.3 539.1L757.4 548.5L757.9 539.1L758 548.5L758.5 539.1L758.7 548.5L759.1 539.1L759.3 548.5L759.8 539.1L759.9 548.4L760.4 539.2L760.5 548.4L761 539.2L761.2 548.4L761.6 539.2L761.8 548.4L762.3 539.2L762.4 548.4L762.9 539.2L763 548.4L763.5 539.2L763.7 548.4L764.1 539.2L764.3 548.3L764.7 539.2L764.9 548.3L765.4 539.2L765.5 548.3L766 539.2L766.1 548.3L766.6 539.2L766.8 548.3L767.2 539.2L767.4 548.3L767.9 539.2L768 548.3L768.5 539.2L768.6 548.2L769.1 539.3L769.3 548.2L769.7 539.3L769.9 548.2L770.4 539.3L770.5 548.2L771 539.3L771.1 548.2L771.6 539.3L771.8 548.2L772.2 539.3L772.4 548.2L772.9 539.3L773 548.1L773.5 539.3L773.6 548.1L774.1 539.3L774.3 548.1L774.7 539.3L774.9 548.1L775.3 539.3L775.5 548.1L776 539.3L776.1 548.1L776.6 539.3L776.7 548.1L777.2 539.4L777.4 548L777.8 539.4L778 548L778.5 539.4L778.6 548L779.1 539.4L779.2 548L779.7 539.4L779.9 548L780.3 539.4L780.5 548L781 539.4L781.1 547.9L781.6 539.4L781.7 547.9L782.2 539.4L782.4 547.9L782.8 539.4L783 547.9L783.5 539.4L783.6 547.9L784.1 539.4L784.2 547.9L784.7 539.4L784.9 547.9L785.3 539.4L785.5 547.8L785.9 539.5L786.1 547.8L786.6 539.5L786.7 547.8L787.2 539.5L787.3 547.8L787.8 539.5L788 547.8L788.4 539.5L788.6 547.8L789.1 539.5L789.2 547.8L789.7 539.5L789.8 547.7L790.3 539.5L790.5 547.7L790.9 539.5L791.1 547.7L791.6 539.5L791.7 547.7L792.2 539.5L792.3 547.7L792.8 539.5L793 547.7L793.4 539.5L793.6 547.7L794 539.5L794.2 547.6L794.7 539.6L794.8 547.6L795.3 539.6L795.5 547.6L795.9 539.6L796.1 547.6L796.5 539.6L796.7 547.6L797.2 539.6L797.3 547.6L797.8 539.6L797.9 547.6L798.4 539.6L798.6 547.5L799 539.6L799.2 547.5L799.7 539.6L799.8 547.5L800.3 539.6L800.4 547.5L800.9 539.6L801.1 547.5L801.5 539.6L801.7 547.5L802.2 539.6L802.3 547.5L802.8 539.6L802.9 547.4L803.4 539.7L803.6 547.4L804 539.7L804.2 547.4L804.6 539.7L804.8 547.4L805.3 539.7L805.4 547.4L805.9 539.7L806 547.4L806.5 539.7L806.7 547.4L807.1 539.7L807.3 547.3L807.8 539.7L807.9 547.3L808.4 539.7L808.5 547.3L809 539.7L809.2 547.3L809.6 539.7L809.8 547.3L810.3 539.7L810.4 547.3L810.9 539.7L811 547.3L811.5 539.8L811.7 547.2L812.1 539.8L812.3 547.2L812.8 539.8L812.9 547.2L813.4 539.8L813.5 547.2L814 539.8L814.2 547.2L814.6 539.8L814.8 547.2L815.2 539.8L815.4 547.1L815.9 539.8L816 547.1L816.5 539.8L816.6 547.1L817.1 539.8L817.3 547.1L817.7 539.8L817.9 547.1L818.4 539.8L818.5 547.1L819 539.8L819.1 547.1L819.6 539.8L819.8 547L820.2 539.9L820.4 547L820.9 539.9L821 547L821.5 539.9L821.6 547L822.1 539.9L822.3 547L822.7 539.9L822.9 547L823.4 539.9L823.5 547L824 539.9L824.1 546.9L824.6 539.9L824.8 546.9L825.2 539.9L825.4 546.9L825.8 539.9L826 546.9L826.5 539.9L826.6 546.9L827.1 539.9L827.2 546.9L827.7 539.9L827.9 546.9L828.3 539.9L828.5 546.8L829 540L829.1 546.8L829.6 540L829.7 546.8L830.2 540L830.4 546.8L830.8 540L831 546.8L831.5 540L831.6 546.8L832.1 540L832.2 546.8L832.7 540L832.9 546.7L833.3 540L833.5 546.7L833.9 540L834.1 546.7L834.6 540L834.7 546.7L835.2 540L835.4 546.7L835.8 540L836 546.7L836.4 540L836.6 546.7L837.1 540L837.2 546.6L837.7 540.1L837.8 546.6L838.3 540.1L838.5 546.6L838.9 540.1L839.1 546.6L839.6 540.1L839.7 546.6L840.2 540.1L840.3 546.6L840.8 540.1L841 546.6L841.4 540.1L841.6 546.5L842.1 540.1L842.2 546.5L842.7 540.1L842.8 546.5L843.3 540.1L843.5 546.5L843.9 540.1L844.1 546.5L844.5 540.1L844.7 546.5L845.2 540.1L845.3 546.5L845.8 540.2L845.9 546.4L846.4 540.2L846.6 546.4L847 540.2L847.2 546.4L847.7 540.2L847.8 546.4L848.3 540.2L848.4 546.4L848.9 540.2L849.1 546.4L849.5 540.2L849.7 546.3L850.2 540.2L850.3 546.3L850.8 540.2L850.9 546.3L851.4 540.2L851.6 546.3L852 540.2L852.2 546.3L852.7 540.2L852.8 546.3L853.3 540.2L853.4 546.3L853.9 540.2L854.1 546.2L854.5 540.3L854.7 546.2L855.1 540.3L855.3 546.2L855.8 540.3L855.9 546.2L856.4 540.3L856.5 546.2L857 540.3L857.2 546.2L857.6 540.3L857.8 546.2L858.3 540.3L858.4 546.1L858.9 540.3L859 546.1L859.5 540.3L859.7 546.1L860.1 540.3L860.3 546.1L860.8 540.3L860.9 546.1L861.4 540.3L861.5 546.1L862 540.3L862.2 546.1L862.6 540.3L862.8 546L863.3 540.4L863.4 546L863.9 540.4L864 546L864.5 540.4L864.7 546L865.1 540.4L865.3 546L865.7 540.4L865.9 546L866.4 540.4L866.5 546L867 540.4L867.1 545.9L867.6 540.4L867.8 545.9L868.2 540.4L868.4 545.9L868.9 540.4L869 545.9L869.5 540.4L869.6 545.9L870.1 540.4L870.3 545.9L870.7 540.4L870.9 545.9L871.4 540.4L871.5 545.8L872 540.5L872.1 545.8L872.6 540.5L872.8 545.8L873.2 540.5L873.4 545.8L873.8 540.5L874 545.8L874.5 540.5L874.6 545.8L875.1 540.5L875.3 545.8L875.7 540.5L875.9 545.7L876.3 540.5L876.5 545.7L877 540.5L877.1 545.7L877.6 540.5L877.7 545.7L878.2 540.5L878.4 545.7L878.8 540.5L879 545.7L879.5 540.5L879.6 545.7L880.1 540.6L880.2 545.6L880.7 540.6L880.9 545.6L881.3 540.6L881.5 545.6L882 540.6L882.1 545.6L882.6 540.6L882.7 545.6L883.2 540.6L883.4 545.6L883.8 540.6L884 545.5L884.4 540.6L884.6 545.5L885.1 540.6L885.2 545.5L885.7 540.6L885.8 545.5L886.3 540.6L886.5 545.5L886.9 540.6L887.1 545.5L887.6 540.6L887.7 545.5L888.2 540.6L888.3 545.4L888.8 540.7L889 545.4L889.4 540.7L889.6 545.4L890.1 540.7L890.2 545.4L890.7 540.7L890.8 545.4L891.3 540.7L891.5 545.4L891.9 540.7L892.1 545.4L892.6 540.7L892.7 545.3L893.2 540.7L893.3 545.3L893.8 540.7L894 545.3L894.4 540.7L894.6 545.3L895 540.7L895.2 545.3L895.7 540.7L895.8 545.3L896.3 540.7L896.4 545.3L896.9 540.7L897.1 545.2L897.5 540.8L897.7 545.2L898.2 540.8L898.3 545.2L898.8 540.8L898.9 545.2L899.4 540.8L899.6 545.2L900 540.8L900.2 545.2L900.7 540.8L900.8 545.2L901.3 540.8L901.4 545.1L901.9 540.8L902.1 545.1L902.5 540.8L902.7 545.1L903.2 540.8L903.3 545.1L903.8 540.8L903.9 545.1L904.4 540.8L904.6 545.1L905 540.8L905.2 545.1L905.6 540.8L905.8 545L906.3 540.9L906.4 545L906.9 540.9L907 545L907.5 540.9L907.7 545L908.1 540.9L908.3 545L908.8 540.9L908.9 545L909.4 540.9L909.5 545L910 540.9L910.2 544.9L910.6 540.9L910.8 544.9L911.3 540.9L911.4 544.9L911.9 540.9L912 544.9L912.5 540.9L912.7 544.9L913.1 540.9L913.3 544.9L913.7 540.9L913.9 544.8L914.4 541L914.5 544.8L915 541L915.2 544.8L915.6 541L915.8 544.8L916.2 541L916.4 544.8L916.9 541L917 544.8L917.5 541L917.6 544.8L918.1 541L918.3 544.7L918.7 541L918.9 544.7L919.4 541L919.5 544.7L920 541L920.1 544.7L920.6 541L920.8 544.7L921.2 541L921.4 544.7L921.9 541L922 544.7L922.5 541L922.6 544.6L923.1 541.1L923.3 544.6L923.7 541.1L923.9 544.6L924.3 541.1L924.5 544.6L925 541.1L925.1 544.6L925.6 541.1L925.8 544.6L926.2 541.1L926.4 544.6L926.8 541.1L927 544.5L927.5 541.1L927.6 544.5L928.1 541.1L928.2 544.5L928.7 541.1L928.9 544.5L929.3 541.1L929.5 544.5L930 541.1L930.1 544.5L930.6 541.1L930.7 544.5L931.2 541.1L931.4 544.4L931.8 541.2L932 544.4L932.5 541.2L932.6 544.4L933.1 541.2L933.2 544.4L933.7 541.2L933.9 544.4L934.3 541.2L934.5 544.4L934.9 541.2L935.1 544.4L935.6 541.2L935.7 544.3L936.2 541.2L936.3 544.3L936.8 541.2L937 544.3L937.4 541.2L937.6 544.3L938.1 541.2L938.2 544.3L938.7 541.2L938.8 544.3L939.3 541.2L939.5 544.3L939.9 541.2L940.1 544.2L940.6 541.3L940.7 544.2L941.2 541.3L941.3 544.2L941.8 541.3L942 544.2L942.4 541.3L942.6 544.2L943.1 541.3L943.2 544.2L943.7 541.3L943.8 544.2L944.3 541.3L944.5 544.1L944.9 541.3L945.1 544.1L945.5 541.3L945.7 544.1L946.2 541.3L946.3 544.1L946.8 541.3L946.9 544.1L947.4 541.3L947.6 544.1L948 541.3L948.2 544L948.7 541.4L948.8 544L949.3 541.4L949.4 544L949.9 541.4L950.1 544L950.5 541.4L950.7 544L951.2 541.4L951.3 544L951.8 541.4L951.9 544L952.4 541.4L952.6 543.9L953 541.4L953.2 543.9L953.6 541.4L953.8 543.9L954.3 541.4L954.4 543.9L954.9 541.4L955.1 543.9L955.5 541.4L955.7 543.9L956.1 541.4L956.3 543.9L956.8 541.4L956.9 543.8L957.4 541.5L957.5 543.8L958 541.5L958.2 543.8L958.6 541.5L958.8 543.8L959.3 541.5L959.4 543.8L959.9 541.5L960 543.8L960.5 541.5L960.7 543.8L961.1 541.5L961.3 543.7L961.8 541.5L961.9 543.7L962.4 541.5L962.5 543.7L963 541.5L963.2 543.7L963.6 541.5L963.8 543.7L964.2 541.5L964.4 543.7L964.9 541.5L965 543.7L965.5 541.5L965.6 543.6L966.1 541.6L966.3 543.6L966.7 541.6L966.9 543.6L967.4 541.6L967.5 543.6L968 541.6L968.1 543.6L968.6 541.6L968.8 543.6L969.2 541.6L969.4 543.6L969.9 541.6L970 543.5L970.5 541.6L970.6 543.5L971.1 541.6L971.3 543.5L971.7 541.6L971.9 543.5L972.4 541.6L972.5 543.5L973 541.6L973.1 543.5L973.6 541.6L973.8 543.5L974.2 541.6L974.4 543.4L974.8 541.7L975 543.4L975.5 541.7L975.6 543.4L976.1 541.7L976.2 543.4L976.7 541.7L976.9 543.4L977.3 541.7L977.5 543.4L978 541.7L978.1 543.4L978.6 541.7L978.7 543.3L979.2 541.7L979.4 543.3L979.8 541.7L980 543.3L980.5 541.7L980.6 543.3L981.1 541.7L981.2 543.3L981.7 541.7L981.9 543.3L982.3 541.7L982.5 543.2L983 541.8L983.1 543.2L983.6 541.8L983.7 543.2L984.2 541.8L984.4 543.2L984.8 541.8L985 543.2L985.4 541.8L985.6 543.2L986.1 541.8L986.2 543.2L986.7 541.8L986.8 543.1L987.3 541.8L987.5 543.1L987.9 541.8L988.1 543.1L988.6 541.8L988.7 543.1L989.2 541.8L989.3 543.1L989.8 541.8L990 543.1L990.4 541.8L990.6 543.1L991.1 541.8L991.2 543L991.7 541.9L991.8 543L992.3 541.9L992.5 543L992.9 541.9L993.1 543L993.5 541.9L993.7 543L994.2 541.9L994.3 543L994.8 541.9L995 543L995.4 541.9L995.6 542.9L996 541.9L996.2 542.9L996.7 541.9L996.8 542.9L997.3 541.9L997.4 542.9L997.9 541.9L998.1 542.9L998.5 541.9L998.7 542.9L999.2 541.9L999.3 542.9L999.8 541.9L999.9 542.8L1000.4 542L1000.6 542.8L1001 542L1001.2 542.8L1001.7 542L1001.8 542.8L1002.3 542L1002.4 542.8L1002.9 542L1003.1 542.8L1003.5 542L1003.7 542.8L1004.1 542L1004.3 542.7L1004.8 542L1004.9 542.7L1005.4 542L1005.5 542.7L1006 542L1006.2 542.7L1006.6 542L1006.8 542.7L1007.3 542L1007.4 542.7L1007.9 542L1008 542.7L1008.5 542L1008.7 542.6L1009.1 542.1L1009.3 542.6L1009.8 542.1L1009.9 542.6L1010.4 542.1L1010.5 542.6L1011 542.1L1011.2 542.6L1011.6 542.1L1011.8 542.6L1012.3 542.1L1012.4 542.6L1012.9 542.1L1013 542.5L1013.5 542.1L1013.7 542.5L1014.1 542.1L1014.3 542.5L1014.7 542.1L1014.9 542.5L1015.4 542.1L1015.5 542.5L1016 542.1L1016.1 542.5L1016.6 542.1L1016.8 542.4L1017.2 542.2L1017.4 542.4L1017.9 542.2L1018 542.4L1018.5 542.2L1018.6 542.4L1019.1 542.2L1019.3 542.4L1019.7 542.2L1019.9 542.4L1020.4 542.2L1020.5 542.4L1021 542.2L1021.1 542.3L1021.6 542.2L1021.8 542.3L1022.2 542.2L1022.4 542.3L1022.9 542.2L1023 542.3L1023.5 542.2L1023.6 542.3L1024.1 542.2L1024.3 542.3L1024.7 542.2L1024.9 542.3L1025.4 542.2L1026 542.3L1026.1 542.2L1026.6 542.3L1026.7 542.2L1027.2 542.3L1027.4 542.2L1027.8 542.3L1028 542.2L1028.5 542.3L1028.6 542.2L1029.1 542.3L1029.2 542.2L1029.7 542.3L1029.9 542.2L1030.3 542.4L1030.5 542.2L1031 542.4L1031.1 542.2L1031.6 542.4L1031.7 542.2L1032.2 542.4L1032.4 542.2L1032.8 542.4L1033 542.2L1033.4 542.4L1033.6 542.2L1034.1 542.4L1034.2 542.1L1034.7 542.5L1034.9 542.1L1035.3 542.5L1035.5 542.1L1035.9 542.5L1036.1 542.1L1036.6 542.5L1036.7 542.1L1037.2 542.5L1037.3 542.1L1037.8 542.5L1038 542.1L1038.4 542.6L1038.6 542.1L1039.1 542.6L1039.2 542.1L1039.7 542.6L1039.8 542.1L1040.3 542.6L1040.5 542.1L1040.9 542.6L1041.1 542.1L1041.6 542.6L1041.7 542.1L1042.2 542.6L1042.3 542L1042.8 542.7L1043 542L1043.4 542.7L1043.6 542L1044 542.7L1044.2 542L1044.7 542.7L1044.8 542L1045.3 542.7L1045.4 542L1045.9 542.7L1046.1 542L1046.5 542.7L1046.7 542L1047.2 542.8L1047.3 542L1047.8 542.8L1047.9 542L1048.4 542.8L1048.6 542L1049 542.8L1049.2 542L1049.7 542.8L1049.8 542L1050.3 542.8L1050.4 542L1050.9 542.8L1051.1 541.9L1051.5 542.9L1051.7 541.9L1052.2 542.9L1052.3 541.9L1052.8 542.9L1052.9 541.9L1053.4 542.9L1053.6 541.9L1054 542.9L1054.2 541.9L1054.6 542.9L1054.8 541.9L1055.3 542.9L1055.4 541.9L1055.9 543L1056 541.9L1056.5 543L1056.7 541.9L1057.1 543L1057.3 541.9L1057.8 543L1057.9 541.9L1058.4 543L1058.5 541.9L1059 543L1059.2 541.9L1059.6 543L1059.8 541.8L1060.3 543.1L1060.4 541.8L1060.9 543.1L1061 541.8L1061.5 543.1L1061.7 541.8L1062.1 543.1L1062.3 541.8L1062.8 543.1L1062.9 541.8L1063.4 543.1L1063.5 541.8L1064 543.1L1064.2 541.8L1064.6 543.2L1064.8 541.8L1065.2 543.2L1065.4 541.8L1065.9 543.2L1066 541.8L1066.5 543.2L1066.6 541.8L1067.1 543.2L1067.3 541.8L1067.7 543.2L1067.9 541.8L1068.4 543.2L1068.5 541.7L1069 543.3L1069.1 541.7L1069.6 543.3L1069.8 541.7L1070.2 543.3L1070.4 541.7L1070.9 543.3L1071 541.7L1071.5 543.3L1071.6 541.7L1072.1 543.3L1072.3 541.7L1072.7 543.4L1072.9 541.7L1073.3 543.4L1073.5 541.7L1074 543.4L1074.1 541.7L1074.6 543.4L1074.8 541.7L1075.2 543.4L1075.4 541.7L1075.8 543.4L1076 541.7L1076.5 543.4L1076.6 541.6L1077.1 543.5L1077.2 541.6L1077.7 543.5L1077.9 541.6L1078.3 543.5L1078.5 541.6L1079 543.5L1079.1 541.6L1079.6 543.5L1079.7 541.6L1080.2 543.5L1080.4 541.6L1080.8 543.5L1081 541.6L1081.5 543.6L1081.6 541.6L1082.1 543.6L1082.2 541.6L1082.7 543.6L1082.9 541.6L1083.3 543.6L1083.5 541.6L1083.9 543.6L1084.1 541.6L1084.6 543.6L1084.7 541.6L1085.2 543.6L1085.3 541.5L1085.8 543.7L1086 541.5L1086.4 543.7L1086.6 541.5L1087.1 543.7L1087.2 541.5L1087.7 543.7L1087.8 541.5L1088.3 543.7L1088.5 541.5L1088.9 543.7L1089.1 541.5L1089.6 543.7L1089.7 541.5L1090.2 543.8L1090.3 541.5L1090.8 543.8L1091 541.5L1091.4 543.8L1091.6 541.5L1092.1 543.8L1092.2 541.5L1092.7 543.8L1092.8 541.5L1093.3 543.8L1093.5 541.5L1093.9 543.8L1094.1 541.4L1094.5 543.9L1094.7 541.4L1095.2 543.9L1095.3 541.4L1095.8 543.9L1095.9 541.4L1096.4 543.9L1096.6 541.4L1097 543.9L1097.2 541.4L1097.7 543.9L1097.8 541.4L1098.3 543.9L1098.4 541.4L1098.9 544L1099.1 541.4L1099.5 544L1099.7 541.4L1100.2 544L1100.3 541.4L1100.8 544L1100.9 541.4L1101.4 544L1101.6 541.4L1102 544L1102.2 541.4L1102.7 544L1102.8 541.3L1103.3 544.1L1103.4 541.3L1103.9 544.1L1104.1 541.3L1104.5 544.1L1104.7 541.3L1105.1 544.1L1105.3 541.3L1105.8 544.1L1105.9 541.3L1106.4 544.1L1106.5 541.3L1107 544.2L1107.2 541.3L1107.6 544.2L1107.8 541.3L1108.3 544.2L1108.4 541.3L1108.9 544.2L1109 541.3L1109.5 544.2L1109.7 541.3L1110.1 544.2L1110.3 541.3L1110.8 544.2L1110.9 541.2L1111.4 544.3L1111.5 541.2L1112 544.3L1112.2 541.2L1112.6 544.3L1112.8 541.2L1113.2 544.3L1113.4 541.2L1113.9 544.3L1114 541.2L1114.5 544.3L1114.7 541.2L1115.1 544.3L1115.3 541.2L1115.7 544.4L1115.9 541.2L1116.4 544.4L1116.5 541.2L1117 544.4L1117.1 541.2L1117.6 544.4L1117.8 541.2L1118.2 544.4L1118.4 541.2L1118.9 544.4L1119 541.2L1119.5 544.4L1119.6 541.1L1120.1 544.5L1120.3 541.1L1120.7 544.5L1120.9 541.1L1121.4 544.5L1121.5 541.1L1122 544.5L1122.1 541.1L1122.6 544.5L1122.8 541.1L1123.2 544.5L1123.4 541.1L1123.8 544.5L1124 541.1L1124.5 544.6L1124.6 541.1L1125.1 544.6L1125.2 541.1L1125.7 544.6L1125.9 541.1L1126.3 544.6L1126.5 541.1L1127 544.6L1127.1 541.1L1127.6 544.6L1127.7 541.1L1128.2 544.6L1128.4 541L1128.8 544.7L1129 541L1129.5 544.7L1129.6 541L1130.1 544.7L1130.2 541L1130.7 544.7L1130.9 541L1131.3 544.7L1131.5 541L1132 544.7L1132.1 541L1132.6 544.7L1132.7 541L1133.2 544.8L1133.4 541L1133.8 544.8L1134 541L1134.4 544.8L1134.6 541L1135.1 544.8L1135.2 541L1135.7 544.8L1135.8 541L1136.3 544.8L1136.5 541L1136.9 544.8L1137.1 540.9L1137.6 544.9L1137.7 540.9L1138.2 544.9L1138.3 540.9L1138.8 544.9L1139 540.9L1139.4 544.9L1139.6 540.9L1140.1 544.9L1140.2 540.9L1140.7 544.9L1140.8 540.9L1141.3 545L1141.5 540.9L1141.9 545L1142.1 540.9L1142.6 545L1142.7 540.9L1143.2 545L1143.3 540.9L1143.8 545L1144 540.9L1144.4 545L1144.6 540.9L1145 545L1145.2 540.8L1145.7 545.1L1145.8 540.8L1146.3 545.1L1146.4 540.8L1146.9 545.1L1147.1 540.8L1147.5 545.1L1147.7 540.8L1148.2 545.1L1148.3 540.8L1148.8 545.1L1148.9 540.8L1149.4 545.1L1149.6 540.8L1150 545.2L1150.2 540.8L1150.7 545.2L1150.8 540.8L1151.3 545.2L1151.4 540.8L1151.9 545.2L1152.1 540.8L1152.5 545.2L1152.7 540.8L1153.1 545.2L1153.3 540.8L1153.8 545.2L1153.9 540.7L1154.4 545.3L1154.6 540.7L1155 545.3L1155.2 540.7L1155.6 545.3L1155.8 540.7L1156.3 545.3L1156.4 540.7L1156.9 545.3L1157 540.7L1157.5 545.3L1157.7 540.7L1158.1 545.3L1158.3 540.7L1158.8 545.4L1158.9 540.7L1159.4 545.4L1159.5 540.7L1160 545.4L1160.2 540.7L1160.6 545.4L1160.8 540.7L1161.3 545.4L1161.4 540.7L1161.9 545.4L1162 540.7L1162.5 545.4L1162.7 540.6L1163.1 545.5L1163.3 540.6L1163.7 545.5L1163.9 540.6L1164.4 545.5L1164.5 540.6L1165 545.5L1165.1 540.6L1165.6 545.5L1165.8 540.6L1166.2 545.5L1166.4 540.6L1166.9 545.5L1167 540.6L1167.5 545.6L1167.6 540.6L1168.1 545.6L1168.3 540.6L1168.7 545.6L1168.9 540.6L1169.4 545.6L1169.5 540.6L1170 545.6L1170.1 540.6L1170.6 545.6L1170.8 540.6L1171.2 545.7L1171.4 540.5L1171.9 545.7L1172 540.5L1172.5 545.7L1172.6 540.5L1173.1 545.7L1173.3 540.5L1173.7 545.7L1173.9 540.5L1174.3 545.7L1174.5 540.5L1175 545.7L1175.1 540.5L1175.6 545.8L1175.7 540.5L1176.2 545.8L1176.4 540.5L1176.8 545.8L1177 540.5L1177.5 545.8L1177.6 540.5L1178.1 545.8L1178.2 540.5L1178.7 545.8L1178.9 540.5L1179.3 545.8L1179.5 540.4L1180 545.9L1180.1 540.4L1180.6 545.9L1180.7 540.4L1181.2 545.9L1181.4 540.4L1181.8 545.9L1182 540.4L1182.5 545.9L1182.6 540.4L1183.1 545.9L1183.2 540.4L1183.7 545.9L1183.9 540.4L1184.3 546L1184.5 540.4L1184.9 546L1185.1 540.4L1185.6 546L1185.7 540.4L1186.2 546L1186.3 540.4L1186.8 546L1187 540.4L1187.4 546L1187.6 540.4L1188.1 546L1188.2 540.3L1188.7 546.1L1188.8 540.3L1189.3 546.1L1189.5 540.3L1189.9 546.1L1190.1 540.3L1190.6 546.1L1190.7 540.3L1191.2 546.1L1191.3 540.3L1191.8 546.1L1192 540.3L1192.4 546.1L1192.6 540.3L1193 546.2L1193.2 540.3L1193.7 546.2L1193.8 540.3L1194.3 546.2L1194.5 540.3L1194.9 546.2L1195.1 540.3L1195.5 546.2L1195.7 540.3L1196.2 546.2L1196.3 540.3L1196.8 546.2L1196.9 540.2L1197.4 546.3L1197.6 540.2L1198 546.3L1198.2 540.2L1198.7 546.3L1198.8 540.2L1199.3 546.3L1199.4 540.2L1199.9 546.3L1200.1 540.2L1200.5 546.3L1200.7 540.2L1201.2 546.3L1201.3 540.2L1201.8 546.4L1201.9 540.2L1202.4 546.4L1202.6 540.2L1203 546.4L1203.2 540.2L1203.6 546.4L1203.8 540.2L1204.3 546.4L1204.4 540.2L1204.9 546.4L1205 540.2L1205.5 546.5L1205.7 540.1L1206.1 546.5L1206.3 540.1L1206.8 546.5L1206.9 540.1L1207.4 546.5L1207.5 540.1L1208 546.5L1208.2 540.1L1208.6 546.5L1208.8 540.1L1209.3 546.5L1209.4 540.1L1209.9 546.6L1210 540.1L1210.5 546.6L1210.7 540.1L1211.1 546.6L1211.3 540.1L1211.8 546.6L1211.9 540.1L1212.4 546.6L1212.5 540.1L1213 546.6L1213.2 540.1L1213.6 546.6L1213.8 540L1214.2 546.7L1214.4 540L1214.9 546.7L1215 540L1215.5 546.7L1215.6 540L1216.1 546.7L1216.3 540L1216.7 546.7L1216.9 540L1217.4 546.7L1217.5 540L1218 546.7L1218.1 540L1218.6 546.8L1218.8 540L1219.2 546.8L1219.4 540L1219.9 546.8L1220 540L1220.5 546.8L1220.6 540L1221.1 546.8L1221.3 540L1221.7 546.8L1221.9 540L1222.4 546.8L1222.5 539.9L1223 546.9L1223.1 539.9L1223.6 546.9L1223.8 539.9L1224.2 546.9L1224.4 539.9L1224.8 546.9L1225 539.9L1225.5 546.9L1225.6 539.9L1226.1 546.9L1226.2 539.9L1226.7 546.9L1226.9 539.9L1227.3 547L1227.5 539.9L1228 547L1228.1 539.9L1228.6 547L1228.7 539.9L1229.2 547L1229.4 539.9L1229.8 547L1230 539.9L1230.5 547L1230.6 539.9L1231.1 547L1231.2 539.8L1231.7 547.1L1231.9 539.8L1232.3 547.1L1232.5 539.8L1232.9 547.1L1233.1 539.8L1233.6 547.1L1233.7 539.8L1234.2 547.1L1234.4 539.8L1234.8 547.1L1235 539.8L1235.4 547.1L1235.6 539.8L1236.1 547.2L1236.2 539.8L1236.7 547.2L1236.8 539.8L1237.3 547.2L1237.5 539.8L1237.9 547.2L1238.1 539.8L1238.6 547.2L1238.7 539.8L1239.2 547.2L1239.3 539.8L1239.8 547.3L1240 539.7L1240.4 547.3L1240.6 539.7L1241.1 547.3L1241.2 539.7L1241.7 547.3L1241.8 539.7L1242.3 547.3L1242.5 539.7L1242.9 547.3L1243.1 539.7L1243.5 547.3L1243.7 539.7L1244.2 547.4L1244.3 539.7L1244.8 547.4L1244.9 539.7L1245.4 547.4L1245.6 539.7L1246 547.4L1246.2 539.7L1246.7 547.4L1246.8 539.7L1247.3 547.4L1247.4 539.7L1247.9 547.4L1248.1 539.6L1248.5 547.5L1248.7 539.6L1249.2 547.5L1249.3 539.6L1249.8 547.5L1249.9 539.6L1250.4 547.5L1250.6 539.6L1251 547.5L1251.2 539.6L1251.7 547.5L1251.8 539.6L1252.3 547.5L1252.4 539.6L1252.9 547.6L1253.1 539.6L1253.5 547.6L1253.7 539.6L1254.1 547.6L1254.3 539.6L1254.8 547.6L1254.9 539.6L1255.4 547.6L1255.5 539.6L1256 547.6L1256.2 539.6L1256.6 547.6L1256.8 539.5L1257.3 547.7L1257.4 539.5L1257.9 547.7L1258 539.5L1258.5 547.7L1258.7 539.5L1259.1 547.7L1259.3 539.5L1259.8 547.7L1259.9 539.5L1260.4 547.7L1260.5 539.5L1261 547.7L1261.2 539.5L1261.6 547.8L1261.8 539.5L1262.3 547.8L1262.4 539.5L1262.9 547.8L1263 539.5L1263.5 547.8L1263.7 539.5L1264.1 547.8L1264.3 539.5L1264.7 547.8L1264.9 539.5L1265.4 547.8L1265.5 539.4L1266 547.9L1266.1 539.4L1266.6 547.9L1266.8 539.4L1267.2 547.9L1267.4 539.4L1267.9 547.9L1268 539.4L1268.5 547.9L1268.6 539.4L1269.1 547.9L1269.3 539.4L1269.7 547.9L1269.9 539.4L1270.4 548L1270.5 539.4L1271 548L1271.1 539.4L1271.6 548L1271.8 539.4L1272.2 548L1272.4 539.4L1272.8 548L1273 539.4L1273.5 548L1273.6 539.4L1274.1 548.1L1274.3 539.3L1274.7 548.1L1274.9 539.3L1275.3 548.1L1275.5 539.3L1276 548.1L1276.1 539.3L1276.6 548.1L1276.7 539.3L1277.2 548.1L1277.4 539.3L1277.8 548.1L1278 539.3L1278.5 548.2L1278.6 539.3L1279.1 548.2L1279.2 539.3L1279.7 548.2L1279.9 539.3L1280.3 548.2L1280.5 539.3L1281 548.2L1281.1 539.3L1281.6 548.2L1281.7 539.3L1282.2 548.2L1282.4 539.2L1282.8 548.3L1283 539.2L1283.4 548.3L1283.6 539.2L1284.1 548.3L1284.2 539.2L1284.7 548.3L1284.8 539.2L1285.3 548.3L1285.5 539.2L1285.9 548.3L1286.1 539.2L1286.6 548.3L1286.7 539.2L1287.2 548.4L1287.3 539.2L1287.8 548.4L1288 539.2L1288.4 548.4L1288.6 539.2L1289.1 548.4L1289.2 539.2L1289.7 548.4L1289.8 539.2L1290.3 548.4L1290.5 539.2L1290.9 548.4L1291.1 539.1L1291.6 548.5L1291.7 539.1L1292.2 548.5L1292.3 539.1L1292.8 548.5L1293 539.1L1293.4 548.5L1293.6 539.1L1294 548.5L1294.2 539.1L1294.7 548.5L1294.8 539.1L1295.3 548.5L1295.4 539.1L1295.9 548.6L1296.1 539.1L1296.5 548.6L1296.7 539.1L1297.2 548.6L1297.3 539.1L1297.8 548.6L1297.9 539.1L1298.4 548.6L1298.6 539.1L1299 548.6L1299.2 539.1L1299.7 548.6L1299.8 539L1300.3 548.7L1300.4 539L1300.9 548.7L1301.1 539L1301.5 548.7L1301.7 539L1302.2 548.7L1302.3 539L1302.8 548.7L1302.9 539L1303.4 548.7L1303.6 539L1304 548.7L1304.2 539L1304.6 548.8L1304.8 539L1305.3 548.8L1305.4 539L1305.9 548.8L1306 539L1306.5 548.8L1306.7 539L1307.1 548.8L1307.3 539L1307.8 548.8L1307.9 539L1308.4 548.9L1308.5 538.9L1309 548.9L1309.2 538.9L1309.6 548.9L1309.8 538.9L1310.3 548.9L1310.4 538.9L1310.9 548.9L1311 538.9L1311.5 548.9L1311.7 538.9L1312.1 548.9L1312.3 538.9L1312.7 549L1312.9 538.9L1313.4 549L1313.5 538.9L1314 549L1314.2 538.9L1314.6 549L1314.8 538.9L1315.2 549L1315.4 538.9L1315.9 549L1316 538.9L1316.5 549L1316.6 538.8L1317.1 549.1L1317.3 538.8L1317.7 549.1L1317.9 538.8L1318.4 549.1L1318.5 538.8L1319 549.1L1319.1 538.8L1319.6 549.1L1319.8 538.8L1320.2 549.1L1320.4 538.8L1320.9 549.1L1321 538.8L1321.5 549.2L1321.6 538.8L1322.1 549.2L1322.3 538.8L1322.7 549.2L1322.9 538.8L1323.3 549.2L1323.5 538.8L1324 549.2L1324.1 538.8L1324.6 549.2L1324.8 538.8L1325.2 549.2L1325.4 538.7L1325.8 549.3L1326 538.7L1326.5 549.3L1326.6 538.7L1327.1 549.3L1327.2 538.7L1327.7 549.3L1327.9 538.7L1328.3 549.3L1328.5 538.7L1329 549.3L1329.1 538.7L1329.6 549.3L1329.7 538.7L1330.2 549.4L1330.4 538.7L1330.8 549.4L1331 538.7L1331.5 549.4L1331.6 538.7L1332.1 549.4L1332.2 538.7L1332.7 549.4L1332.9 538.7L1333.3 549.4L1333.5 538.7L1333.9 549.4L1334.1 538.6L1334.6 549.5L1334.7 538.6L1335.2 549.5L1335.3 538.6L1335.8 549.5L1336 538.6L1336.4 549.5L1336.6 538.6L1337.1 549.5L1337.2 538.6L1337.7 549.5L1337.8 538.6L1338.3 549.5L1338.5 538.6L1338.9 549.6L1339.1 538.6L1339.6 549.6L1339.7 538.6L1340.2 549.6L1340.3 538.6L1340.8 549.6L1341 538.6L1341.4 549.6L1341.6 538.6L1342.1 549.6L1342.2 538.6L1342.7 549.7L1342.8 538.5L1343.3 549.7L1343.5 538.5L1343.9 549.7L1344.1 538.5L1344.5 549.7"/>
</g>
<path fill-rule="evenodd" fill="#e00000" d="M703.3 317H1345.9Q1347.9 317 1347.9 319V546.6Q1347.9 548.6 1345.9 548.6H703.3Q701.3 548.6 701.3 546.6V319Q701.3 317 703.3 317ZM709.2 324.8V540.8H1339.8V324.8Z"/>
<path fill-rule="evenodd" fill="#e00000" d="M318 860H1733Q1735 860 1735 862V905Q1735 907 1733 907H318Q316 907 316 905V862Q316 860 318 860ZM324 868V899H1727V868Z"/>
<path d="M1731.5 863A362.3 337.2 0 0 0 1385.1 423.7L1350 424.2" fill="none" stroke="#e00000" stroke-width="8" stroke-linecap="round"/>
<path d="M1375.5 406.9L1349 424.2L1377.3 438.4" fill="none" stroke="#e00000" stroke-width="8" stroke-linecap="round" stroke-linejoin="round"/>
<text class="t" transform="matrix(0.9841 0 0 1.0032 167.43 102.28)">800</text>
<text class="t" transform="matrix(0.9952 0 0 1.0073 166.46 305.97)">600</text>
<text class="t" transform="matrix(0.9953 0 0 0.9993 166.46 509.89)">400</text>
<text class="t" transform="matrix(0.9995 0 0 1.0031 166.48 714.38)">200</text>
<text class="t" transform="matrix(1.0184 0 0 1.0098 258.55 919.08)">0</text>
<text class="t" transform="matrix(1.0066 0 0 0.9917 301.27 975.40)">0</text>
<text class="t" transform="matrix(0.9885 0 0 0.9913 575.78 975.40)">1000</text>
<text class="t" transform="matrix(1.0004 0 0 0.9911 916.38 975.40)">2000</text>
<text class="t" transform="matrix(0.9941 0 0 0.9908 1259.45 975.39)">3000</text>
<text class="t" transform="matrix(0.9972 0 0 0.9913 1600.56 975.40)">4000</text>
<text class="l" transform="matrix(0.9952 0 0 0.9470 797.68 1055.82)">Output Code</text>
<text class="l" transform="matrix(0 -0.9532 1.0624 0 112.23 612.24)">CV</text>
<text class="u" transform="matrix(0 -0.9491 1.0176 0 145.73 516.64)">REF</text>
<text class="u" transform="matrix(0 -0.9157 1.0414 0 78.52 393.31)">2</text>
<text class="a" transform="matrix(1.0025 0 0 1.0000 875.73 184.60)">CRD only</text>
<text class="a" transform="matrix(1.0138 0 0 0.9871 883.54 658.88)">4th cycle</text>
<text class="a" transform="matrix(1.0036 0 0 1.0048 883.01 737.93)">5th cycle</text>
<circle cx="1016.3" cy="780.3" r="6.1" fill="#000"/>
<circle cx="1016.3" cy="799.7" r="6.1" fill="#000"/>
<circle cx="1016.3" cy="819.2" r="6.1" fill="#000"/>
</svg></body></html>
